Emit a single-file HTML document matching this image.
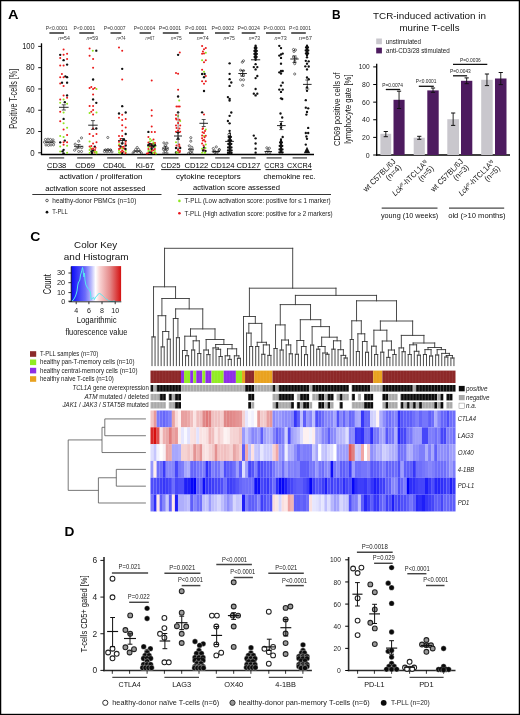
<!DOCTYPE html>
<html><head><meta charset="utf-8"><title>Figure</title>
<style>
html,body{margin:0;padding:0;background:#fff;}
body{width:520px;height:715px;overflow:hidden;}
svg{display:block;font-family:"Liberation Sans", sans-serif;will-change:transform;}
</style></head>
<body>
<svg width="520" height="715" viewBox="0 0 520 715">
<rect x="0" y="0" width="520" height="715" fill="#fff"/>
<text x="8.10" y="18.90" font-size="13.4" fill="#000" font-weight="bold" textLength="10.50" lengthAdjust="spacingAndGlyphs">A</text>
<text x="332.10" y="19.30" font-size="12" fill="#000" font-weight="bold" textLength="8.60" lengthAdjust="spacingAndGlyphs">B</text>
<text x="30.20" y="241.30" font-size="12.2" fill="#000" font-weight="bold" textLength="10.10" lengthAdjust="spacingAndGlyphs">C</text>
<text x="64.60" y="535.90" font-size="12" fill="#000" font-weight="bold" textLength="9.90" lengthAdjust="spacingAndGlyphs">D</text>
<line x1="41.50" y1="43.30" x2="41.50" y2="155.00" stroke="#000" stroke-width="1.3"/>
<line x1="40.90" y1="154.50" x2="314.00" y2="154.50" stroke="#000" stroke-width="1.4"/>
<line x1="38.20" y1="46.40" x2="41.50" y2="46.40" stroke="#000" stroke-width="0.9"/>
<text x="34.70" y="49.19" font-size="8.2" fill="#222" text-anchor="end" textLength="12.50" lengthAdjust="spacingAndGlyphs">100</text>
<line x1="38.20" y1="67.68" x2="41.50" y2="67.68" stroke="#000" stroke-width="0.9"/>
<text x="34.70" y="70.47" font-size="8.2" fill="#222" text-anchor="end" textLength="8.80" lengthAdjust="spacingAndGlyphs">80</text>
<line x1="38.20" y1="88.96" x2="41.50" y2="88.96" stroke="#000" stroke-width="0.9"/>
<text x="34.70" y="91.75" font-size="8.2" fill="#222" text-anchor="end" textLength="8.80" lengthAdjust="spacingAndGlyphs">60</text>
<line x1="38.20" y1="110.24" x2="41.50" y2="110.24" stroke="#000" stroke-width="0.9"/>
<text x="34.70" y="113.03" font-size="8.2" fill="#222" text-anchor="end" textLength="8.80" lengthAdjust="spacingAndGlyphs">40</text>
<line x1="38.20" y1="131.52" x2="41.50" y2="131.52" stroke="#000" stroke-width="0.9"/>
<text x="34.70" y="134.31" font-size="8.2" fill="#222" text-anchor="end" textLength="8.80" lengthAdjust="spacingAndGlyphs">20</text>
<line x1="38.20" y1="152.80" x2="41.50" y2="152.80" stroke="#000" stroke-width="0.9"/>
<text x="34.70" y="155.59" font-size="8.2" fill="#222" text-anchor="end" textLength="4.40" lengthAdjust="spacingAndGlyphs">0</text>
<text x="13.20" y="102.22" font-size="10.2" fill="#222" text-anchor="middle" textLength="59.90" lengthAdjust="spacingAndGlyphs" transform="rotate(-90 13.20 98.75)">Positive T-cells [%]</text>
<text x="45.70" y="29.90" font-size="5.3" fill="#333" textLength="21.90" lengthAdjust="spacingAndGlyphs">P&lt;0.0001</text>
<line x1="49.40" y1="33.00" x2="64.00" y2="33.00" stroke="#3a3a3a" stroke-width="1.6"/>
<text x="58.20" y="40.24" font-size="5.7" fill="#333" textLength="11.70" lengthAdjust="spacingAndGlyphs"><tspan font-style="italic">n</tspan>=54</text>
<text x="73.60" y="29.90" font-size="5.3" fill="#333" textLength="21.60" lengthAdjust="spacingAndGlyphs">P&lt;0.0001</text>
<line x1="79.30" y1="33.00" x2="93.80" y2="33.00" stroke="#3a3a3a" stroke-width="1.6"/>
<text x="86.40" y="40.24" font-size="5.7" fill="#333" textLength="11.70" lengthAdjust="spacingAndGlyphs"><tspan font-style="italic">n</tspan>=59</text>
<text x="103.80" y="29.90" font-size="5.3" fill="#333" textLength="21.80" lengthAdjust="spacingAndGlyphs">P=0.0007</text>
<line x1="110.50" y1="33.00" x2="121.30" y2="33.00" stroke="#3a3a3a" stroke-width="1.6"/>
<text x="116.50" y="40.24" font-size="5.7" fill="#333" textLength="9.10" lengthAdjust="spacingAndGlyphs"><tspan font-style="italic">n</tspan>=74</text>
<text x="133.70" y="29.90" font-size="5.3" fill="#333" textLength="21.50" lengthAdjust="spacingAndGlyphs">P=0.0004</text>
<line x1="139.60" y1="33.00" x2="151.00" y2="33.00" stroke="#3a3a3a" stroke-width="1.6"/>
<text x="145.50" y="40.24" font-size="5.7" fill="#333" textLength="8.90" lengthAdjust="spacingAndGlyphs"><tspan font-style="italic">n</tspan>=67</text>
<text x="158.70" y="29.90" font-size="5.3" fill="#333" textLength="22.50" lengthAdjust="spacingAndGlyphs">P=0.0001</text>
<line x1="162.80" y1="33.00" x2="178.40" y2="33.00" stroke="#3a3a3a" stroke-width="1.6"/>
<text x="170.80" y="40.24" font-size="5.7" fill="#333" textLength="11.00" lengthAdjust="spacingAndGlyphs"><tspan font-style="italic">n</tspan>=75</text>
<text x="185.30" y="29.90" font-size="5.3" fill="#333" textLength="21.80" lengthAdjust="spacingAndGlyphs">P&lt;0.0001</text>
<line x1="189.00" y1="33.00" x2="203.60" y2="33.00" stroke="#3a3a3a" stroke-width="1.6"/>
<text x="196.70" y="40.24" font-size="5.7" fill="#333" textLength="12.10" lengthAdjust="spacingAndGlyphs"><tspan font-style="italic">n</tspan>=74</text>
<text x="211.60" y="29.90" font-size="5.3" fill="#333" textLength="22.50" lengthAdjust="spacingAndGlyphs">P=0.0002</text>
<line x1="215.00" y1="33.00" x2="229.60" y2="33.00" stroke="#3a3a3a" stroke-width="1.6"/>
<text x="223.40" y="40.24" font-size="5.7" fill="#333" textLength="11.40" lengthAdjust="spacingAndGlyphs"><tspan font-style="italic">n</tspan>=75</text>
<text x="237.60" y="29.90" font-size="5.3" fill="#333" textLength="22.40" lengthAdjust="spacingAndGlyphs">P=0.0024</text>
<line x1="241.70" y1="33.00" x2="255.60" y2="33.00" stroke="#3a3a3a" stroke-width="1.6"/>
<text x="248.70" y="40.24" font-size="5.7" fill="#333" textLength="11.30" lengthAdjust="spacingAndGlyphs"><tspan font-style="italic">n</tspan>=73</text>
<text x="263.50" y="29.90" font-size="5.3" fill="#333" textLength="22.20" lengthAdjust="spacingAndGlyphs">P&lt;0.0001</text>
<line x1="266.00" y1="33.00" x2="280.80" y2="33.00" stroke="#3a3a3a" stroke-width="1.6"/>
<text x="274.60" y="40.24" font-size="5.7" fill="#333" textLength="12.10" lengthAdjust="spacingAndGlyphs"><tspan font-style="italic">n</tspan>=73</text>
<text x="289.10" y="29.90" font-size="5.3" fill="#333" textLength="21.90" lengthAdjust="spacingAndGlyphs">P&lt;0.0001</text>
<line x1="291.20" y1="33.00" x2="305.80" y2="33.00" stroke="#3a3a3a" stroke-width="1.6"/>
<text x="298.80" y="40.24" font-size="5.7" fill="#333" textLength="13.20" lengthAdjust="spacingAndGlyphs"><tspan font-style="italic">n</tspan>=67</text>
<line x1="49.20" y1="157.90" x2="64.20" y2="157.90" stroke="#666" stroke-width="1.5"/>
<line x1="77.20" y1="157.90" x2="92.50" y2="157.90" stroke="#666" stroke-width="1.5"/>
<line x1="107.20" y1="157.90" x2="122.20" y2="157.90" stroke="#666" stroke-width="1.5"/>
<line x1="137.20" y1="157.90" x2="152.20" y2="157.90" stroke="#666" stroke-width="1.5"/>
<line x1="163.00" y1="157.90" x2="178.50" y2="157.90" stroke="#666" stroke-width="1.5"/>
<line x1="190.00" y1="157.90" x2="204.50" y2="157.90" stroke="#666" stroke-width="1.5"/>
<line x1="215.20" y1="157.90" x2="229.60" y2="157.90" stroke="#666" stroke-width="1.5"/>
<line x1="241.20" y1="157.90" x2="255.60" y2="157.90" stroke="#666" stroke-width="1.5"/>
<line x1="266.60" y1="157.90" x2="281.60" y2="157.90" stroke="#666" stroke-width="1.5"/>
<line x1="292.60" y1="157.90" x2="307.00" y2="157.90" stroke="#666" stroke-width="1.5"/>
<text x="47.10" y="167.50" font-size="7.6" fill="#000" textLength="19.10" lengthAdjust="spacingAndGlyphs">CD38</text>
<text x="75.20" y="167.50" font-size="7.6" fill="#000" textLength="19.90" lengthAdjust="spacingAndGlyphs">CD69</text>
<text x="102.90" y="167.50" font-size="7.6" fill="#000" textLength="23.30" lengthAdjust="spacingAndGlyphs">CD40L</text>
<text x="135.70" y="167.50" font-size="7.6" fill="#000" textLength="18.20" lengthAdjust="spacingAndGlyphs">Ki-67</text>
<text x="161.10" y="167.50" font-size="7.6" fill="#000" textLength="19.50" lengthAdjust="spacingAndGlyphs">CD25</text>
<text x="184.40" y="167.50" font-size="7.6" fill="#000" textLength="23.90" lengthAdjust="spacingAndGlyphs">CD122</text>
<text x="210.70" y="167.50" font-size="7.6" fill="#000" textLength="23.90" lengthAdjust="spacingAndGlyphs">CD124</text>
<text x="236.60" y="167.50" font-size="7.6" fill="#000" textLength="23.70" lengthAdjust="spacingAndGlyphs">CD127</text>
<text x="264.30" y="167.50" font-size="7.6" fill="#000" textLength="19.30" lengthAdjust="spacingAndGlyphs">CCR3</text>
<text x="287.10" y="167.50" font-size="7.6" fill="#000" textLength="24.60" lengthAdjust="spacingAndGlyphs">CXCR4</text>
<line x1="47.10" y1="169.60" x2="154.80" y2="169.60" stroke="#000" stroke-width="0.9"/>
<line x1="161.10" y1="169.60" x2="260.80" y2="169.60" stroke="#000" stroke-width="0.9"/>
<line x1="265.50" y1="169.60" x2="311.70" y2="169.60" stroke="#000" stroke-width="0.9"/>
<text x="59.20" y="178.68" font-size="7.3" fill="#000" textLength="83.30" lengthAdjust="spacingAndGlyphs">activation / proliferation</text>
<text x="176.00" y="178.68" font-size="7.3" fill="#000" textLength="64.70" lengthAdjust="spacingAndGlyphs">cytokine receptors</text>
<text x="263.50" y="178.68" font-size="7.3" fill="#000" textLength="52.00" lengthAdjust="spacingAndGlyphs">chemokine rec.</text>
<text x="45.20" y="190.68" font-size="7.3" fill="#000" textLength="100.30" lengthAdjust="spacingAndGlyphs">activation score not assessed</text>
<text x="193.00" y="190.28" font-size="7.3" fill="#000" textLength="87.00" lengthAdjust="spacingAndGlyphs">activation score assessed</text>
<line x1="32.30" y1="194.50" x2="161.50" y2="194.50" stroke="#000" stroke-width="0.8"/>
<line x1="177.70" y1="194.50" x2="331.00" y2="194.50" stroke="#000" stroke-width="0.8"/>
<circle cx="47.00" cy="200.50" r="1.3" fill="none" stroke="#222" stroke-width="0.7"/>
<text x="52.30" y="202.84" font-size="6.6" fill="#222" textLength="84.00" lengthAdjust="spacingAndGlyphs">healthy-donor PBMCs (n=10)</text>
<circle cx="47.00" cy="212.20" r="1.35" fill="#111"/>
<text x="52.30" y="214.44" font-size="6.6" fill="#222" textLength="15.50" lengthAdjust="spacingAndGlyphs">T-PLL</text>
<circle cx="179.40" cy="200.90" r="1.3" fill="#8ee620"/>
<text x="184.60" y="203.14" font-size="6.6" fill="#222" textLength="146.00" lengthAdjust="spacingAndGlyphs">T-PLL (Low activation score: positive for ≤ 1 marker)</text>
<circle cx="179.40" cy="213.20" r="1.3" fill="#e8141c"/>
<text x="184.60" y="215.54" font-size="6.6" fill="#222" textLength="148.00" lengthAdjust="spacingAndGlyphs">T-PLL (High activation score: positive for ≥ 2 markers)</text>
<circle cx="45.50" cy="139.50" r="1.08" fill="none" stroke="#222" stroke-width="0.6"/>
<circle cx="48.00" cy="139.20" r="1.08" fill="none" stroke="#222" stroke-width="0.6"/>
<circle cx="50.50" cy="139.50" r="1.08" fill="none" stroke="#222" stroke-width="0.6"/>
<circle cx="53.00" cy="139.80" r="1.08" fill="none" stroke="#222" stroke-width="0.6"/>
<circle cx="44.50" cy="142.20" r="1.08" fill="none" stroke="#222" stroke-width="0.6"/>
<circle cx="47.00" cy="142.00" r="1.08" fill="none" stroke="#222" stroke-width="0.6"/>
<circle cx="49.50" cy="142.40" r="1.08" fill="none" stroke="#222" stroke-width="0.6"/>
<circle cx="52.00" cy="142.00" r="1.08" fill="none" stroke="#222" stroke-width="0.6"/>
<circle cx="54.00" cy="142.30" r="1.08" fill="none" stroke="#222" stroke-width="0.6"/>
<circle cx="46.00" cy="145.00" r="1.08" fill="none" stroke="#222" stroke-width="0.6"/>
<circle cx="48.50" cy="145.30" r="1.08" fill="none" stroke="#222" stroke-width="0.6"/>
<circle cx="51.00" cy="145.00" r="1.08" fill="none" stroke="#222" stroke-width="0.6"/>
<circle cx="53.50" cy="144.80" r="1.08" fill="none" stroke="#222" stroke-width="0.6"/>
<line x1="45.50" y1="142.20" x2="53.00" y2="142.20" stroke="#111" stroke-width="0.9"/>
<circle cx="63.60" cy="49.60" r="1.02" fill="#ea1b1b"/>
<circle cx="60.20" cy="54.80" r="1.17" fill="#111"/>
<circle cx="63.60" cy="54.80" r="1.02" fill="#ea1b1b"/>
<circle cx="67.10" cy="53.80" r="1.02" fill="#ea1b1b"/>
<circle cx="60.20" cy="58.10" r="1.02" fill="#ea1b1b"/>
<circle cx="63.60" cy="60.20" r="1.17" fill="#111"/>
<circle cx="67.10" cy="59.00" r="1.02" fill="#ea1b1b"/>
<circle cx="67.10" cy="64.60" r="1.17" fill="#111"/>
<circle cx="60.20" cy="65.60" r="1.02" fill="#ea1b1b"/>
<circle cx="63.60" cy="65.60" r="1.02" fill="#ea1b1b"/>
<circle cx="61.90" cy="74.00" r="1.02" fill="#ea1b1b"/>
<circle cx="65.40" cy="76.30" r="1.17" fill="#111"/>
<circle cx="67.10" cy="77.20" r="1.17" fill="#111"/>
<circle cx="60.20" cy="77.30" r="1.02" fill="#ea1b1b"/>
<circle cx="63.60" cy="77.30" r="1.02" fill="#ea1b1b"/>
<circle cx="62.00" cy="82.70" r="1.17" fill="#111"/>
<circle cx="60.20" cy="83.60" r="1.02" fill="#ea1b1b"/>
<circle cx="67.10" cy="82.70" r="1.17" fill="#111"/>
<circle cx="63.60" cy="86.00" r="1.02" fill="#ea1b1b"/>
<circle cx="63.60" cy="95.40" r="1.02" fill="#ea1b1b"/>
<circle cx="67.10" cy="95.40" r="1.17" fill="#111"/>
<circle cx="67.10" cy="97.70" r="1.02" fill="#ea1b1b"/>
<circle cx="60.20" cy="99.40" r="1.02" fill="#ea1b1b"/>
<circle cx="63.60" cy="99.40" r="1.02" fill="#8fe51f"/>
<circle cx="60.20" cy="102.80" r="1.02" fill="#8fe51f"/>
<circle cx="67.10" cy="103.70" r="1.02" fill="#8fe51f"/>
<circle cx="64.80" cy="102.20" r="1.17" fill="#111"/>
<circle cx="60.20" cy="111.70" r="1.02" fill="#ea1b1b"/>
<circle cx="63.60" cy="112.50" r="1.02" fill="#8fe51f"/>
<circle cx="63.60" cy="118.90" r="1.17" fill="#111"/>
<circle cx="60.20" cy="121.30" r="1.02" fill="#ea1b1b"/>
<circle cx="63.60" cy="123.30" r="1.02" fill="#8fe51f"/>
<circle cx="67.10" cy="127.70" r="1.02" fill="#8fe51f"/>
<circle cx="63.60" cy="129.60" r="1.02" fill="#ea1b1b"/>
<circle cx="67.10" cy="135.00" r="1.02" fill="#ea1b1b"/>
<circle cx="60.20" cy="136.00" r="1.02" fill="#8fe51f"/>
<circle cx="63.60" cy="137.10" r="1.02" fill="#8fe51f"/>
<circle cx="64.80" cy="140.60" r="1.17" fill="#111"/>
<circle cx="60.20" cy="142.30" r="1.17" fill="#111"/>
<circle cx="63.60" cy="142.30" r="1.02" fill="#ea1b1b"/>
<circle cx="67.10" cy="142.30" r="1.02" fill="#ea1b1b"/>
<circle cx="60.20" cy="146.60" r="1.02" fill="#8fe51f"/>
<circle cx="63.60" cy="144.80" r="1.02" fill="#ea1b1b"/>
<circle cx="67.10" cy="145.80" r="1.02" fill="#8fe51f"/>
<circle cx="63.60" cy="149.80" r="1.17" fill="#111"/>
<circle cx="62.50" cy="151.30" r="1.17" fill="#111"/>
<circle cx="60.20" cy="151.50" r="1.02" fill="#8fe51f"/>
<circle cx="67.10" cy="152.70" r="1.02" fill="#8fe51f"/>
<circle cx="63.60" cy="153.30" r="1.17" fill="#111"/>
<line x1="59.00" y1="107.30" x2="68.60" y2="107.30" stroke="#111" stroke-width="0.9"/>
<line x1="63.80" y1="104.80" x2="63.80" y2="110.00" stroke="#111" stroke-width="0.7"/>
<line x1="61.80" y1="104.80" x2="65.80" y2="104.80" stroke="#111" stroke-width="0.7"/>
<line x1="61.80" y1="110.00" x2="65.80" y2="110.00" stroke="#111" stroke-width="0.7"/>
<circle cx="81.50" cy="137.90" r="1.08" fill="none" stroke="#222" stroke-width="0.6"/>
<circle cx="78.70" cy="141.20" r="1.08" fill="none" stroke="#222" stroke-width="0.6"/>
<circle cx="75.20" cy="144.20" r="1.08" fill="none" stroke="#222" stroke-width="0.6"/>
<circle cx="81.80" cy="147.60" r="1.08" fill="none" stroke="#222" stroke-width="0.6"/>
<circle cx="74.60" cy="150.20" r="1.08" fill="none" stroke="#222" stroke-width="0.6"/>
<circle cx="78.70" cy="151.50" r="1.08" fill="none" stroke="#222" stroke-width="0.6"/>
<circle cx="81.50" cy="151.50" r="1.08" fill="none" stroke="#222" stroke-width="0.6"/>
<circle cx="76.80" cy="148.20" r="1.08" fill="none" stroke="#222" stroke-width="0.6"/>

<line x1="74.00" y1="146.30" x2="83.30" y2="146.30" stroke="#111" stroke-width="0.9"/>
<line x1="78.65" y1="144.60" x2="78.65" y2="148.00" stroke="#111" stroke-width="0.7"/>
<line x1="76.65" y1="144.60" x2="80.65" y2="144.60" stroke="#111" stroke-width="0.7"/>
<line x1="76.65" y1="148.00" x2="80.65" y2="148.00" stroke="#111" stroke-width="0.7"/>
<circle cx="89.60" cy="48.40" r="1.02" fill="#ea1b1b"/>
<circle cx="92.80" cy="50.70" r="1.02" fill="#8fe51f"/>
<circle cx="96.30" cy="50.70" r="1.17" fill="#111"/>
<circle cx="89.60" cy="55.80" r="1.02" fill="#ea1b1b"/>
<circle cx="93.10" cy="59.00" r="1.02" fill="#ea1b1b"/>
<circle cx="93.10" cy="67.70" r="1.02" fill="#ea1b1b"/>
<circle cx="93.10" cy="79.50" r="1.17" fill="#111"/>
<circle cx="89.60" cy="87.90" r="1.02" fill="#ea1b1b"/>
<circle cx="91.30" cy="87.10" r="1.02" fill="#ea1b1b"/>
<circle cx="93.10" cy="89.00" r="1.02" fill="#ea1b1b"/>
<circle cx="94.80" cy="87.90" r="1.02" fill="#ea1b1b"/>
<circle cx="96.50" cy="89.00" r="1.02" fill="#8fe51f"/>
<circle cx="93.10" cy="94.50" r="1.02" fill="#ea1b1b"/>
<circle cx="93.10" cy="99.40" r="1.17" fill="#111"/>
<circle cx="96.30" cy="102.80" r="1.17" fill="#111"/>
<circle cx="89.60" cy="106.00" r="1.02" fill="#ea1b1b"/>
<circle cx="93.10" cy="106.00" r="1.02" fill="#ea1b1b"/>
<circle cx="93.10" cy="110.00" r="1.02" fill="#ea1b1b"/>
<circle cx="91.30" cy="111.70" r="1.02" fill="#ea1b1b"/>
<circle cx="89.60" cy="112.90" r="1.02" fill="#8fe51f"/>
<circle cx="93.10" cy="114.60" r="1.02" fill="#ea1b1b"/>
<circle cx="96.50" cy="112.50" r="1.02" fill="#8fe51f"/>
<circle cx="93.10" cy="128.50" r="1.02" fill="#ea1b1b"/>
<circle cx="96.30" cy="128.50" r="1.17" fill="#111"/>
<circle cx="89.60" cy="134.00" r="1.02" fill="#ea1b1b"/>
<circle cx="96.50" cy="134.00" r="1.02" fill="#ea1b1b"/>
<circle cx="93.10" cy="136.00" r="1.02" fill="#ea1b1b"/>
<circle cx="89.60" cy="141.40" r="1.02" fill="#8fe51f"/>
<circle cx="93.10" cy="143.50" r="1.02" fill="#ea1b1b"/>
<circle cx="96.50" cy="142.30" r="1.02" fill="#ea1b1b"/>
<circle cx="89.60" cy="146.60" r="1.02" fill="#ea1b1b"/>
<circle cx="91.30" cy="146.00" r="1.02" fill="#ea1b1b"/>
<circle cx="94.80" cy="146.60" r="1.17" fill="#111"/>
<circle cx="89.60" cy="150.00" r="1.02" fill="#8fe51f"/>
<circle cx="91.50" cy="149.00" r="1.02" fill="#ea1b1b"/>
<circle cx="93.10" cy="150.50" r="1.17" fill="#111"/>
<circle cx="95.00" cy="150.00" r="1.02" fill="#ea1b1b"/>
<circle cx="96.50" cy="152.00" r="1.02" fill="#8fe51f"/>
<circle cx="89.60" cy="153.00" r="1.02" fill="#8fe51f"/>
<circle cx="92.00" cy="153.00" r="1.17" fill="#111"/>
<circle cx="94.50" cy="152.50" r="1.02" fill="#ea1b1b"/>
<circle cx="90.50" cy="148.00" r="1.02" fill="#8fe51f"/>
<circle cx="95.50" cy="147.80" r="1.02" fill="#ea1b1b"/>
<circle cx="91.50" cy="151.50" r="1.17" fill="#111"/>
<circle cx="94.80" cy="151.80" r="1.02" fill="#8fe51f"/>
<circle cx="93.10" cy="148.60" r="1.02" fill="#ea1b1b"/>
<circle cx="96.50" cy="153.20" r="1.02" fill="#8fe51f"/>
<line x1="88.20" y1="125.20" x2="97.70" y2="125.20" stroke="#111" stroke-width="0.9"/>
<line x1="92.95" y1="120.60" x2="92.95" y2="129.40" stroke="#111" stroke-width="0.7"/>
<line x1="90.95" y1="120.60" x2="94.95" y2="120.60" stroke="#111" stroke-width="0.7"/>
<line x1="90.95" y1="129.40" x2="94.95" y2="129.40" stroke="#111" stroke-width="0.7"/>
<circle cx="104.50" cy="151.60" r="1.08" fill="none" stroke="#222" stroke-width="0.6"/>
<circle cx="107.00" cy="151.90" r="1.08" fill="none" stroke="#222" stroke-width="0.6"/>
<circle cx="109.50" cy="151.60" r="1.08" fill="none" stroke="#222" stroke-width="0.6"/>
<circle cx="112.00" cy="151.90" r="1.08" fill="none" stroke="#222" stroke-width="0.6"/>
<circle cx="105.50" cy="149.80" r="1.08" fill="none" stroke="#222" stroke-width="0.6"/>
<circle cx="108.00" cy="149.50" r="1.08" fill="none" stroke="#222" stroke-width="0.6"/>
<circle cx="110.50" cy="149.80" r="1.08" fill="none" stroke="#222" stroke-width="0.6"/>
<circle cx="107.80" cy="137.50" r="1.08" fill="none" stroke="#222" stroke-width="0.6"/>
<line x1="103.50" y1="150.00" x2="112.00" y2="150.00" stroke="#111" stroke-width="0.9"/>
<circle cx="119.00" cy="47.50" r="1.02" fill="#ea1b1b"/>
<circle cx="122.20" cy="50.70" r="1.02" fill="#ea1b1b"/>
<circle cx="122.20" cy="68.80" r="1.17" fill="#111"/>
<circle cx="122.20" cy="79.50" r="1.02" fill="#ea1b1b"/>
<circle cx="122.20" cy="106.20" r="1.17" fill="#111"/>
<circle cx="119.00" cy="113.50" r="1.17" fill="#111"/>
<circle cx="125.70" cy="112.50" r="1.17" fill="#111"/>
<circle cx="122.20" cy="114.80" r="1.02" fill="#ea1b1b"/>
<circle cx="119.00" cy="117.70" r="1.02" fill="#ea1b1b"/>
<circle cx="125.70" cy="118.90" r="1.02" fill="#ea1b1b"/>
<circle cx="122.20" cy="120.00" r="1.02" fill="#ea1b1b"/>
<circle cx="122.20" cy="125.30" r="1.02" fill="#ea1b1b"/>
<circle cx="125.70" cy="127.50" r="1.02" fill="#ea1b1b"/>
<circle cx="122.20" cy="130.80" r="1.02" fill="#ea1b1b"/>
<circle cx="125.70" cy="134.00" r="1.17" fill="#111"/>
<circle cx="119.00" cy="136.00" r="1.02" fill="#ea1b1b"/>
<circle cx="122.20" cy="136.00" r="1.02" fill="#ea1b1b"/>
<circle cx="119.00" cy="141.70" r="1.02" fill="#ea1b1b"/>
<circle cx="125.70" cy="141.70" r="1.02" fill="#ea1b1b"/>
<circle cx="122.20" cy="143.50" r="1.17" fill="#111"/>
<circle cx="119.00" cy="145.50" r="1.02" fill="#ea1b1b"/>
<circle cx="125.70" cy="145.50" r="1.17" fill="#111"/>
<circle cx="122.20" cy="147.00" r="1.02" fill="#ea1b1b"/>
<circle cx="120.00" cy="148.50" r="1.02" fill="#ea1b1b"/>
<circle cx="124.00" cy="148.50" r="1.02" fill="#ea1b1b"/>
<circle cx="119.00" cy="150.50" r="1.02" fill="#8fe51f"/>
<circle cx="122.20" cy="150.50" r="1.02" fill="#ea1b1b"/>
<circle cx="125.70" cy="150.50" r="1.02" fill="#8fe51f"/>
<circle cx="119.00" cy="152.50" r="1.02" fill="#8fe51f"/>
<circle cx="122.20" cy="153.00" r="1.17" fill="#111"/>
<circle cx="125.70" cy="152.50" r="1.02" fill="#8fe51f"/>
<circle cx="121.00" cy="152.00" r="1.02" fill="#ea1b1b"/>
<circle cx="120.50" cy="139.00" r="1.02" fill="#ea1b1b"/>
<circle cx="124.00" cy="139.50" r="1.17" fill="#111"/>
<circle cx="119.20" cy="144.20" r="1.02" fill="#8fe51f"/>
<circle cx="125.50" cy="144.00" r="1.02" fill="#ea1b1b"/>
<circle cx="120.50" cy="146.50" r="1.17" fill="#111"/>
<circle cx="123.80" cy="146.80" r="1.02" fill="#ea1b1b"/>
<circle cx="122.20" cy="148.60" r="1.02" fill="#8fe51f"/>
<circle cx="119.00" cy="149.00" r="1.02" fill="#ea1b1b"/>
<circle cx="125.50" cy="149.00" r="1.17" fill="#111"/>
<circle cx="123.50" cy="151.80" r="1.02" fill="#ea1b1b"/>
<circle cx="120.00" cy="153.20" r="1.02" fill="#8fe51f"/>
<circle cx="125.50" cy="153.20" r="1.02" fill="#ea1b1b"/>
<line x1="118.00" y1="140.60" x2="127.00" y2="140.60" stroke="#111" stroke-width="0.9"/>
<line x1="122.50" y1="138.50" x2="122.50" y2="143.00" stroke="#111" stroke-width="0.7"/>
<line x1="120.50" y1="138.50" x2="124.50" y2="138.50" stroke="#111" stroke-width="0.7"/>
<line x1="120.50" y1="143.00" x2="124.50" y2="143.00" stroke="#111" stroke-width="0.7"/>
<circle cx="137.20" cy="147.50" r="1.08" fill="none" stroke="#222" stroke-width="0.6"/>
<circle cx="135.70" cy="149.50" r="1.08" fill="none" stroke="#222" stroke-width="0.6"/>
<circle cx="138.70" cy="149.50" r="1.08" fill="none" stroke="#222" stroke-width="0.6"/>
<circle cx="134.20" cy="151.50" r="1.08" fill="none" stroke="#222" stroke-width="0.6"/>
<circle cx="137.20" cy="151.50" r="1.08" fill="none" stroke="#222" stroke-width="0.6"/>
<circle cx="140.20" cy="151.50" r="1.08" fill="none" stroke="#222" stroke-width="0.6"/>
<circle cx="133.00" cy="153.00" r="1.08" fill="none" stroke="#222" stroke-width="0.6"/>
<circle cx="141.40" cy="153.00" r="1.08" fill="none" stroke="#222" stroke-width="0.6"/>
<line x1="134.00" y1="151.20" x2="140.50" y2="151.20" stroke="#111" stroke-width="0.9"/>
<circle cx="151.70" cy="80.40" r="1.02" fill="#ea1b1b"/>
<circle cx="151.70" cy="110.20" r="1.02" fill="#ea1b1b"/>
<circle cx="151.70" cy="115.80" r="1.02" fill="#ea1b1b"/>
<circle cx="151.70" cy="126.40" r="1.02" fill="#ea1b1b"/>
<circle cx="148.40" cy="131.90" r="1.17" fill="#111"/>
<circle cx="151.70" cy="131.90" r="1.02" fill="#ea1b1b"/>
<circle cx="154.90" cy="131.90" r="1.02" fill="#ea1b1b"/>
<circle cx="148.40" cy="137.10" r="1.02" fill="#ea1b1b"/>
<circle cx="151.70" cy="140.60" r="1.02" fill="#8fe51f"/>
<circle cx="150.00" cy="141.50" r="1.02" fill="#8fe51f"/>
<circle cx="148.40" cy="142.50" r="1.02" fill="#ea1b1b"/>
<circle cx="153.40" cy="142.50" r="1.02" fill="#8fe51f"/>
<circle cx="155.00" cy="143.00" r="1.02" fill="#ea1b1b"/>
<circle cx="151.70" cy="144.00" r="1.02" fill="#ea1b1b"/>
<circle cx="148.40" cy="145.00" r="1.17" fill="#111"/>
<circle cx="151.70" cy="145.50" r="1.17" fill="#111"/>
<circle cx="154.90" cy="145.00" r="1.17" fill="#111"/>
<circle cx="148.40" cy="147.00" r="1.02" fill="#8fe51f"/>
<circle cx="151.70" cy="147.00" r="1.02" fill="#ea1b1b"/>
<circle cx="154.90" cy="147.00" r="1.02" fill="#8fe51f"/>
<circle cx="148.40" cy="149.00" r="1.02" fill="#ea1b1b"/>
<circle cx="151.70" cy="149.00" r="1.17" fill="#111"/>
<circle cx="154.90" cy="149.00" r="1.02" fill="#ea1b1b"/>
<circle cx="148.40" cy="151.00" r="1.02" fill="#8fe51f"/>
<circle cx="151.70" cy="151.00" r="1.02" fill="#ea1b1b"/>
<circle cx="154.90" cy="151.00" r="1.02" fill="#8fe51f"/>
<circle cx="148.40" cy="153.00" r="1.02" fill="#ea1b1b"/>
<circle cx="151.70" cy="153.00" r="1.17" fill="#111"/>
<circle cx="154.90" cy="153.00" r="1.02" fill="#ea1b1b"/>
<circle cx="150.00" cy="139.00" r="1.02" fill="#8fe51f"/>
<circle cx="153.50" cy="139.50" r="1.02" fill="#ea1b1b"/>
<circle cx="149.80" cy="143.80" r="1.17" fill="#111"/>
<circle cx="153.60" cy="144.00" r="1.02" fill="#8fe51f"/>
<circle cx="150.00" cy="146.20" r="1.02" fill="#ea1b1b"/>
<circle cx="153.50" cy="146.50" r="1.17" fill="#111"/>
<circle cx="150.00" cy="150.00" r="1.02" fill="#8fe51f"/>
<circle cx="153.30" cy="150.20" r="1.02" fill="#ea1b1b"/>
<circle cx="150.00" cy="152.30" r="1.17" fill="#111"/>
<circle cx="153.30" cy="152.80" r="1.02" fill="#8fe51f"/>
<circle cx="147.00" cy="153.40" r="1.02" fill="#ea1b1b"/>
<circle cx="156.00" cy="153.40" r="1.02" fill="#8fe51f"/>
<line x1="147.00" y1="145.80" x2="156.50" y2="145.80" stroke="#111" stroke-width="0.9"/>
<line x1="151.75" y1="144.00" x2="151.75" y2="148.00" stroke="#111" stroke-width="0.7"/>
<line x1="149.75" y1="144.00" x2="153.75" y2="144.00" stroke="#111" stroke-width="0.7"/>
<line x1="149.75" y1="148.00" x2="153.75" y2="148.00" stroke="#111" stroke-width="0.7"/>
<circle cx="163.90" cy="142.90" r="1.08" fill="none" stroke="#222" stroke-width="0.6"/>
<circle cx="166.90" cy="143.20" r="1.08" fill="none" stroke="#222" stroke-width="0.6"/>
<circle cx="165.40" cy="145.50" r="1.08" fill="none" stroke="#222" stroke-width="0.6"/>
<circle cx="163.50" cy="149.50" r="1.08" fill="none" stroke="#222" stroke-width="0.6"/>
<circle cx="167.30" cy="149.50" r="1.08" fill="none" stroke="#222" stroke-width="0.6"/>
<circle cx="165.40" cy="151.50" r="1.08" fill="none" stroke="#222" stroke-width="0.6"/>
<circle cx="163.80" cy="153.00" r="1.08" fill="none" stroke="#222" stroke-width="0.6"/>
<circle cx="167.00" cy="153.00" r="1.08" fill="none" stroke="#222" stroke-width="0.6"/>
<line x1="162.00" y1="148.00" x2="169.00" y2="148.00" stroke="#111" stroke-width="0.9"/>
<line x1="165.50" y1="146.30" x2="165.50" y2="149.80" stroke="#111" stroke-width="0.7"/>
<line x1="163.50" y1="146.30" x2="167.50" y2="146.30" stroke="#111" stroke-width="0.7"/>
<line x1="163.50" y1="149.80" x2="167.50" y2="149.80" stroke="#111" stroke-width="0.7"/>
<circle cx="179.80" cy="52.50" r="1.02" fill="#ea1b1b"/>
<circle cx="178.10" cy="54.80" r="1.17" fill="#111"/>
<circle cx="176.00" cy="72.90" r="1.02" fill="#ea1b1b"/>
<circle cx="178.10" cy="73.80" r="1.02" fill="#ea1b1b"/>
<circle cx="178.10" cy="89.80" r="1.02" fill="#ea1b1b"/>
<circle cx="178.10" cy="96.50" r="1.17" fill="#111"/>
<circle cx="179.20" cy="100.50" r="1.02" fill="#8fe51f"/>
<circle cx="176.50" cy="106.50" r="1.02" fill="#ea1b1b"/>
<circle cx="178.10" cy="106.50" r="1.02" fill="#ea1b1b"/>
<circle cx="179.70" cy="106.50" r="1.02" fill="#ea1b1b"/>
<circle cx="178.10" cy="112.30" r="1.17" fill="#111"/>
<circle cx="176.00" cy="115.00" r="1.02" fill="#ea1b1b"/>
<circle cx="178.10" cy="116.00" r="1.02" fill="#8fe51f"/>
<circle cx="176.00" cy="118.60" r="1.02" fill="#ea1b1b"/>
<circle cx="180.20" cy="121.00" r="1.02" fill="#8fe51f"/>
<circle cx="176.00" cy="125.60" r="1.02" fill="#ea1b1b"/>
<circle cx="180.20" cy="125.60" r="1.02" fill="#ea1b1b"/>
<circle cx="176.00" cy="131.70" r="1.02" fill="#ea1b1b"/>
<circle cx="180.20" cy="131.70" r="1.02" fill="#ea1b1b"/>
<circle cx="178.10" cy="132.50" r="1.17" fill="#111"/>
<circle cx="178.10" cy="138.30" r="1.17" fill="#111"/>
<circle cx="176.00" cy="142.30" r="1.02" fill="#8fe51f"/>
<circle cx="179.20" cy="144.60" r="1.02" fill="#ea1b1b"/>
<circle cx="176.00" cy="148.00" r="1.17" fill="#111"/>
<circle cx="180.20" cy="148.00" r="1.17" fill="#111"/>
<circle cx="178.10" cy="149.20" r="1.02" fill="#ea1b1b"/>
<circle cx="178.10" cy="152.70" r="1.02" fill="#8fe51f"/>
<circle cx="176.00" cy="152.50" r="1.17" fill="#111"/>
<circle cx="180.00" cy="151.00" r="1.02" fill="#ea1b1b"/>
<line x1="178.10" y1="111.00" x2="178.10" y2="153.50" stroke="#555" stroke-width="0.7"/>
<circle cx="176.50" cy="119.50" r="1.02" fill="#ea1b1b"/>
<circle cx="179.50" cy="119.80" r="1.02" fill="#ea1b1b"/>
<circle cx="178.10" cy="123.00" r="1.02" fill="#ea1b1b"/>
<circle cx="176.50" cy="128.00" r="1.02" fill="#ea1b1b"/>
<circle cx="179.50" cy="128.50" r="1.02" fill="#ea1b1b"/>
<circle cx="178.10" cy="130.80" r="1.02" fill="#ea1b1b"/>
<circle cx="176.50" cy="145.50" r="1.02" fill="#ea1b1b"/>
<circle cx="179.50" cy="146.20" r="1.02" fill="#ea1b1b"/>
<circle cx="178.10" cy="150.50" r="1.02" fill="#ea1b1b"/>
<circle cx="176.60" cy="152.60" r="1.02" fill="#8fe51f"/>
<circle cx="179.60" cy="152.20" r="1.02" fill="#ea1b1b"/>
<line x1="174.00" y1="136.00" x2="182.00" y2="136.00" stroke="#111" stroke-width="0.9"/>
<line x1="178.00" y1="132.50" x2="178.00" y2="139.40" stroke="#111" stroke-width="0.7"/>
<line x1="176.00" y1="132.50" x2="180.00" y2="132.50" stroke="#111" stroke-width="0.7"/>
<line x1="176.00" y1="139.40" x2="180.00" y2="139.40" stroke="#111" stroke-width="0.7"/>
<circle cx="190.80" cy="137.70" r="1.08" fill="none" stroke="#222" stroke-width="0.6"/>
<circle cx="190.80" cy="141.20" r="1.08" fill="none" stroke="#222" stroke-width="0.6"/>
<circle cx="189.30" cy="145.80" r="1.08" fill="none" stroke="#222" stroke-width="0.6"/>
<circle cx="191.80" cy="147.30" r="1.08" fill="none" stroke="#222" stroke-width="0.6"/>
<circle cx="189.80" cy="149.50" r="1.08" fill="none" stroke="#222" stroke-width="0.6"/>
<circle cx="192.00" cy="150.80" r="1.08" fill="none" stroke="#222" stroke-width="0.6"/>
<circle cx="190.20" cy="152.50" r="1.08" fill="none" stroke="#222" stroke-width="0.6"/>
<circle cx="188.60" cy="153.20" r="1.08" fill="none" stroke="#222" stroke-width="0.6"/>
<circle cx="192.00" cy="153.30" r="1.08" fill="none" stroke="#222" stroke-width="0.6"/>
<line x1="188.00" y1="149.20" x2="194.00" y2="149.20" stroke="#111" stroke-width="0.9"/>
<circle cx="202.10" cy="46.00" r="1.02" fill="#ea1b1b"/>
<circle cx="205.80" cy="48.10" r="1.02" fill="#ea1b1b"/>
<circle cx="204.00" cy="49.20" r="1.02" fill="#ea1b1b"/>
<circle cx="202.90" cy="51.50" r="1.02" fill="#ea1b1b"/>
<circle cx="202.10" cy="53.80" r="1.02" fill="#ea1b1b"/>
<circle cx="204.00" cy="53.60" r="1.02" fill="#ea1b1b"/>
<circle cx="205.80" cy="52.70" r="1.02" fill="#8fe51f"/>
<circle cx="202.10" cy="60.20" r="1.02" fill="#8fe51f"/>
<circle cx="205.80" cy="60.20" r="1.02" fill="#ea1b1b"/>
<circle cx="204.00" cy="62.20" r="1.02" fill="#ea1b1b"/>
<circle cx="202.10" cy="69.80" r="1.02" fill="#ea1b1b"/>
<circle cx="204.00" cy="71.70" r="1.02" fill="#8fe51f"/>
<circle cx="202.10" cy="74.00" r="1.17" fill="#111"/>
<circle cx="204.60" cy="74.00" r="1.17" fill="#111"/>
<circle cx="205.80" cy="76.00" r="1.02" fill="#ea1b1b"/>
<circle cx="204.00" cy="77.20" r="1.17" fill="#111"/>
<circle cx="202.10" cy="81.30" r="1.02" fill="#ea1b1b"/>
<circle cx="205.80" cy="81.30" r="1.02" fill="#ea1b1b"/>
<circle cx="204.00" cy="83.80" r="1.02" fill="#ea1b1b"/>
<circle cx="204.00" cy="91.00" r="1.17" fill="#111"/>
<circle cx="202.10" cy="112.30" r="1.17" fill="#111"/>
<circle cx="204.00" cy="114.60" r="1.02" fill="#ea1b1b"/>
<circle cx="202.50" cy="129.00" r="1.02" fill="#ea1b1b"/>
<circle cx="205.80" cy="129.60" r="1.02" fill="#8fe51f"/>
<circle cx="204.00" cy="133.00" r="1.02" fill="#ea1b1b"/>
<circle cx="202.10" cy="135.50" r="1.02" fill="#ea1b1b"/>
<circle cx="205.80" cy="135.80" r="1.02" fill="#ea1b1b"/>
<circle cx="204.00" cy="136.00" r="1.02" fill="#8fe51f"/>
<circle cx="202.10" cy="138.30" r="1.02" fill="#ea1b1b"/>
<circle cx="204.00" cy="140.00" r="1.02" fill="#ea1b1b"/>
<circle cx="202.10" cy="143.50" r="1.02" fill="#ea1b1b"/>
<circle cx="205.80" cy="144.60" r="1.02" fill="#8fe51f"/>
<circle cx="204.00" cy="147.50" r="1.17" fill="#111"/>
<circle cx="202.10" cy="148.70" r="1.02" fill="#8fe51f"/>
<circle cx="204.00" cy="150.00" r="1.02" fill="#ea1b1b"/>
<circle cx="205.50" cy="151.00" r="1.17" fill="#111"/>
<circle cx="202.10" cy="152.70" r="1.02" fill="#8fe51f"/>
<circle cx="204.60" cy="152.70" r="1.02" fill="#8fe51f"/>
<circle cx="203.00" cy="128.30" r="1.02" fill="#ea1b1b"/>
<circle cx="205.00" cy="131.00" r="1.02" fill="#ea1b1b"/>
<circle cx="202.60" cy="132.20" r="1.02" fill="#ea1b1b"/>
<circle cx="204.60" cy="137.20" r="1.02" fill="#ea1b1b"/>
<circle cx="202.80" cy="140.50" r="1.02" fill="#ea1b1b"/>
<circle cx="205.30" cy="141.50" r="1.02" fill="#ea1b1b"/>
<circle cx="203.60" cy="145.50" r="1.02" fill="#ea1b1b"/>
<circle cx="205.50" cy="148.00" r="1.02" fill="#8fe51f"/>
<circle cx="203.00" cy="150.50" r="1.17" fill="#111"/>
<circle cx="205.20" cy="152.80" r="1.02" fill="#8fe51f"/>
<line x1="199.40" y1="123.30" x2="208.00" y2="123.30" stroke="#111" stroke-width="0.9"/>
<line x1="203.70" y1="119.50" x2="203.70" y2="126.50" stroke="#111" stroke-width="0.7"/>
<line x1="201.70" y1="119.50" x2="205.70" y2="119.50" stroke="#111" stroke-width="0.7"/>
<line x1="201.70" y1="126.50" x2="205.70" y2="126.50" stroke="#111" stroke-width="0.7"/>
<circle cx="216.30" cy="146.90" r="1.08" fill="none" stroke="#222" stroke-width="0.6"/>
<circle cx="213.30" cy="148.50" r="1.08" fill="none" stroke="#222" stroke-width="0.6"/>
<circle cx="219.30" cy="150.00" r="1.08" fill="none" stroke="#222" stroke-width="0.6"/>
<circle cx="214.80" cy="151.00" r="1.08" fill="none" stroke="#222" stroke-width="0.6"/>
<circle cx="217.80" cy="152.00" r="1.08" fill="none" stroke="#222" stroke-width="0.6"/>
<circle cx="216.30" cy="153.00" r="1.08" fill="none" stroke="#222" stroke-width="0.6"/>
<circle cx="213.30" cy="151.50" r="1.08" fill="none" stroke="#222" stroke-width="0.6"/>
<circle cx="219.30" cy="149.50" r="1.08" fill="none" stroke="#222" stroke-width="0.6"/>
<circle cx="214.80" cy="152.50" r="1.08" fill="none" stroke="#222" stroke-width="0.6"/>
<line x1="212.50" y1="151.50" x2="220.00" y2="151.50" stroke="#111" stroke-width="0.9"/>
<circle cx="229.60" cy="63.30" r="1.17" fill="#111"/>
<circle cx="229.60" cy="73.80" r="1.17" fill="#111"/>
<circle cx="229.60" cy="79.20" r="1.17" fill="#111"/>
<circle cx="231.30" cy="82.50" r="1.17" fill="#111"/>
<circle cx="229.60" cy="85.90" r="1.17" fill="#111"/>
<circle cx="227.90" cy="97.10" r="1.17" fill="#111"/>
<circle cx="229.60" cy="98.80" r="1.17" fill="#111"/>
<circle cx="229.60" cy="100.50" r="1.17" fill="#111"/>
<circle cx="231.30" cy="112.50" r="1.17" fill="#111"/>
<circle cx="229.60" cy="115.80" r="1.17" fill="#111"/>
<circle cx="227.90" cy="121.00" r="1.17" fill="#111"/>
<circle cx="229.60" cy="123.30" r="1.17" fill="#111"/>
<circle cx="229.60" cy="130.80" r="1.17" fill="#111"/>
<circle cx="229.80" cy="133.50" r="1.15" fill="#111"/>
<circle cx="229.80" cy="134.60" r="1.15" fill="#111"/>
<circle cx="229.80" cy="135.70" r="1.15" fill="#111"/>
<circle cx="229.80" cy="136.80" r="1.15" fill="#111"/>
<circle cx="229.80" cy="137.90" r="1.15" fill="#111"/>
<circle cx="229.80" cy="139.00" r="1.15" fill="#111"/>
<circle cx="229.80" cy="140.10" r="1.15" fill="#111"/>
<circle cx="229.80" cy="141.20" r="1.15" fill="#111"/>
<circle cx="229.80" cy="142.30" r="1.15" fill="#111"/>
<circle cx="229.80" cy="143.40" r="1.15" fill="#111"/>
<circle cx="229.80" cy="144.50" r="1.15" fill="#111"/>
<circle cx="229.80" cy="145.60" r="1.15" fill="#111"/>
<circle cx="229.80" cy="146.70" r="1.15" fill="#111"/>
<circle cx="229.80" cy="147.80" r="1.15" fill="#111"/>
<circle cx="229.80" cy="148.90" r="1.15" fill="#111"/>
<circle cx="229.80" cy="150.00" r="1.15" fill="#111"/>
<circle cx="229.80" cy="151.10" r="1.15" fill="#111"/>
<circle cx="229.80" cy="152.20" r="1.15" fill="#111"/>
<circle cx="229.80" cy="153.30" r="1.15" fill="#111"/>
<circle cx="228.70" cy="137.00" r="1.15" fill="#111"/>
<circle cx="230.90" cy="137.00" r="1.15" fill="#111"/>
<circle cx="228.50" cy="140.50" r="1.15" fill="#111"/>
<circle cx="231.10" cy="140.50" r="1.15" fill="#111"/>
<circle cx="228.30" cy="144.00" r="1.15" fill="#111"/>
<circle cx="231.30" cy="144.00" r="1.15" fill="#111"/>
<circle cx="228.10" cy="147.50" r="1.15" fill="#111"/>
<circle cx="231.50" cy="147.50" r="1.15" fill="#111"/>
<circle cx="228.00" cy="150.50" r="1.15" fill="#111"/>
<circle cx="231.60" cy="150.50" r="1.15" fill="#111"/>
<circle cx="228.00" cy="153.00" r="1.15" fill="#111"/>
<circle cx="231.60" cy="153.00" r="1.15" fill="#111"/>
<circle cx="229.00" cy="134.60" r="1.2" fill="#fff" stroke="#111" stroke-width="0.6"/>
<line x1="225.20" y1="141.40" x2="233.90" y2="141.40" stroke="#111" stroke-width="0.9"/>
<circle cx="243.50" cy="60.80" r="1.08" fill="none" stroke="#222" stroke-width="0.6"/>
<circle cx="242.30" cy="62.20" r="1.08" fill="none" stroke="#222" stroke-width="0.6"/>
<circle cx="240.60" cy="70.20" r="1.08" fill="none" stroke="#222" stroke-width="0.6"/>
<circle cx="243.50" cy="70.60" r="1.08" fill="none" stroke="#222" stroke-width="0.6"/>
<circle cx="241.50" cy="74.60" r="1.08" fill="none" stroke="#222" stroke-width="0.6"/>
<circle cx="243.50" cy="75.20" r="1.08" fill="none" stroke="#222" stroke-width="0.6"/>
<circle cx="240.60" cy="79.80" r="1.08" fill="none" stroke="#222" stroke-width="0.6"/>
<circle cx="243.50" cy="79.80" r="1.08" fill="none" stroke="#222" stroke-width="0.6"/>
<circle cx="242.70" cy="85.30" r="1.08" fill="none" stroke="#222" stroke-width="0.6"/>
<line x1="238.30" y1="73.50" x2="246.90" y2="73.50" stroke="#111" stroke-width="0.9"/>
<line x1="242.60" y1="70.60" x2="242.60" y2="76.30" stroke="#111" stroke-width="0.7"/>
<line x1="240.60" y1="70.60" x2="244.60" y2="70.60" stroke="#111" stroke-width="0.7"/>
<line x1="240.60" y1="76.30" x2="244.60" y2="76.30" stroke="#111" stroke-width="0.7"/>
<circle cx="255.60" cy="45.60" r="1.15" fill="#111"/>
<circle cx="255.60" cy="46.70" r="1.15" fill="#111"/>
<circle cx="255.60" cy="47.80" r="1.15" fill="#111"/>
<circle cx="255.60" cy="48.90" r="1.15" fill="#111"/>
<circle cx="255.60" cy="50.00" r="1.15" fill="#111"/>
<circle cx="255.60" cy="51.10" r="1.15" fill="#111"/>
<circle cx="255.60" cy="52.20" r="1.15" fill="#111"/>
<circle cx="255.60" cy="53.30" r="1.15" fill="#111"/>
<circle cx="255.60" cy="54.40" r="1.15" fill="#111"/>
<circle cx="255.60" cy="55.50" r="1.15" fill="#111"/>
<circle cx="255.60" cy="56.60" r="1.15" fill="#111"/>
<circle cx="255.60" cy="57.70" r="1.15" fill="#111"/>
<circle cx="255.60" cy="58.80" r="1.15" fill="#111"/>
<circle cx="255.60" cy="59.90" r="1.15" fill="#111"/>
<circle cx="254.80" cy="48.00" r="1.15" fill="#111"/>
<circle cx="256.40" cy="48.00" r="1.15" fill="#111"/>
<circle cx="254.40" cy="51.00" r="1.15" fill="#111"/>
<circle cx="256.80" cy="51.00" r="1.15" fill="#111"/>
<circle cx="254.40" cy="54.00" r="1.15" fill="#111"/>
<circle cx="256.80" cy="54.00" r="1.15" fill="#111"/>
<circle cx="254.60" cy="57.00" r="1.15" fill="#111"/>
<circle cx="256.60" cy="57.00" r="1.15" fill="#111"/>
<circle cx="255.60" cy="64.20" r="1.17" fill="#111"/>
<circle cx="253.80" cy="67.10" r="1.17" fill="#111"/>
<circle cx="257.30" cy="67.10" r="1.17" fill="#111"/>
<circle cx="255.60" cy="69.40" r="1.17" fill="#111"/>
<circle cx="257.30" cy="76.00" r="1.17" fill="#111"/>
<circle cx="255.60" cy="78.10" r="1.17" fill="#111"/>
<circle cx="255.60" cy="89.00" r="1.17" fill="#111"/>
<circle cx="253.80" cy="93.70" r="1.17" fill="#111"/>
<circle cx="257.30" cy="93.70" r="1.17" fill="#111"/>
<circle cx="255.60" cy="95.40" r="1.17" fill="#111"/>
<circle cx="253.80" cy="135.60" r="1.17" fill="#111"/>
<circle cx="255.60" cy="138.30" r="1.17" fill="#111"/>
<circle cx="255.60" cy="143.50" r="1.17" fill="#111"/>
<circle cx="255.60" cy="148.70" r="1.17" fill="#111"/>
<circle cx="255.60" cy="152.70" r="1.17" fill="#111"/>
<line x1="251.00" y1="59.80" x2="260.20" y2="59.80" stroke="#111" stroke-width="0.9"/>
<circle cx="266.80" cy="147.80" r="1.08" fill="none" stroke="#222" stroke-width="0.6"/>
<circle cx="269.40" cy="148.20" r="1.08" fill="none" stroke="#222" stroke-width="0.6"/>
<circle cx="268.00" cy="150.30" r="1.08" fill="none" stroke="#222" stroke-width="0.6"/>
<circle cx="266.50" cy="152.80" r="1.08" fill="none" stroke="#222" stroke-width="0.6"/>
<circle cx="269.80" cy="152.80" r="1.08" fill="none" stroke="#222" stroke-width="0.6"/>
<line x1="264.50" y1="151.50" x2="272.00" y2="151.50" stroke="#111" stroke-width="0.9"/>
<circle cx="279.30" cy="45.80" r="1.17" fill="#111"/>
<circle cx="281.00" cy="48.10" r="1.17" fill="#111"/>
<circle cx="282.70" cy="53.60" r="1.17" fill="#111"/>
<circle cx="281.00" cy="54.40" r="1.17" fill="#111"/>
<circle cx="279.30" cy="55.60" r="1.17" fill="#111"/>
<circle cx="281.00" cy="57.90" r="1.17" fill="#111"/>
<circle cx="281.00" cy="63.70" r="1.17" fill="#111"/>
<circle cx="281.00" cy="71.00" r="1.17" fill="#111"/>
<circle cx="279.30" cy="72.30" r="1.17" fill="#111"/>
<circle cx="282.70" cy="71.00" r="1.17" fill="#111"/>
<circle cx="281.00" cy="73.50" r="1.17" fill="#111"/>
<circle cx="282.70" cy="82.70" r="1.17" fill="#111"/>
<circle cx="281.00" cy="85.60" r="1.17" fill="#111"/>
<circle cx="279.30" cy="89.60" r="1.17" fill="#111"/>
<circle cx="282.70" cy="89.60" r="1.17" fill="#111"/>
<circle cx="281.00" cy="91.90" r="1.17" fill="#111"/>
<circle cx="281.00" cy="98.30" r="1.17" fill="#111"/>
<circle cx="282.20" cy="99.00" r="1.17" fill="#111"/>
<circle cx="280.50" cy="113.50" r="1.17" fill="#111"/>
<circle cx="282.20" cy="117.50" r="1.17" fill="#111"/>
<circle cx="281.00" cy="124.00" r="1.17" fill="#111"/>
<circle cx="281.00" cy="127.50" r="1.17" fill="#111"/>
<circle cx="282.70" cy="137.00" r="1.17" fill="#111"/>
<circle cx="281.00" cy="126.00" r="1.1" fill="#fff" stroke="#111" stroke-width="0.5"/>
<circle cx="281.00" cy="139.40" r="1.15" fill="#111"/>
<circle cx="281.00" cy="140.50" r="1.15" fill="#111"/>
<circle cx="281.00" cy="141.60" r="1.15" fill="#111"/>
<circle cx="281.00" cy="142.70" r="1.15" fill="#111"/>
<circle cx="281.00" cy="143.80" r="1.15" fill="#111"/>
<circle cx="281.00" cy="144.90" r="1.15" fill="#111"/>
<circle cx="281.00" cy="146.00" r="1.15" fill="#111"/>
<circle cx="281.00" cy="147.10" r="1.15" fill="#111"/>
<circle cx="281.00" cy="148.20" r="1.15" fill="#111"/>
<circle cx="281.00" cy="149.30" r="1.15" fill="#111"/>
<circle cx="281.00" cy="150.40" r="1.15" fill="#111"/>
<circle cx="281.00" cy="151.50" r="1.15" fill="#111"/>
<circle cx="281.00" cy="152.60" r="1.15" fill="#111"/>
<circle cx="280.10" cy="142.50" r="1.15" fill="#111"/>
<circle cx="281.90" cy="142.50" r="1.15" fill="#111"/>
<circle cx="279.70" cy="146.00" r="1.15" fill="#111"/>
<circle cx="282.30" cy="146.00" r="1.15" fill="#111"/>
<circle cx="279.50" cy="149.50" r="1.15" fill="#111"/>
<circle cx="282.50" cy="149.50" r="1.15" fill="#111"/>
<circle cx="279.40" cy="152.50" r="1.15" fill="#111"/>
<circle cx="282.60" cy="152.50" r="1.15" fill="#111"/>
<line x1="277.00" y1="125.60" x2="285.70" y2="125.60" stroke="#111" stroke-width="0.9"/>
<line x1="281.35" y1="121.50" x2="281.35" y2="129.60" stroke="#111" stroke-width="0.7"/>
<line x1="279.35" y1="121.50" x2="283.35" y2="121.50" stroke="#111" stroke-width="0.7"/>
<line x1="279.35" y1="129.60" x2="283.35" y2="129.60" stroke="#111" stroke-width="0.7"/>
<circle cx="293.50" cy="49.50" r="1.08" fill="none" stroke="#222" stroke-width="0.6"/>
<circle cx="295.50" cy="50.00" r="1.08" fill="none" stroke="#222" stroke-width="0.6"/>
<circle cx="294.00" cy="51.50" r="1.08" fill="none" stroke="#222" stroke-width="0.6"/>
<circle cx="293.50" cy="57.00" r="1.08" fill="none" stroke="#222" stroke-width="0.6"/>
<circle cx="296.00" cy="58.00" r="1.08" fill="none" stroke="#222" stroke-width="0.6"/>
<circle cx="294.70" cy="61.30" r="1.08" fill="none" stroke="#222" stroke-width="0.6"/>
<circle cx="294.70" cy="63.70" r="1.08" fill="none" stroke="#222" stroke-width="0.6"/>
<circle cx="294.70" cy="74.00" r="1.08" fill="none" stroke="#222" stroke-width="0.6"/>
<line x1="290.30" y1="59.00" x2="298.70" y2="59.00" stroke="#111" stroke-width="0.9"/>
<line x1="294.50" y1="55.90" x2="294.50" y2="62.50" stroke="#111" stroke-width="0.7"/>
<line x1="292.50" y1="55.90" x2="296.50" y2="55.90" stroke="#111" stroke-width="0.7"/>
<line x1="292.50" y1="62.50" x2="296.50" y2="62.50" stroke="#111" stroke-width="0.7"/>
<circle cx="307.00" cy="45.60" r="1.15" fill="#111"/>
<circle cx="307.00" cy="46.70" r="1.15" fill="#111"/>
<circle cx="307.00" cy="47.80" r="1.15" fill="#111"/>
<circle cx="307.00" cy="48.90" r="1.15" fill="#111"/>
<circle cx="307.00" cy="50.00" r="1.15" fill="#111"/>
<circle cx="307.00" cy="51.10" r="1.15" fill="#111"/>
<circle cx="307.00" cy="52.20" r="1.15" fill="#111"/>
<circle cx="307.00" cy="53.30" r="1.15" fill="#111"/>
<circle cx="307.00" cy="54.40" r="1.15" fill="#111"/>
<circle cx="307.00" cy="55.50" r="1.15" fill="#111"/>
<circle cx="306.00" cy="47.50" r="1.15" fill="#111"/>
<circle cx="308.00" cy="47.50" r="1.15" fill="#111"/>
<circle cx="305.70" cy="50.50" r="1.15" fill="#111"/>
<circle cx="308.30" cy="50.50" r="1.15" fill="#111"/>
<circle cx="305.90" cy="53.50" r="1.15" fill="#111"/>
<circle cx="308.10" cy="53.50" r="1.15" fill="#111"/>
<circle cx="307.00" cy="57.30" r="1.17" fill="#111"/>
<circle cx="305.80" cy="60.80" r="1.17" fill="#111"/>
<circle cx="308.70" cy="61.30" r="1.17" fill="#111"/>
<circle cx="307.00" cy="63.70" r="1.17" fill="#111"/>
<circle cx="305.30" cy="66.30" r="1.17" fill="#111"/>
<circle cx="308.70" cy="66.50" r="1.17" fill="#111"/>
<circle cx="307.00" cy="69.40" r="1.17" fill="#111"/>
<circle cx="307.00" cy="77.50" r="1.17" fill="#111"/>
<circle cx="308.70" cy="79.20" r="1.17" fill="#111"/>
<circle cx="307.00" cy="87.30" r="1.17" fill="#111"/>
<circle cx="307.00" cy="90.80" r="1.17" fill="#111"/>
<circle cx="305.80" cy="100.20" r="1.17" fill="#111"/>
<circle cx="305.80" cy="107.70" r="1.17" fill="#111"/>
<circle cx="308.20" cy="108.30" r="1.17" fill="#111"/>
<circle cx="307.00" cy="112.00" r="1.17" fill="#111"/>
<circle cx="306.40" cy="114.60" r="1.17" fill="#111"/>
<circle cx="308.20" cy="127.90" r="1.17" fill="#111"/>
<circle cx="305.80" cy="133.00" r="1.17" fill="#111"/>
<circle cx="308.20" cy="133.00" r="1.17" fill="#111"/>
<circle cx="306.40" cy="136.50" r="1.17" fill="#111"/>
<circle cx="307.00" cy="138.80" r="1.17" fill="#111"/>
<circle cx="305.80" cy="144.60" r="1.17" fill="#111"/>
<path d="M303.8,153.3 L307,146.8 L310.2,153.3 Z" fill="#111"/>
<line x1="303.00" y1="84.40" x2="311.60" y2="84.40" stroke="#111" stroke-width="0.9"/>
<line x1="307.30" y1="80.00" x2="307.30" y2="89.00" stroke="#111" stroke-width="0.7"/>
<line x1="305.30" y1="80.00" x2="309.30" y2="80.00" stroke="#111" stroke-width="0.7"/>
<line x1="305.30" y1="89.00" x2="309.30" y2="89.00" stroke="#111" stroke-width="0.7"/>
<text x="429.50" y="19.30" font-size="9.8" fill="#111" text-anchor="middle" textLength="113.00" lengthAdjust="spacingAndGlyphs">TCR-induced activation in</text>
<text x="429.50" y="30.80" font-size="9.8" fill="#111" text-anchor="middle" textLength="60.00" lengthAdjust="spacingAndGlyphs">murine T-cells</text>
<rect x="376.20" y="38.50" width="5.70" height="5.70" fill="#c9c7cd"/>
<text x="385.80" y="43.58" font-size="6.4" fill="#222" textLength="35.20" lengthAdjust="spacingAndGlyphs">unstimulated</text>
<rect x="376.20" y="47.70" width="5.70" height="5.70" fill="#4d1b5f"/>
<text x="386.00" y="52.78" font-size="6.4" fill="#222" textLength="63.80" lengthAdjust="spacingAndGlyphs">anti-CD3/28 stimulated</text>
<line x1="376.70" y1="63.70" x2="376.70" y2="155.70" stroke="#000" stroke-width="1.3"/>
<line x1="376.10" y1="155.00" x2="510.00" y2="155.00" stroke="#000" stroke-width="1.5"/>
<line x1="373.20" y1="66.90" x2="376.70" y2="66.90" stroke="#000" stroke-width="1.0"/>
<text x="369.70" y="69.48" font-size="7.6" fill="#222" text-anchor="end" textLength="11.00" lengthAdjust="spacingAndGlyphs">100</text>
<line x1="373.20" y1="84.52" x2="376.70" y2="84.52" stroke="#000" stroke-width="1.0"/>
<text x="369.70" y="87.10" font-size="7.6" fill="#222" text-anchor="end" textLength="7.60" lengthAdjust="spacingAndGlyphs">80</text>
<line x1="373.20" y1="102.14" x2="376.70" y2="102.14" stroke="#000" stroke-width="1.0"/>
<text x="369.70" y="104.72" font-size="7.6" fill="#222" text-anchor="end" textLength="7.60" lengthAdjust="spacingAndGlyphs">60</text>
<line x1="373.20" y1="119.76" x2="376.70" y2="119.76" stroke="#000" stroke-width="1.0"/>
<text x="369.70" y="122.34" font-size="7.6" fill="#222" text-anchor="end" textLength="7.60" lengthAdjust="spacingAndGlyphs">40</text>
<line x1="373.20" y1="137.38" x2="376.70" y2="137.38" stroke="#000" stroke-width="1.0"/>
<text x="369.70" y="139.96" font-size="7.6" fill="#222" text-anchor="end" textLength="7.60" lengthAdjust="spacingAndGlyphs">20</text>
<line x1="373.20" y1="155.00" x2="376.70" y2="155.00" stroke="#000" stroke-width="1.0"/>
<text x="369.70" y="157.58" font-size="7.6" fill="#222" text-anchor="end" textLength="3.90" lengthAdjust="spacingAndGlyphs">0</text>
<rect x="380.40" y="133.80" width="10.80" height="21.20" fill="#c9c7cd"/>
<line x1="385.80" y1="131.50" x2="385.80" y2="136.70" stroke="#111" stroke-width="0.9"/>
<line x1="383.70" y1="131.50" x2="387.90" y2="131.50" stroke="#111" stroke-width="1.0"/>
<line x1="383.70" y1="136.70" x2="387.90" y2="136.70" stroke="#111" stroke-width="1.0"/>
<rect x="393.50" y="99.80" width="11.10" height="55.20" fill="#4d1b5f"/>
<line x1="399.05" y1="91.20" x2="399.05" y2="108.50" stroke="#111" stroke-width="0.9"/>
<line x1="396.95" y1="91.20" x2="401.15" y2="91.20" stroke="#111" stroke-width="1.0"/>
<line x1="396.95" y1="108.50" x2="401.15" y2="108.50" stroke="#111" stroke-width="1.0"/>
<rect x="413.70" y="137.70" width="11.10" height="17.30" fill="#c9c7cd"/>
<line x1="419.25" y1="136.30" x2="419.25" y2="139.30" stroke="#111" stroke-width="0.9"/>
<line x1="417.15" y1="136.30" x2="421.35" y2="136.30" stroke="#111" stroke-width="1.0"/>
<line x1="417.15" y1="139.30" x2="421.35" y2="139.30" stroke="#111" stroke-width="1.0"/>
<rect x="427.30" y="90.40" width="11.40" height="64.60" fill="#4d1b5f"/>
<line x1="433.00" y1="88.00" x2="433.00" y2="92.30" stroke="#111" stroke-width="0.9"/>
<line x1="430.90" y1="88.00" x2="435.10" y2="88.00" stroke="#111" stroke-width="1.0"/>
<line x1="430.90" y1="92.30" x2="435.10" y2="92.30" stroke="#111" stroke-width="1.0"/>
<rect x="447.30" y="119.20" width="11.70" height="35.80" fill="#c9c7cd"/>
<line x1="453.15" y1="113.00" x2="453.15" y2="125.40" stroke="#111" stroke-width="0.9"/>
<line x1="451.05" y1="113.00" x2="455.25" y2="113.00" stroke="#111" stroke-width="1.0"/>
<line x1="451.05" y1="125.40" x2="455.25" y2="125.40" stroke="#111" stroke-width="1.0"/>
<rect x="461.00" y="80.80" width="11.30" height="74.20" fill="#4d1b5f"/>
<line x1="466.65" y1="77.90" x2="466.65" y2="83.70" stroke="#111" stroke-width="0.9"/>
<line x1="464.55" y1="77.90" x2="468.75" y2="77.90" stroke="#111" stroke-width="1.0"/>
<line x1="464.55" y1="83.70" x2="468.75" y2="83.70" stroke="#111" stroke-width="1.0"/>
<rect x="481.20" y="79.80" width="11.50" height="75.20" fill="#c9c7cd"/>
<line x1="486.95" y1="74.00" x2="486.95" y2="85.60" stroke="#111" stroke-width="0.9"/>
<line x1="484.85" y1="74.00" x2="489.05" y2="74.00" stroke="#111" stroke-width="1.0"/>
<line x1="484.85" y1="85.60" x2="489.05" y2="85.60" stroke="#111" stroke-width="1.0"/>
<rect x="495.00" y="78.50" width="11.50" height="76.50" fill="#4d1b5f"/>
<line x1="500.75" y1="72.50" x2="500.75" y2="84.60" stroke="#111" stroke-width="0.9"/>
<line x1="498.65" y1="72.50" x2="502.85" y2="72.50" stroke="#111" stroke-width="1.0"/>
<line x1="498.65" y1="84.60" x2="502.85" y2="84.60" stroke="#111" stroke-width="1.0"/>
<text x="392.60" y="86.84" font-size="5.4" fill="#222" text-anchor="middle" textLength="20.80" lengthAdjust="spacingAndGlyphs">P=0.0074</text>
<line x1="385.80" y1="89.50" x2="400.20" y2="89.50" stroke="#111" stroke-width="1.3"/>
<text x="426.10" y="83.44" font-size="5.4" fill="#222" text-anchor="middle" textLength="20.80" lengthAdjust="spacingAndGlyphs">P&lt;0.0001</text>
<line x1="418.80" y1="86.30" x2="433.80" y2="86.30" stroke="#111" stroke-width="1.3"/>
<text x="460.40" y="72.84" font-size="5.4" fill="#222" text-anchor="middle" textLength="20.80" lengthAdjust="spacingAndGlyphs">P=0.0043</text>
<line x1="453.00" y1="75.80" x2="467.10" y2="75.80" stroke="#111" stroke-width="1.3"/>
<text x="470.40" y="61.84" font-size="5.4" fill="#222" text-anchor="middle" textLength="20.80" lengthAdjust="spacingAndGlyphs">P=0.0036</text>
<line x1="453.00" y1="64.40" x2="487.30" y2="64.40" stroke="#111" stroke-width="1.3"/>
<text x="337.10" y="112.53" font-size="9.8" fill="#111" text-anchor="middle" textLength="73.40" lengthAdjust="spacingAndGlyphs" transform="rotate(-90 337.10 109.20)">CD69 positive cells of</text>
<text x="348.10" y="112.43" font-size="9.8" fill="#111" text-anchor="middle" textLength="69.30" lengthAdjust="spacingAndGlyphs" transform="rotate(-90 348.10 109.10)">lymphocyte gate [%]</text>
<g transform="translate(396.20 162.20) rotate(-45)">
<text x="0" y="0" font-size="8.0" text-anchor="end" fill="#111" textLength="42.5" lengthAdjust="spacingAndGlyphs">wt C57BL/6J</text>
<text x="0" y="8.0" font-size="8.0" text-anchor="end" fill="#111" textLength="18.5" lengthAdjust="spacingAndGlyphs">(n=4)</text>
</g>
<g transform="translate(428.60 163.30) rotate(-45)">
<text x="0" y="0" font-size="8.0" text-anchor="end" fill="#111" textLength="47" lengthAdjust="spacingAndGlyphs"><tspan font-style="italic">Lck</tspan><tspan font-size="4.6" dy="-3">pr</tspan><tspan dy="3">-</tspan>hTCL1A<tspan font-size="4.6" dy="-3">tg</tspan></text>
<text x="0" y="8.0" font-size="8.0" text-anchor="end" fill="#111" textLength="18.5" lengthAdjust="spacingAndGlyphs">(n=5)</text>
</g>
<g transform="translate(463.70 162.20) rotate(-45)">
<text x="0" y="0" font-size="8.0" text-anchor="end" fill="#111" textLength="42.5" lengthAdjust="spacingAndGlyphs">wt C57BL/6J</text>
<text x="0" y="8.0" font-size="8.0" text-anchor="end" fill="#111" textLength="18.5" lengthAdjust="spacingAndGlyphs">(n=3)</text>
</g>
<g transform="translate(494.90 163.30) rotate(-45)">
<text x="0" y="0" font-size="8.0" text-anchor="end" fill="#111" textLength="47" lengthAdjust="spacingAndGlyphs"><tspan font-style="italic">Lck</tspan><tspan font-size="4.6" dy="-3">pr</tspan><tspan dy="3">-</tspan>hTCL1A<tspan font-size="4.6" dy="-3">tg</tspan></text>
<text x="0" y="8.0" font-size="8.0" text-anchor="end" fill="#111" textLength="18.5" lengthAdjust="spacingAndGlyphs">(n=5)</text>
</g>
<line x1="381.70" y1="208.10" x2="437.50" y2="208.10" stroke="#000" stroke-width="0.9"/>
<line x1="449.00" y1="208.10" x2="504.20" y2="208.10" stroke="#000" stroke-width="0.9"/>
<text x="409.60" y="218.00" font-size="7.6" fill="#111" text-anchor="middle" textLength="57.40" lengthAdjust="spacingAndGlyphs">young (10 weeks)</text>
<text x="476.90" y="218.00" font-size="7.6" fill="#111" text-anchor="middle" textLength="57.40" lengthAdjust="spacingAndGlyphs">old (&gt;10 months)</text>
<text x="95.65" y="248.10" font-size="9.8" fill="#111" text-anchor="middle" textLength="43.10" lengthAdjust="spacingAndGlyphs">Color Key</text>
<text x="96.20" y="259.50" font-size="9.8" fill="#111" text-anchor="middle" textLength="64.80" lengthAdjust="spacingAndGlyphs">and Histogram</text>
<defs><linearGradient id="ck" x1="0" x2="1" y1="0" y2="0"><stop offset="0" stop-color="#0a0af8"/><stop offset="0.28" stop-color="#6c6cfa"/><stop offset="0.4" stop-color="#b8b8fc"/><stop offset="0.49" stop-color="#ffffff"/><stop offset="0.58" stop-color="#f8d0d0"/><stop offset="0.78" stop-color="#e48888"/><stop offset="1" stop-color="#d41010"/></linearGradient></defs>
<rect x="71.20" y="266.10" width="49.90" height="35.10" fill="url(#ck)"/>
<polyline fill="none" stroke="#55eaf0" stroke-width="1.0" points="71.5,301.0 73.0,300.5 74.5,298.0 75.5,296.0 76.2,294.0 77.0,291.0 77.8,285.0 78.5,282.0 79.5,281.0 80.0,279.0 80.5,275.0 81.2,273.0 81.8,270.5 82.5,267.5 83.0,270.0 83.5,274.0 84.0,277.0 84.5,273.0 85.0,280.0 85.5,283.0 86.0,285.0 87.0,287.0 88.0,288.5 89.0,289.5 90.0,291.0 90.5,293.0 91.0,298.0 91.5,299.5 92.5,298.0 93.5,297.5 94.5,299.5 95.5,297.0 96.5,296.5 97.5,295.0 98.5,294.0 99.5,293.0 100.5,294.0 101.5,295.0 102.5,295.5 103.5,296.5 104.5,297.5 105.5,298.5 106.5,299.0 107.5,300.0 108.5,300.8 110.0,301.2 112.0,301.5 114.0,301.0 115.5,301.5"/>
<line x1="71.20" y1="266.50" x2="71.20" y2="302.00" stroke="#000" stroke-width="0.8"/>
<line x1="68.80" y1="301.80" x2="121.30" y2="301.80" stroke="#000" stroke-width="0.8"/>
<line x1="68.40" y1="273.00" x2="71.20" y2="273.00" stroke="#000" stroke-width="0.8"/>
<text x="65.20" y="275.48" font-size="7.3" fill="#222" text-anchor="end">30</text>
<line x1="68.40" y1="282.70" x2="71.20" y2="282.70" stroke="#000" stroke-width="0.8"/>
<text x="65.20" y="285.18" font-size="7.3" fill="#222" text-anchor="end">20</text>
<line x1="68.40" y1="292.60" x2="71.20" y2="292.60" stroke="#000" stroke-width="0.8"/>
<text x="65.20" y="295.08" font-size="7.3" fill="#222" text-anchor="end">10</text>
<line x1="68.40" y1="301.20" x2="71.20" y2="301.20" stroke="#000" stroke-width="0.8"/>
<text x="65.20" y="303.68" font-size="7.3" fill="#222" text-anchor="end">0</text>
<line x1="76.20" y1="301.80" x2="76.20" y2="304.20" stroke="#000" stroke-width="0.8"/>
<text x="76.20" y="313.30" font-size="7.1" fill="#222" text-anchor="middle">4</text>
<line x1="88.90" y1="301.80" x2="88.90" y2="304.20" stroke="#000" stroke-width="0.8"/>
<text x="88.90" y="313.30" font-size="7.1" fill="#222" text-anchor="middle">6</text>
<line x1="102.00" y1="301.80" x2="102.00" y2="304.20" stroke="#000" stroke-width="0.8"/>
<text x="102.00" y="313.30" font-size="7.1" fill="#222" text-anchor="middle">8</text>
<line x1="115.20" y1="301.80" x2="115.20" y2="304.20" stroke="#000" stroke-width="0.8"/>
<text x="115.20" y="313.30" font-size="7.1" fill="#222" text-anchor="middle">10</text>
<text x="47.60" y="287.94" font-size="11.0" fill="#111" text-anchor="middle" textLength="20.00" lengthAdjust="spacingAndGlyphs" transform="rotate(-90 47.60 284.20)">Count</text>
<text x="96.65" y="323.20" font-size="9.3" fill="#111" text-anchor="middle" textLength="39.70" lengthAdjust="spacingAndGlyphs">Logarithmic</text>
<text x="96.35" y="334.90" font-size="9.5" fill="#111" text-anchor="middle" textLength="61.90" lengthAdjust="spacingAndGlyphs">fluorescence value</text>
<rect x="30.00" y="351.20" width="6.20" height="5.60" fill="#8b2a2a"/>
<text x="40.00" y="356.14" font-size="6.3" fill="#222" textLength="58.20" lengthAdjust="spacingAndGlyphs">T-PLL samples (n=70)</text>
<rect x="30.00" y="359.50" width="6.20" height="5.60" fill="#90ec22"/>
<text x="40.00" y="364.44" font-size="6.3" fill="#222" textLength="94.50" lengthAdjust="spacingAndGlyphs">healthy pan-T-memory cells (n=10)</text>
<rect x="30.00" y="367.80" width="6.20" height="5.60" fill="#8d2ee6"/>
<text x="40.00" y="372.74" font-size="6.3" fill="#222" textLength="97.50" lengthAdjust="spacingAndGlyphs">healthy central-memory cells (n=10)</text>
<rect x="30.00" y="376.20" width="6.20" height="5.60" fill="#e8a11f"/>
<text x="40.00" y="381.14" font-size="6.3" fill="#222" textLength="73.80" lengthAdjust="spacingAndGlyphs">healthy naive T-cells (n=10)</text>
<text x="148.80" y="390.38" font-size="6.4" fill="#222" text-anchor="end" textLength="76.30" lengthAdjust="spacingAndGlyphs"><tspan font-style="italic">TCL1A</tspan> gene overexpression</text>
<text x="148.80" y="399.18" font-size="6.4" fill="#222" text-anchor="end" textLength="64.30" lengthAdjust="spacingAndGlyphs"><tspan font-style="italic">ATM</tspan> mutated / deleted</text>
<text x="148.80" y="407.18" font-size="6.4" fill="#222" text-anchor="end" textLength="86.30" lengthAdjust="spacingAndGlyphs"><tspan font-style="italic">JAK1</tspan> / <tspan font-style="italic">JAK3</tspan> / <tspan font-style="italic">STAT5B</tspan> mutated</text>
<rect x="150.50" y="370.60" width="30.50" height="12.40" fill="#8d2828"/>
<rect x="181.00" y="370.60" width="3.05" height="12.40" fill="#8e2de8"/>
<rect x="184.05" y="370.60" width="6.10" height="12.40" fill="#92ec24"/>
<rect x="190.15" y="370.60" width="3.05" height="12.40" fill="#8e2de8"/>
<rect x="193.20" y="370.60" width="3.05" height="12.40" fill="#92ec24"/>
<rect x="196.25" y="370.60" width="6.10" height="12.40" fill="#8e2de8"/>
<rect x="202.35" y="370.60" width="3.05" height="12.40" fill="#92ec24"/>
<rect x="205.40" y="370.60" width="6.10" height="12.40" fill="#8e2de8"/>
<rect x="211.50" y="370.60" width="12.20" height="12.40" fill="#92ec24"/>
<rect x="223.70" y="370.60" width="12.20" height="12.40" fill="#8e2de8"/>
<rect x="235.90" y="370.60" width="6.10" height="12.40" fill="#92ec24"/>
<rect x="242.00" y="370.60" width="3.05" height="12.40" fill="#e9a21f"/>
<rect x="245.05" y="370.60" width="9.15" height="12.40" fill="#8d2828"/>
<rect x="254.20" y="370.60" width="18.30" height="12.40" fill="#e9a21f"/>
<rect x="272.50" y="370.60" width="100.65" height="12.40" fill="#8d2828"/>
<rect x="373.15" y="370.60" width="9.15" height="12.40" fill="#e9a21f"/>
<rect x="382.30" y="370.60" width="73.20" height="12.40" fill="#8d2828"/>
<line x1="153.55" y1="370.6" x2="153.55" y2="383" stroke="#fff" stroke-opacity="0.13" stroke-width="0.5"/>
<line x1="156.60" y1="370.6" x2="156.60" y2="383" stroke="#fff" stroke-opacity="0.13" stroke-width="0.5"/>
<line x1="159.65" y1="370.6" x2="159.65" y2="383" stroke="#fff" stroke-opacity="0.13" stroke-width="0.5"/>
<line x1="162.70" y1="370.6" x2="162.70" y2="383" stroke="#fff" stroke-opacity="0.13" stroke-width="0.5"/>
<line x1="165.75" y1="370.6" x2="165.75" y2="383" stroke="#fff" stroke-opacity="0.13" stroke-width="0.5"/>
<line x1="168.80" y1="370.6" x2="168.80" y2="383" stroke="#fff" stroke-opacity="0.13" stroke-width="0.5"/>
<line x1="171.85" y1="370.6" x2="171.85" y2="383" stroke="#fff" stroke-opacity="0.13" stroke-width="0.5"/>
<line x1="174.90" y1="370.6" x2="174.90" y2="383" stroke="#fff" stroke-opacity="0.13" stroke-width="0.5"/>
<line x1="177.95" y1="370.6" x2="177.95" y2="383" stroke="#fff" stroke-opacity="0.13" stroke-width="0.5"/>
<line x1="181.00" y1="370.6" x2="181.00" y2="383" stroke="#fff" stroke-opacity="0.13" stroke-width="0.5"/>
<line x1="184.05" y1="370.6" x2="184.05" y2="383" stroke="#fff" stroke-opacity="0.13" stroke-width="0.5"/>
<line x1="187.10" y1="370.6" x2="187.10" y2="383" stroke="#fff" stroke-opacity="0.13" stroke-width="0.5"/>
<line x1="190.15" y1="370.6" x2="190.15" y2="383" stroke="#fff" stroke-opacity="0.13" stroke-width="0.5"/>
<line x1="193.20" y1="370.6" x2="193.20" y2="383" stroke="#fff" stroke-opacity="0.13" stroke-width="0.5"/>
<line x1="196.25" y1="370.6" x2="196.25" y2="383" stroke="#fff" stroke-opacity="0.13" stroke-width="0.5"/>
<line x1="199.30" y1="370.6" x2="199.30" y2="383" stroke="#fff" stroke-opacity="0.13" stroke-width="0.5"/>
<line x1="202.35" y1="370.6" x2="202.35" y2="383" stroke="#fff" stroke-opacity="0.13" stroke-width="0.5"/>
<line x1="205.40" y1="370.6" x2="205.40" y2="383" stroke="#fff" stroke-opacity="0.13" stroke-width="0.5"/>
<line x1="208.45" y1="370.6" x2="208.45" y2="383" stroke="#fff" stroke-opacity="0.13" stroke-width="0.5"/>
<line x1="211.50" y1="370.6" x2="211.50" y2="383" stroke="#fff" stroke-opacity="0.13" stroke-width="0.5"/>
<line x1="214.55" y1="370.6" x2="214.55" y2="383" stroke="#fff" stroke-opacity="0.13" stroke-width="0.5"/>
<line x1="217.60" y1="370.6" x2="217.60" y2="383" stroke="#fff" stroke-opacity="0.13" stroke-width="0.5"/>
<line x1="220.65" y1="370.6" x2="220.65" y2="383" stroke="#fff" stroke-opacity="0.13" stroke-width="0.5"/>
<line x1="223.70" y1="370.6" x2="223.70" y2="383" stroke="#fff" stroke-opacity="0.13" stroke-width="0.5"/>
<line x1="226.75" y1="370.6" x2="226.75" y2="383" stroke="#fff" stroke-opacity="0.13" stroke-width="0.5"/>
<line x1="229.80" y1="370.6" x2="229.80" y2="383" stroke="#fff" stroke-opacity="0.13" stroke-width="0.5"/>
<line x1="232.85" y1="370.6" x2="232.85" y2="383" stroke="#fff" stroke-opacity="0.13" stroke-width="0.5"/>
<line x1="235.90" y1="370.6" x2="235.90" y2="383" stroke="#fff" stroke-opacity="0.13" stroke-width="0.5"/>
<line x1="238.95" y1="370.6" x2="238.95" y2="383" stroke="#fff" stroke-opacity="0.13" stroke-width="0.5"/>
<line x1="242.00" y1="370.6" x2="242.00" y2="383" stroke="#fff" stroke-opacity="0.13" stroke-width="0.5"/>
<line x1="245.05" y1="370.6" x2="245.05" y2="383" stroke="#fff" stroke-opacity="0.13" stroke-width="0.5"/>
<line x1="248.10" y1="370.6" x2="248.10" y2="383" stroke="#fff" stroke-opacity="0.13" stroke-width="0.5"/>
<line x1="251.15" y1="370.6" x2="251.15" y2="383" stroke="#fff" stroke-opacity="0.13" stroke-width="0.5"/>
<line x1="254.20" y1="370.6" x2="254.20" y2="383" stroke="#fff" stroke-opacity="0.13" stroke-width="0.5"/>
<line x1="257.25" y1="370.6" x2="257.25" y2="383" stroke="#fff" stroke-opacity="0.13" stroke-width="0.5"/>
<line x1="260.30" y1="370.6" x2="260.30" y2="383" stroke="#fff" stroke-opacity="0.13" stroke-width="0.5"/>
<line x1="263.35" y1="370.6" x2="263.35" y2="383" stroke="#fff" stroke-opacity="0.13" stroke-width="0.5"/>
<line x1="266.40" y1="370.6" x2="266.40" y2="383" stroke="#fff" stroke-opacity="0.13" stroke-width="0.5"/>
<line x1="269.45" y1="370.6" x2="269.45" y2="383" stroke="#fff" stroke-opacity="0.13" stroke-width="0.5"/>
<line x1="272.50" y1="370.6" x2="272.50" y2="383" stroke="#fff" stroke-opacity="0.13" stroke-width="0.5"/>
<line x1="275.55" y1="370.6" x2="275.55" y2="383" stroke="#fff" stroke-opacity="0.13" stroke-width="0.5"/>
<line x1="278.60" y1="370.6" x2="278.60" y2="383" stroke="#fff" stroke-opacity="0.13" stroke-width="0.5"/>
<line x1="281.65" y1="370.6" x2="281.65" y2="383" stroke="#fff" stroke-opacity="0.13" stroke-width="0.5"/>
<line x1="284.70" y1="370.6" x2="284.70" y2="383" stroke="#fff" stroke-opacity="0.13" stroke-width="0.5"/>
<line x1="287.75" y1="370.6" x2="287.75" y2="383" stroke="#fff" stroke-opacity="0.13" stroke-width="0.5"/>
<line x1="290.80" y1="370.6" x2="290.80" y2="383" stroke="#fff" stroke-opacity="0.13" stroke-width="0.5"/>
<line x1="293.85" y1="370.6" x2="293.85" y2="383" stroke="#fff" stroke-opacity="0.13" stroke-width="0.5"/>
<line x1="296.90" y1="370.6" x2="296.90" y2="383" stroke="#fff" stroke-opacity="0.13" stroke-width="0.5"/>
<line x1="299.95" y1="370.6" x2="299.95" y2="383" stroke="#fff" stroke-opacity="0.13" stroke-width="0.5"/>
<line x1="303.00" y1="370.6" x2="303.00" y2="383" stroke="#fff" stroke-opacity="0.13" stroke-width="0.5"/>
<line x1="306.05" y1="370.6" x2="306.05" y2="383" stroke="#fff" stroke-opacity="0.13" stroke-width="0.5"/>
<line x1="309.10" y1="370.6" x2="309.10" y2="383" stroke="#fff" stroke-opacity="0.13" stroke-width="0.5"/>
<line x1="312.15" y1="370.6" x2="312.15" y2="383" stroke="#fff" stroke-opacity="0.13" stroke-width="0.5"/>
<line x1="315.20" y1="370.6" x2="315.20" y2="383" stroke="#fff" stroke-opacity="0.13" stroke-width="0.5"/>
<line x1="318.25" y1="370.6" x2="318.25" y2="383" stroke="#fff" stroke-opacity="0.13" stroke-width="0.5"/>
<line x1="321.30" y1="370.6" x2="321.30" y2="383" stroke="#fff" stroke-opacity="0.13" stroke-width="0.5"/>
<line x1="324.35" y1="370.6" x2="324.35" y2="383" stroke="#fff" stroke-opacity="0.13" stroke-width="0.5"/>
<line x1="327.40" y1="370.6" x2="327.40" y2="383" stroke="#fff" stroke-opacity="0.13" stroke-width="0.5"/>
<line x1="330.45" y1="370.6" x2="330.45" y2="383" stroke="#fff" stroke-opacity="0.13" stroke-width="0.5"/>
<line x1="333.50" y1="370.6" x2="333.50" y2="383" stroke="#fff" stroke-opacity="0.13" stroke-width="0.5"/>
<line x1="336.55" y1="370.6" x2="336.55" y2="383" stroke="#fff" stroke-opacity="0.13" stroke-width="0.5"/>
<line x1="339.60" y1="370.6" x2="339.60" y2="383" stroke="#fff" stroke-opacity="0.13" stroke-width="0.5"/>
<line x1="342.65" y1="370.6" x2="342.65" y2="383" stroke="#fff" stroke-opacity="0.13" stroke-width="0.5"/>
<line x1="345.70" y1="370.6" x2="345.70" y2="383" stroke="#fff" stroke-opacity="0.13" stroke-width="0.5"/>
<line x1="348.75" y1="370.6" x2="348.75" y2="383" stroke="#fff" stroke-opacity="0.13" stroke-width="0.5"/>
<line x1="351.80" y1="370.6" x2="351.80" y2="383" stroke="#fff" stroke-opacity="0.13" stroke-width="0.5"/>
<line x1="354.85" y1="370.6" x2="354.85" y2="383" stroke="#fff" stroke-opacity="0.13" stroke-width="0.5"/>
<line x1="357.90" y1="370.6" x2="357.90" y2="383" stroke="#fff" stroke-opacity="0.13" stroke-width="0.5"/>
<line x1="360.95" y1="370.6" x2="360.95" y2="383" stroke="#fff" stroke-opacity="0.13" stroke-width="0.5"/>
<line x1="364.00" y1="370.6" x2="364.00" y2="383" stroke="#fff" stroke-opacity="0.13" stroke-width="0.5"/>
<line x1="367.05" y1="370.6" x2="367.05" y2="383" stroke="#fff" stroke-opacity="0.13" stroke-width="0.5"/>
<line x1="370.10" y1="370.6" x2="370.10" y2="383" stroke="#fff" stroke-opacity="0.13" stroke-width="0.5"/>
<line x1="373.15" y1="370.6" x2="373.15" y2="383" stroke="#fff" stroke-opacity="0.13" stroke-width="0.5"/>
<line x1="376.20" y1="370.6" x2="376.20" y2="383" stroke="#fff" stroke-opacity="0.13" stroke-width="0.5"/>
<line x1="379.25" y1="370.6" x2="379.25" y2="383" stroke="#fff" stroke-opacity="0.13" stroke-width="0.5"/>
<line x1="382.30" y1="370.6" x2="382.30" y2="383" stroke="#fff" stroke-opacity="0.13" stroke-width="0.5"/>
<line x1="385.35" y1="370.6" x2="385.35" y2="383" stroke="#fff" stroke-opacity="0.13" stroke-width="0.5"/>
<line x1="388.40" y1="370.6" x2="388.40" y2="383" stroke="#fff" stroke-opacity="0.13" stroke-width="0.5"/>
<line x1="391.45" y1="370.6" x2="391.45" y2="383" stroke="#fff" stroke-opacity="0.13" stroke-width="0.5"/>
<line x1="394.50" y1="370.6" x2="394.50" y2="383" stroke="#fff" stroke-opacity="0.13" stroke-width="0.5"/>
<line x1="397.55" y1="370.6" x2="397.55" y2="383" stroke="#fff" stroke-opacity="0.13" stroke-width="0.5"/>
<line x1="400.60" y1="370.6" x2="400.60" y2="383" stroke="#fff" stroke-opacity="0.13" stroke-width="0.5"/>
<line x1="403.65" y1="370.6" x2="403.65" y2="383" stroke="#fff" stroke-opacity="0.13" stroke-width="0.5"/>
<line x1="406.70" y1="370.6" x2="406.70" y2="383" stroke="#fff" stroke-opacity="0.13" stroke-width="0.5"/>
<line x1="409.75" y1="370.6" x2="409.75" y2="383" stroke="#fff" stroke-opacity="0.13" stroke-width="0.5"/>
<line x1="412.80" y1="370.6" x2="412.80" y2="383" stroke="#fff" stroke-opacity="0.13" stroke-width="0.5"/>
<line x1="415.85" y1="370.6" x2="415.85" y2="383" stroke="#fff" stroke-opacity="0.13" stroke-width="0.5"/>
<line x1="418.90" y1="370.6" x2="418.90" y2="383" stroke="#fff" stroke-opacity="0.13" stroke-width="0.5"/>
<line x1="421.95" y1="370.6" x2="421.95" y2="383" stroke="#fff" stroke-opacity="0.13" stroke-width="0.5"/>
<line x1="425.00" y1="370.6" x2="425.00" y2="383" stroke="#fff" stroke-opacity="0.13" stroke-width="0.5"/>
<line x1="428.05" y1="370.6" x2="428.05" y2="383" stroke="#fff" stroke-opacity="0.13" stroke-width="0.5"/>
<line x1="431.10" y1="370.6" x2="431.10" y2="383" stroke="#fff" stroke-opacity="0.13" stroke-width="0.5"/>
<line x1="434.15" y1="370.6" x2="434.15" y2="383" stroke="#fff" stroke-opacity="0.13" stroke-width="0.5"/>
<line x1="437.20" y1="370.6" x2="437.20" y2="383" stroke="#fff" stroke-opacity="0.13" stroke-width="0.5"/>
<line x1="440.25" y1="370.6" x2="440.25" y2="383" stroke="#fff" stroke-opacity="0.13" stroke-width="0.5"/>
<line x1="443.30" y1="370.6" x2="443.30" y2="383" stroke="#fff" stroke-opacity="0.13" stroke-width="0.5"/>
<line x1="446.35" y1="370.6" x2="446.35" y2="383" stroke="#fff" stroke-opacity="0.13" stroke-width="0.5"/>
<line x1="449.40" y1="370.6" x2="449.40" y2="383" stroke="#fff" stroke-opacity="0.13" stroke-width="0.5"/>
<line x1="452.45" y1="370.6" x2="452.45" y2="383" stroke="#fff" stroke-opacity="0.13" stroke-width="0.5"/>
<rect x="150.50" y="385.00" width="3.05" height="6.60" fill="#0c0c0c"/>
<rect x="153.55" y="385.00" width="3.05" height="6.60" fill="#a9a9a9"/>
<rect x="156.60" y="385.00" width="24.40" height="6.60" fill="#0c0c0c"/>
<rect x="181.00" y="385.00" width="64.05" height="6.60" fill="#a9a9a9"/>
<rect x="245.05" y="385.00" width="9.15" height="6.60" fill="#0c0c0c"/>
<rect x="254.20" y="385.00" width="18.30" height="6.60" fill="#a9a9a9"/>
<rect x="272.50" y="385.00" width="3.05" height="6.60" fill="#0c0c0c"/>
<rect x="275.55" y="385.00" width="3.05" height="6.60" fill="#a9a9a9"/>
<rect x="278.60" y="385.00" width="30.50" height="6.60" fill="#0c0c0c"/>
<rect x="309.10" y="385.00" width="3.05" height="6.60" fill="#a9a9a9"/>
<rect x="312.15" y="385.00" width="36.60" height="6.60" fill="#0c0c0c"/>
<rect x="351.80" y="385.00" width="18.30" height="6.60" fill="#0c0c0c"/>
<rect x="370.10" y="385.00" width="12.20" height="6.60" fill="#a9a9a9"/>
<rect x="382.30" y="385.00" width="30.50" height="6.60" fill="#0c0c0c"/>
<rect x="412.80" y="385.00" width="3.05" height="6.60" fill="#a9a9a9"/>
<rect x="415.85" y="385.00" width="39.65" height="6.60" fill="#0c0c0c"/>
<line x1="150.75" y1="385.0" x2="150.75" y2="391.6" stroke="#fff" stroke-opacity="0.45" stroke-width="0.55"/>
<line x1="153.80" y1="385.0" x2="153.80" y2="391.6" stroke="#fff" stroke-opacity="0.45" stroke-width="0.55"/>
<line x1="156.85" y1="385.0" x2="156.85" y2="391.6" stroke="#fff" stroke-opacity="0.45" stroke-width="0.55"/>
<line x1="159.90" y1="385.0" x2="159.90" y2="391.6" stroke="#fff" stroke-opacity="0.45" stroke-width="0.55"/>
<line x1="162.95" y1="385.0" x2="162.95" y2="391.6" stroke="#fff" stroke-opacity="0.45" stroke-width="0.55"/>
<line x1="166.00" y1="385.0" x2="166.00" y2="391.6" stroke="#fff" stroke-opacity="0.45" stroke-width="0.55"/>
<line x1="169.05" y1="385.0" x2="169.05" y2="391.6" stroke="#fff" stroke-opacity="0.45" stroke-width="0.55"/>
<line x1="172.10" y1="385.0" x2="172.10" y2="391.6" stroke="#fff" stroke-opacity="0.45" stroke-width="0.55"/>
<line x1="175.15" y1="385.0" x2="175.15" y2="391.6" stroke="#fff" stroke-opacity="0.45" stroke-width="0.55"/>
<line x1="178.20" y1="385.0" x2="178.20" y2="391.6" stroke="#fff" stroke-opacity="0.45" stroke-width="0.55"/>
<line x1="181.25" y1="385.0" x2="181.25" y2="391.6" stroke="#fff" stroke-opacity="0.45" stroke-width="0.55"/>
<line x1="184.30" y1="385.0" x2="184.30" y2="391.6" stroke="#fff" stroke-opacity="0.45" stroke-width="0.55"/>
<line x1="187.35" y1="385.0" x2="187.35" y2="391.6" stroke="#fff" stroke-opacity="0.45" stroke-width="0.55"/>
<line x1="190.40" y1="385.0" x2="190.40" y2="391.6" stroke="#fff" stroke-opacity="0.45" stroke-width="0.55"/>
<line x1="193.45" y1="385.0" x2="193.45" y2="391.6" stroke="#fff" stroke-opacity="0.45" stroke-width="0.55"/>
<line x1="196.50" y1="385.0" x2="196.50" y2="391.6" stroke="#fff" stroke-opacity="0.45" stroke-width="0.55"/>
<line x1="199.55" y1="385.0" x2="199.55" y2="391.6" stroke="#fff" stroke-opacity="0.45" stroke-width="0.55"/>
<line x1="202.60" y1="385.0" x2="202.60" y2="391.6" stroke="#fff" stroke-opacity="0.45" stroke-width="0.55"/>
<line x1="205.65" y1="385.0" x2="205.65" y2="391.6" stroke="#fff" stroke-opacity="0.45" stroke-width="0.55"/>
<line x1="208.70" y1="385.0" x2="208.70" y2="391.6" stroke="#fff" stroke-opacity="0.45" stroke-width="0.55"/>
<line x1="211.75" y1="385.0" x2="211.75" y2="391.6" stroke="#fff" stroke-opacity="0.45" stroke-width="0.55"/>
<line x1="214.80" y1="385.0" x2="214.80" y2="391.6" stroke="#fff" stroke-opacity="0.45" stroke-width="0.55"/>
<line x1="217.85" y1="385.0" x2="217.85" y2="391.6" stroke="#fff" stroke-opacity="0.45" stroke-width="0.55"/>
<line x1="220.90" y1="385.0" x2="220.90" y2="391.6" stroke="#fff" stroke-opacity="0.45" stroke-width="0.55"/>
<line x1="223.95" y1="385.0" x2="223.95" y2="391.6" stroke="#fff" stroke-opacity="0.45" stroke-width="0.55"/>
<line x1="227.00" y1="385.0" x2="227.00" y2="391.6" stroke="#fff" stroke-opacity="0.45" stroke-width="0.55"/>
<line x1="230.05" y1="385.0" x2="230.05" y2="391.6" stroke="#fff" stroke-opacity="0.45" stroke-width="0.55"/>
<line x1="233.10" y1="385.0" x2="233.10" y2="391.6" stroke="#fff" stroke-opacity="0.45" stroke-width="0.55"/>
<line x1="236.15" y1="385.0" x2="236.15" y2="391.6" stroke="#fff" stroke-opacity="0.45" stroke-width="0.55"/>
<line x1="239.20" y1="385.0" x2="239.20" y2="391.6" stroke="#fff" stroke-opacity="0.45" stroke-width="0.55"/>
<line x1="242.25" y1="385.0" x2="242.25" y2="391.6" stroke="#fff" stroke-opacity="0.45" stroke-width="0.55"/>
<line x1="245.30" y1="385.0" x2="245.30" y2="391.6" stroke="#fff" stroke-opacity="0.45" stroke-width="0.55"/>
<line x1="248.35" y1="385.0" x2="248.35" y2="391.6" stroke="#fff" stroke-opacity="0.45" stroke-width="0.55"/>
<line x1="251.40" y1="385.0" x2="251.40" y2="391.6" stroke="#fff" stroke-opacity="0.45" stroke-width="0.55"/>
<line x1="254.45" y1="385.0" x2="254.45" y2="391.6" stroke="#fff" stroke-opacity="0.45" stroke-width="0.55"/>
<line x1="257.50" y1="385.0" x2="257.50" y2="391.6" stroke="#fff" stroke-opacity="0.45" stroke-width="0.55"/>
<line x1="260.55" y1="385.0" x2="260.55" y2="391.6" stroke="#fff" stroke-opacity="0.45" stroke-width="0.55"/>
<line x1="263.60" y1="385.0" x2="263.60" y2="391.6" stroke="#fff" stroke-opacity="0.45" stroke-width="0.55"/>
<line x1="266.65" y1="385.0" x2="266.65" y2="391.6" stroke="#fff" stroke-opacity="0.45" stroke-width="0.55"/>
<line x1="269.70" y1="385.0" x2="269.70" y2="391.6" stroke="#fff" stroke-opacity="0.45" stroke-width="0.55"/>
<line x1="272.75" y1="385.0" x2="272.75" y2="391.6" stroke="#fff" stroke-opacity="0.45" stroke-width="0.55"/>
<line x1="275.80" y1="385.0" x2="275.80" y2="391.6" stroke="#fff" stroke-opacity="0.45" stroke-width="0.55"/>
<line x1="278.85" y1="385.0" x2="278.85" y2="391.6" stroke="#fff" stroke-opacity="0.45" stroke-width="0.55"/>
<line x1="281.90" y1="385.0" x2="281.90" y2="391.6" stroke="#fff" stroke-opacity="0.45" stroke-width="0.55"/>
<line x1="284.95" y1="385.0" x2="284.95" y2="391.6" stroke="#fff" stroke-opacity="0.45" stroke-width="0.55"/>
<line x1="288.00" y1="385.0" x2="288.00" y2="391.6" stroke="#fff" stroke-opacity="0.45" stroke-width="0.55"/>
<line x1="291.05" y1="385.0" x2="291.05" y2="391.6" stroke="#fff" stroke-opacity="0.45" stroke-width="0.55"/>
<line x1="294.10" y1="385.0" x2="294.10" y2="391.6" stroke="#fff" stroke-opacity="0.45" stroke-width="0.55"/>
<line x1="297.15" y1="385.0" x2="297.15" y2="391.6" stroke="#fff" stroke-opacity="0.45" stroke-width="0.55"/>
<line x1="300.20" y1="385.0" x2="300.20" y2="391.6" stroke="#fff" stroke-opacity="0.45" stroke-width="0.55"/>
<line x1="303.25" y1="385.0" x2="303.25" y2="391.6" stroke="#fff" stroke-opacity="0.45" stroke-width="0.55"/>
<line x1="306.30" y1="385.0" x2="306.30" y2="391.6" stroke="#fff" stroke-opacity="0.45" stroke-width="0.55"/>
<line x1="309.35" y1="385.0" x2="309.35" y2="391.6" stroke="#fff" stroke-opacity="0.45" stroke-width="0.55"/>
<line x1="312.40" y1="385.0" x2="312.40" y2="391.6" stroke="#fff" stroke-opacity="0.45" stroke-width="0.55"/>
<line x1="315.45" y1="385.0" x2="315.45" y2="391.6" stroke="#fff" stroke-opacity="0.45" stroke-width="0.55"/>
<line x1="318.50" y1="385.0" x2="318.50" y2="391.6" stroke="#fff" stroke-opacity="0.45" stroke-width="0.55"/>
<line x1="321.55" y1="385.0" x2="321.55" y2="391.6" stroke="#fff" stroke-opacity="0.45" stroke-width="0.55"/>
<line x1="324.60" y1="385.0" x2="324.60" y2="391.6" stroke="#fff" stroke-opacity="0.45" stroke-width="0.55"/>
<line x1="327.65" y1="385.0" x2="327.65" y2="391.6" stroke="#fff" stroke-opacity="0.45" stroke-width="0.55"/>
<line x1="330.70" y1="385.0" x2="330.70" y2="391.6" stroke="#fff" stroke-opacity="0.45" stroke-width="0.55"/>
<line x1="333.75" y1="385.0" x2="333.75" y2="391.6" stroke="#fff" stroke-opacity="0.45" stroke-width="0.55"/>
<line x1="336.80" y1="385.0" x2="336.80" y2="391.6" stroke="#fff" stroke-opacity="0.45" stroke-width="0.55"/>
<line x1="339.85" y1="385.0" x2="339.85" y2="391.6" stroke="#fff" stroke-opacity="0.45" stroke-width="0.55"/>
<line x1="342.90" y1="385.0" x2="342.90" y2="391.6" stroke="#fff" stroke-opacity="0.45" stroke-width="0.55"/>
<line x1="345.95" y1="385.0" x2="345.95" y2="391.6" stroke="#fff" stroke-opacity="0.45" stroke-width="0.55"/>
<line x1="352.05" y1="385.0" x2="352.05" y2="391.6" stroke="#fff" stroke-opacity="0.45" stroke-width="0.55"/>
<line x1="355.10" y1="385.0" x2="355.10" y2="391.6" stroke="#fff" stroke-opacity="0.45" stroke-width="0.55"/>
<line x1="358.15" y1="385.0" x2="358.15" y2="391.6" stroke="#fff" stroke-opacity="0.45" stroke-width="0.55"/>
<line x1="361.20" y1="385.0" x2="361.20" y2="391.6" stroke="#fff" stroke-opacity="0.45" stroke-width="0.55"/>
<line x1="364.25" y1="385.0" x2="364.25" y2="391.6" stroke="#fff" stroke-opacity="0.45" stroke-width="0.55"/>
<line x1="367.30" y1="385.0" x2="367.30" y2="391.6" stroke="#fff" stroke-opacity="0.45" stroke-width="0.55"/>
<line x1="370.35" y1="385.0" x2="370.35" y2="391.6" stroke="#fff" stroke-opacity="0.45" stroke-width="0.55"/>
<line x1="373.40" y1="385.0" x2="373.40" y2="391.6" stroke="#fff" stroke-opacity="0.45" stroke-width="0.55"/>
<line x1="376.45" y1="385.0" x2="376.45" y2="391.6" stroke="#fff" stroke-opacity="0.45" stroke-width="0.55"/>
<line x1="379.50" y1="385.0" x2="379.50" y2="391.6" stroke="#fff" stroke-opacity="0.45" stroke-width="0.55"/>
<line x1="382.55" y1="385.0" x2="382.55" y2="391.6" stroke="#fff" stroke-opacity="0.45" stroke-width="0.55"/>
<line x1="385.60" y1="385.0" x2="385.60" y2="391.6" stroke="#fff" stroke-opacity="0.45" stroke-width="0.55"/>
<line x1="388.65" y1="385.0" x2="388.65" y2="391.6" stroke="#fff" stroke-opacity="0.45" stroke-width="0.55"/>
<line x1="391.70" y1="385.0" x2="391.70" y2="391.6" stroke="#fff" stroke-opacity="0.45" stroke-width="0.55"/>
<line x1="394.75" y1="385.0" x2="394.75" y2="391.6" stroke="#fff" stroke-opacity="0.45" stroke-width="0.55"/>
<line x1="397.80" y1="385.0" x2="397.80" y2="391.6" stroke="#fff" stroke-opacity="0.45" stroke-width="0.55"/>
<line x1="400.85" y1="385.0" x2="400.85" y2="391.6" stroke="#fff" stroke-opacity="0.45" stroke-width="0.55"/>
<line x1="403.90" y1="385.0" x2="403.90" y2="391.6" stroke="#fff" stroke-opacity="0.45" stroke-width="0.55"/>
<line x1="406.95" y1="385.0" x2="406.95" y2="391.6" stroke="#fff" stroke-opacity="0.45" stroke-width="0.55"/>
<line x1="410.00" y1="385.0" x2="410.00" y2="391.6" stroke="#fff" stroke-opacity="0.45" stroke-width="0.55"/>
<line x1="413.05" y1="385.0" x2="413.05" y2="391.6" stroke="#fff" stroke-opacity="0.45" stroke-width="0.55"/>
<line x1="416.10" y1="385.0" x2="416.10" y2="391.6" stroke="#fff" stroke-opacity="0.45" stroke-width="0.55"/>
<line x1="419.15" y1="385.0" x2="419.15" y2="391.6" stroke="#fff" stroke-opacity="0.45" stroke-width="0.55"/>
<line x1="422.20" y1="385.0" x2="422.20" y2="391.6" stroke="#fff" stroke-opacity="0.45" stroke-width="0.55"/>
<line x1="425.25" y1="385.0" x2="425.25" y2="391.6" stroke="#fff" stroke-opacity="0.45" stroke-width="0.55"/>
<line x1="428.30" y1="385.0" x2="428.30" y2="391.6" stroke="#fff" stroke-opacity="0.45" stroke-width="0.55"/>
<line x1="431.35" y1="385.0" x2="431.35" y2="391.6" stroke="#fff" stroke-opacity="0.45" stroke-width="0.55"/>
<line x1="434.40" y1="385.0" x2="434.40" y2="391.6" stroke="#fff" stroke-opacity="0.45" stroke-width="0.55"/>
<line x1="437.45" y1="385.0" x2="437.45" y2="391.6" stroke="#fff" stroke-opacity="0.45" stroke-width="0.55"/>
<line x1="440.50" y1="385.0" x2="440.50" y2="391.6" stroke="#fff" stroke-opacity="0.45" stroke-width="0.55"/>
<line x1="443.55" y1="385.0" x2="443.55" y2="391.6" stroke="#fff" stroke-opacity="0.45" stroke-width="0.55"/>
<line x1="446.60" y1="385.0" x2="446.60" y2="391.6" stroke="#fff" stroke-opacity="0.45" stroke-width="0.55"/>
<line x1="449.65" y1="385.0" x2="449.65" y2="391.6" stroke="#fff" stroke-opacity="0.45" stroke-width="0.55"/>
<line x1="452.70" y1="385.0" x2="452.70" y2="391.6" stroke="#fff" stroke-opacity="0.45" stroke-width="0.55"/>
<rect x="150.50" y="393.90" width="9.15" height="6.50" fill="#a9a9a9"/>
<rect x="159.65" y="393.90" width="6.10" height="6.50" fill="#0c0c0c"/>
<rect x="168.80" y="393.90" width="3.05" height="6.50" fill="#0c0c0c"/>
<rect x="171.85" y="393.90" width="3.05" height="6.50" fill="#a9a9a9"/>
<rect x="174.90" y="393.90" width="6.10" height="6.50" fill="#0c0c0c"/>
<rect x="248.10" y="393.90" width="6.10" height="6.50" fill="#0c0c0c"/>
<rect x="272.50" y="393.90" width="6.10" height="6.50" fill="#a9a9a9"/>
<rect x="278.60" y="393.90" width="15.25" height="6.50" fill="#0c0c0c"/>
<rect x="296.90" y="393.90" width="3.05" height="6.50" fill="#a9a9a9"/>
<rect x="299.95" y="393.90" width="9.15" height="6.50" fill="#0c0c0c"/>
<rect x="312.15" y="393.90" width="6.10" height="6.50" fill="#a9a9a9"/>
<rect x="318.25" y="393.90" width="6.10" height="6.50" fill="#0c0c0c"/>
<rect x="324.35" y="393.90" width="3.05" height="6.50" fill="#a9a9a9"/>
<rect x="327.40" y="393.90" width="6.10" height="6.50" fill="#0c0c0c"/>
<rect x="336.55" y="393.90" width="3.05" height="6.50" fill="#a9a9a9"/>
<rect x="339.60" y="393.90" width="3.05" height="6.50" fill="#0c0c0c"/>
<rect x="342.65" y="393.90" width="6.10" height="6.50" fill="#a9a9a9"/>
<rect x="351.80" y="393.90" width="3.05" height="6.50" fill="#0c0c0c"/>
<rect x="357.90" y="393.90" width="3.05" height="6.50" fill="#a9a9a9"/>
<rect x="364.00" y="393.90" width="9.15" height="6.50" fill="#0c0c0c"/>
<rect x="382.30" y="393.90" width="6.10" height="6.50" fill="#0c0c0c"/>
<rect x="388.40" y="393.90" width="9.15" height="6.50" fill="#a9a9a9"/>
<rect x="400.60" y="393.90" width="36.60" height="6.50" fill="#0c0c0c"/>
<rect x="437.20" y="393.90" width="3.05" height="6.50" fill="#a9a9a9"/>
<rect x="440.25" y="393.90" width="3.05" height="6.50" fill="#0c0c0c"/>
<rect x="446.35" y="393.90" width="6.10" height="6.50" fill="#0c0c0c"/>
<line x1="150.75" y1="393.9" x2="150.75" y2="400.4" stroke="#fff" stroke-opacity="0.45" stroke-width="0.55"/>
<line x1="153.80" y1="393.9" x2="153.80" y2="400.4" stroke="#fff" stroke-opacity="0.45" stroke-width="0.55"/>
<line x1="156.85" y1="393.9" x2="156.85" y2="400.4" stroke="#fff" stroke-opacity="0.45" stroke-width="0.55"/>
<line x1="159.90" y1="393.9" x2="159.90" y2="400.4" stroke="#fff" stroke-opacity="0.45" stroke-width="0.55"/>
<line x1="162.95" y1="393.9" x2="162.95" y2="400.4" stroke="#fff" stroke-opacity="0.45" stroke-width="0.55"/>
<line x1="169.05" y1="393.9" x2="169.05" y2="400.4" stroke="#fff" stroke-opacity="0.45" stroke-width="0.55"/>
<line x1="172.10" y1="393.9" x2="172.10" y2="400.4" stroke="#fff" stroke-opacity="0.45" stroke-width="0.55"/>
<line x1="175.15" y1="393.9" x2="175.15" y2="400.4" stroke="#fff" stroke-opacity="0.45" stroke-width="0.55"/>
<line x1="178.20" y1="393.9" x2="178.20" y2="400.4" stroke="#fff" stroke-opacity="0.45" stroke-width="0.55"/>
<line x1="248.35" y1="393.9" x2="248.35" y2="400.4" stroke="#fff" stroke-opacity="0.45" stroke-width="0.55"/>
<line x1="251.40" y1="393.9" x2="251.40" y2="400.4" stroke="#fff" stroke-opacity="0.45" stroke-width="0.55"/>
<line x1="272.75" y1="393.9" x2="272.75" y2="400.4" stroke="#fff" stroke-opacity="0.45" stroke-width="0.55"/>
<line x1="275.80" y1="393.9" x2="275.80" y2="400.4" stroke="#fff" stroke-opacity="0.45" stroke-width="0.55"/>
<line x1="278.85" y1="393.9" x2="278.85" y2="400.4" stroke="#fff" stroke-opacity="0.45" stroke-width="0.55"/>
<line x1="281.90" y1="393.9" x2="281.90" y2="400.4" stroke="#fff" stroke-opacity="0.45" stroke-width="0.55"/>
<line x1="284.95" y1="393.9" x2="284.95" y2="400.4" stroke="#fff" stroke-opacity="0.45" stroke-width="0.55"/>
<line x1="288.00" y1="393.9" x2="288.00" y2="400.4" stroke="#fff" stroke-opacity="0.45" stroke-width="0.55"/>
<line x1="291.05" y1="393.9" x2="291.05" y2="400.4" stroke="#fff" stroke-opacity="0.45" stroke-width="0.55"/>
<line x1="297.15" y1="393.9" x2="297.15" y2="400.4" stroke="#fff" stroke-opacity="0.45" stroke-width="0.55"/>
<line x1="300.20" y1="393.9" x2="300.20" y2="400.4" stroke="#fff" stroke-opacity="0.45" stroke-width="0.55"/>
<line x1="303.25" y1="393.9" x2="303.25" y2="400.4" stroke="#fff" stroke-opacity="0.45" stroke-width="0.55"/>
<line x1="306.30" y1="393.9" x2="306.30" y2="400.4" stroke="#fff" stroke-opacity="0.45" stroke-width="0.55"/>
<line x1="312.40" y1="393.9" x2="312.40" y2="400.4" stroke="#fff" stroke-opacity="0.45" stroke-width="0.55"/>
<line x1="315.45" y1="393.9" x2="315.45" y2="400.4" stroke="#fff" stroke-opacity="0.45" stroke-width="0.55"/>
<line x1="318.50" y1="393.9" x2="318.50" y2="400.4" stroke="#fff" stroke-opacity="0.45" stroke-width="0.55"/>
<line x1="321.55" y1="393.9" x2="321.55" y2="400.4" stroke="#fff" stroke-opacity="0.45" stroke-width="0.55"/>
<line x1="324.60" y1="393.9" x2="324.60" y2="400.4" stroke="#fff" stroke-opacity="0.45" stroke-width="0.55"/>
<line x1="327.65" y1="393.9" x2="327.65" y2="400.4" stroke="#fff" stroke-opacity="0.45" stroke-width="0.55"/>
<line x1="330.70" y1="393.9" x2="330.70" y2="400.4" stroke="#fff" stroke-opacity="0.45" stroke-width="0.55"/>
<line x1="336.80" y1="393.9" x2="336.80" y2="400.4" stroke="#fff" stroke-opacity="0.45" stroke-width="0.55"/>
<line x1="339.85" y1="393.9" x2="339.85" y2="400.4" stroke="#fff" stroke-opacity="0.45" stroke-width="0.55"/>
<line x1="342.90" y1="393.9" x2="342.90" y2="400.4" stroke="#fff" stroke-opacity="0.45" stroke-width="0.55"/>
<line x1="345.95" y1="393.9" x2="345.95" y2="400.4" stroke="#fff" stroke-opacity="0.45" stroke-width="0.55"/>
<line x1="352.05" y1="393.9" x2="352.05" y2="400.4" stroke="#fff" stroke-opacity="0.45" stroke-width="0.55"/>
<line x1="358.15" y1="393.9" x2="358.15" y2="400.4" stroke="#fff" stroke-opacity="0.45" stroke-width="0.55"/>
<line x1="364.25" y1="393.9" x2="364.25" y2="400.4" stroke="#fff" stroke-opacity="0.45" stroke-width="0.55"/>
<line x1="367.30" y1="393.9" x2="367.30" y2="400.4" stroke="#fff" stroke-opacity="0.45" stroke-width="0.55"/>
<line x1="370.35" y1="393.9" x2="370.35" y2="400.4" stroke="#fff" stroke-opacity="0.45" stroke-width="0.55"/>
<line x1="382.55" y1="393.9" x2="382.55" y2="400.4" stroke="#fff" stroke-opacity="0.45" stroke-width="0.55"/>
<line x1="385.60" y1="393.9" x2="385.60" y2="400.4" stroke="#fff" stroke-opacity="0.45" stroke-width="0.55"/>
<line x1="388.65" y1="393.9" x2="388.65" y2="400.4" stroke="#fff" stroke-opacity="0.45" stroke-width="0.55"/>
<line x1="391.70" y1="393.9" x2="391.70" y2="400.4" stroke="#fff" stroke-opacity="0.45" stroke-width="0.55"/>
<line x1="394.75" y1="393.9" x2="394.75" y2="400.4" stroke="#fff" stroke-opacity="0.45" stroke-width="0.55"/>
<line x1="400.85" y1="393.9" x2="400.85" y2="400.4" stroke="#fff" stroke-opacity="0.45" stroke-width="0.55"/>
<line x1="403.90" y1="393.9" x2="403.90" y2="400.4" stroke="#fff" stroke-opacity="0.45" stroke-width="0.55"/>
<line x1="406.95" y1="393.9" x2="406.95" y2="400.4" stroke="#fff" stroke-opacity="0.45" stroke-width="0.55"/>
<line x1="410.00" y1="393.9" x2="410.00" y2="400.4" stroke="#fff" stroke-opacity="0.45" stroke-width="0.55"/>
<line x1="413.05" y1="393.9" x2="413.05" y2="400.4" stroke="#fff" stroke-opacity="0.45" stroke-width="0.55"/>
<line x1="416.10" y1="393.9" x2="416.10" y2="400.4" stroke="#fff" stroke-opacity="0.45" stroke-width="0.55"/>
<line x1="419.15" y1="393.9" x2="419.15" y2="400.4" stroke="#fff" stroke-opacity="0.45" stroke-width="0.55"/>
<line x1="422.20" y1="393.9" x2="422.20" y2="400.4" stroke="#fff" stroke-opacity="0.45" stroke-width="0.55"/>
<line x1="425.25" y1="393.9" x2="425.25" y2="400.4" stroke="#fff" stroke-opacity="0.45" stroke-width="0.55"/>
<line x1="428.30" y1="393.9" x2="428.30" y2="400.4" stroke="#fff" stroke-opacity="0.45" stroke-width="0.55"/>
<line x1="431.35" y1="393.9" x2="431.35" y2="400.4" stroke="#fff" stroke-opacity="0.45" stroke-width="0.55"/>
<line x1="434.40" y1="393.9" x2="434.40" y2="400.4" stroke="#fff" stroke-opacity="0.45" stroke-width="0.55"/>
<line x1="437.45" y1="393.9" x2="437.45" y2="400.4" stroke="#fff" stroke-opacity="0.45" stroke-width="0.55"/>
<line x1="440.50" y1="393.9" x2="440.50" y2="400.4" stroke="#fff" stroke-opacity="0.45" stroke-width="0.55"/>
<line x1="446.60" y1="393.9" x2="446.60" y2="400.4" stroke="#fff" stroke-opacity="0.45" stroke-width="0.55"/>
<line x1="449.65" y1="393.9" x2="449.65" y2="400.4" stroke="#fff" stroke-opacity="0.45" stroke-width="0.55"/>
<rect x="150.50" y="402.10" width="15.25" height="6.40" fill="#a9a9a9"/>
<rect x="168.80" y="402.10" width="6.10" height="6.40" fill="#a9a9a9"/>
<rect x="174.90" y="402.10" width="6.10" height="6.40" fill="#0c0c0c"/>
<rect x="248.10" y="402.10" width="3.05" height="6.40" fill="#0c0c0c"/>
<rect x="251.15" y="402.10" width="3.05" height="6.40" fill="#a9a9a9"/>
<rect x="272.50" y="402.10" width="3.05" height="6.40" fill="#a9a9a9"/>
<rect x="275.55" y="402.10" width="3.05" height="6.40" fill="#0c0c0c"/>
<rect x="278.60" y="402.10" width="12.20" height="6.40" fill="#a9a9a9"/>
<rect x="290.80" y="402.10" width="3.05" height="6.40" fill="#0c0c0c"/>
<rect x="296.90" y="402.10" width="3.05" height="6.40" fill="#0c0c0c"/>
<rect x="299.95" y="402.10" width="3.05" height="6.40" fill="#a9a9a9"/>
<rect x="303.00" y="402.10" width="6.10" height="6.40" fill="#0c0c0c"/>
<rect x="309.10" y="402.10" width="3.05" height="6.40" fill="#a9a9a9"/>
<rect x="318.25" y="402.10" width="6.10" height="6.40" fill="#0c0c0c"/>
<rect x="324.35" y="402.10" width="3.05" height="6.40" fill="#a9a9a9"/>
<rect x="327.40" y="402.10" width="3.05" height="6.40" fill="#0c0c0c"/>
<rect x="330.45" y="402.10" width="3.05" height="6.40" fill="#a9a9a9"/>
<rect x="339.60" y="402.10" width="3.05" height="6.40" fill="#0c0c0c"/>
<rect x="351.80" y="402.10" width="12.20" height="6.40" fill="#a9a9a9"/>
<rect x="364.00" y="402.10" width="9.15" height="6.40" fill="#0c0c0c"/>
<rect x="382.30" y="402.10" width="3.05" height="6.40" fill="#a9a9a9"/>
<rect x="385.35" y="402.10" width="3.05" height="6.40" fill="#0c0c0c"/>
<rect x="388.40" y="402.10" width="9.15" height="6.40" fill="#a9a9a9"/>
<rect x="400.60" y="402.10" width="3.05" height="6.40" fill="#0c0c0c"/>
<rect x="403.65" y="402.10" width="3.05" height="6.40" fill="#a9a9a9"/>
<rect x="406.70" y="402.10" width="3.05" height="6.40" fill="#0c0c0c"/>
<rect x="409.75" y="402.10" width="3.05" height="6.40" fill="#a9a9a9"/>
<rect x="412.80" y="402.10" width="3.05" height="6.40" fill="#0c0c0c"/>
<rect x="415.85" y="402.10" width="3.05" height="6.40" fill="#a9a9a9"/>
<rect x="418.90" y="402.10" width="3.05" height="6.40" fill="#0c0c0c"/>
<rect x="421.95" y="402.10" width="12.20" height="6.40" fill="#a9a9a9"/>
<rect x="434.15" y="402.10" width="3.05" height="6.40" fill="#0c0c0c"/>
<rect x="437.20" y="402.10" width="3.05" height="6.40" fill="#a9a9a9"/>
<rect x="440.25" y="402.10" width="3.05" height="6.40" fill="#0c0c0c"/>
<rect x="446.35" y="402.10" width="6.10" height="6.40" fill="#a9a9a9"/>
<line x1="150.75" y1="402.1" x2="150.75" y2="408.5" stroke="#fff" stroke-opacity="0.45" stroke-width="0.55"/>
<line x1="153.80" y1="402.1" x2="153.80" y2="408.5" stroke="#fff" stroke-opacity="0.45" stroke-width="0.55"/>
<line x1="156.85" y1="402.1" x2="156.85" y2="408.5" stroke="#fff" stroke-opacity="0.45" stroke-width="0.55"/>
<line x1="159.90" y1="402.1" x2="159.90" y2="408.5" stroke="#fff" stroke-opacity="0.45" stroke-width="0.55"/>
<line x1="162.95" y1="402.1" x2="162.95" y2="408.5" stroke="#fff" stroke-opacity="0.45" stroke-width="0.55"/>
<line x1="169.05" y1="402.1" x2="169.05" y2="408.5" stroke="#fff" stroke-opacity="0.45" stroke-width="0.55"/>
<line x1="172.10" y1="402.1" x2="172.10" y2="408.5" stroke="#fff" stroke-opacity="0.45" stroke-width="0.55"/>
<line x1="175.15" y1="402.1" x2="175.15" y2="408.5" stroke="#fff" stroke-opacity="0.45" stroke-width="0.55"/>
<line x1="178.20" y1="402.1" x2="178.20" y2="408.5" stroke="#fff" stroke-opacity="0.45" stroke-width="0.55"/>
<line x1="248.35" y1="402.1" x2="248.35" y2="408.5" stroke="#fff" stroke-opacity="0.45" stroke-width="0.55"/>
<line x1="251.40" y1="402.1" x2="251.40" y2="408.5" stroke="#fff" stroke-opacity="0.45" stroke-width="0.55"/>
<line x1="272.75" y1="402.1" x2="272.75" y2="408.5" stroke="#fff" stroke-opacity="0.45" stroke-width="0.55"/>
<line x1="275.80" y1="402.1" x2="275.80" y2="408.5" stroke="#fff" stroke-opacity="0.45" stroke-width="0.55"/>
<line x1="278.85" y1="402.1" x2="278.85" y2="408.5" stroke="#fff" stroke-opacity="0.45" stroke-width="0.55"/>
<line x1="281.90" y1="402.1" x2="281.90" y2="408.5" stroke="#fff" stroke-opacity="0.45" stroke-width="0.55"/>
<line x1="284.95" y1="402.1" x2="284.95" y2="408.5" stroke="#fff" stroke-opacity="0.45" stroke-width="0.55"/>
<line x1="288.00" y1="402.1" x2="288.00" y2="408.5" stroke="#fff" stroke-opacity="0.45" stroke-width="0.55"/>
<line x1="291.05" y1="402.1" x2="291.05" y2="408.5" stroke="#fff" stroke-opacity="0.45" stroke-width="0.55"/>
<line x1="297.15" y1="402.1" x2="297.15" y2="408.5" stroke="#fff" stroke-opacity="0.45" stroke-width="0.55"/>
<line x1="300.20" y1="402.1" x2="300.20" y2="408.5" stroke="#fff" stroke-opacity="0.45" stroke-width="0.55"/>
<line x1="303.25" y1="402.1" x2="303.25" y2="408.5" stroke="#fff" stroke-opacity="0.45" stroke-width="0.55"/>
<line x1="306.30" y1="402.1" x2="306.30" y2="408.5" stroke="#fff" stroke-opacity="0.45" stroke-width="0.55"/>
<line x1="309.35" y1="402.1" x2="309.35" y2="408.5" stroke="#fff" stroke-opacity="0.45" stroke-width="0.55"/>
<line x1="318.50" y1="402.1" x2="318.50" y2="408.5" stroke="#fff" stroke-opacity="0.45" stroke-width="0.55"/>
<line x1="321.55" y1="402.1" x2="321.55" y2="408.5" stroke="#fff" stroke-opacity="0.45" stroke-width="0.55"/>
<line x1="324.60" y1="402.1" x2="324.60" y2="408.5" stroke="#fff" stroke-opacity="0.45" stroke-width="0.55"/>
<line x1="327.65" y1="402.1" x2="327.65" y2="408.5" stroke="#fff" stroke-opacity="0.45" stroke-width="0.55"/>
<line x1="330.70" y1="402.1" x2="330.70" y2="408.5" stroke="#fff" stroke-opacity="0.45" stroke-width="0.55"/>
<line x1="339.85" y1="402.1" x2="339.85" y2="408.5" stroke="#fff" stroke-opacity="0.45" stroke-width="0.55"/>
<line x1="352.05" y1="402.1" x2="352.05" y2="408.5" stroke="#fff" stroke-opacity="0.45" stroke-width="0.55"/>
<line x1="355.10" y1="402.1" x2="355.10" y2="408.5" stroke="#fff" stroke-opacity="0.45" stroke-width="0.55"/>
<line x1="358.15" y1="402.1" x2="358.15" y2="408.5" stroke="#fff" stroke-opacity="0.45" stroke-width="0.55"/>
<line x1="361.20" y1="402.1" x2="361.20" y2="408.5" stroke="#fff" stroke-opacity="0.45" stroke-width="0.55"/>
<line x1="364.25" y1="402.1" x2="364.25" y2="408.5" stroke="#fff" stroke-opacity="0.45" stroke-width="0.55"/>
<line x1="367.30" y1="402.1" x2="367.30" y2="408.5" stroke="#fff" stroke-opacity="0.45" stroke-width="0.55"/>
<line x1="370.35" y1="402.1" x2="370.35" y2="408.5" stroke="#fff" stroke-opacity="0.45" stroke-width="0.55"/>
<line x1="382.55" y1="402.1" x2="382.55" y2="408.5" stroke="#fff" stroke-opacity="0.45" stroke-width="0.55"/>
<line x1="385.60" y1="402.1" x2="385.60" y2="408.5" stroke="#fff" stroke-opacity="0.45" stroke-width="0.55"/>
<line x1="388.65" y1="402.1" x2="388.65" y2="408.5" stroke="#fff" stroke-opacity="0.45" stroke-width="0.55"/>
<line x1="391.70" y1="402.1" x2="391.70" y2="408.5" stroke="#fff" stroke-opacity="0.45" stroke-width="0.55"/>
<line x1="394.75" y1="402.1" x2="394.75" y2="408.5" stroke="#fff" stroke-opacity="0.45" stroke-width="0.55"/>
<line x1="400.85" y1="402.1" x2="400.85" y2="408.5" stroke="#fff" stroke-opacity="0.45" stroke-width="0.55"/>
<line x1="403.90" y1="402.1" x2="403.90" y2="408.5" stroke="#fff" stroke-opacity="0.45" stroke-width="0.55"/>
<line x1="406.95" y1="402.1" x2="406.95" y2="408.5" stroke="#fff" stroke-opacity="0.45" stroke-width="0.55"/>
<line x1="410.00" y1="402.1" x2="410.00" y2="408.5" stroke="#fff" stroke-opacity="0.45" stroke-width="0.55"/>
<line x1="413.05" y1="402.1" x2="413.05" y2="408.5" stroke="#fff" stroke-opacity="0.45" stroke-width="0.55"/>
<line x1="416.10" y1="402.1" x2="416.10" y2="408.5" stroke="#fff" stroke-opacity="0.45" stroke-width="0.55"/>
<line x1="419.15" y1="402.1" x2="419.15" y2="408.5" stroke="#fff" stroke-opacity="0.45" stroke-width="0.55"/>
<line x1="422.20" y1="402.1" x2="422.20" y2="408.5" stroke="#fff" stroke-opacity="0.45" stroke-width="0.55"/>
<line x1="425.25" y1="402.1" x2="425.25" y2="408.5" stroke="#fff" stroke-opacity="0.45" stroke-width="0.55"/>
<line x1="428.30" y1="402.1" x2="428.30" y2="408.5" stroke="#fff" stroke-opacity="0.45" stroke-width="0.55"/>
<line x1="431.35" y1="402.1" x2="431.35" y2="408.5" stroke="#fff" stroke-opacity="0.45" stroke-width="0.55"/>
<line x1="434.40" y1="402.1" x2="434.40" y2="408.5" stroke="#fff" stroke-opacity="0.45" stroke-width="0.55"/>
<line x1="437.45" y1="402.1" x2="437.45" y2="408.5" stroke="#fff" stroke-opacity="0.45" stroke-width="0.55"/>
<line x1="440.50" y1="402.1" x2="440.50" y2="408.5" stroke="#fff" stroke-opacity="0.45" stroke-width="0.55"/>
<line x1="446.60" y1="402.1" x2="446.60" y2="408.5" stroke="#fff" stroke-opacity="0.45" stroke-width="0.55"/>
<line x1="449.65" y1="402.1" x2="449.65" y2="408.5" stroke="#fff" stroke-opacity="0.45" stroke-width="0.55"/>
<rect x="458.80" y="385.90" width="5.90" height="5.40" fill="#0c0c0c"/>
<text x="466.00" y="390.84" font-size="6.6" fill="#222" font-style="italic" textLength="21.50" lengthAdjust="spacingAndGlyphs">positive</text>
<rect x="458.80" y="395.00" width="5.90" height="5.20" fill="#a9a9a9"/>
<text x="466.00" y="399.84" font-size="6.6" fill="#222" font-style="italic" textLength="23.50" lengthAdjust="spacingAndGlyphs">negative</text>
<rect x="459.00" y="403.10" width="5.60" height="5.60" fill="#fff" stroke="#888" stroke-width="0.5"/>
<text x="466.00" y="408.04" font-size="6.6" fill="#222" font-style="italic" textLength="10.50" lengthAdjust="spacingAndGlyphs">n.a.</text>
<rect x="150.50" y="410.50" width="3.10" height="16.87" fill="#f2c6c6"/>
<rect x="153.55" y="410.50" width="3.10" height="16.87" fill="#e89999"/>
<rect x="156.60" y="410.50" width="3.10" height="16.87" fill="#7a7afb"/>
<rect x="159.65" y="410.50" width="3.10" height="16.87" fill="#6e6efb"/>
<rect x="162.70" y="410.50" width="3.10" height="16.87" fill="#6666fa"/>
<rect x="165.75" y="410.50" width="3.10" height="16.87" fill="#7272fb"/>
<rect x="168.80" y="410.50" width="3.10" height="16.87" fill="#7e7efb"/>
<rect x="171.85" y="410.50" width="3.10" height="16.87" fill="#e8a4a4"/>
<rect x="174.90" y="410.50" width="3.10" height="16.87" fill="#f8dada"/>
<rect x="177.95" y="410.50" width="3.10" height="16.87" fill="#fdefef"/>
<rect x="181.00" y="410.50" width="3.10" height="16.87" fill="#e8a0a0"/>
<rect x="184.05" y="410.50" width="3.10" height="16.87" fill="#e8a0a0"/>
<rect x="187.10" y="410.50" width="3.10" height="16.87" fill="#eba8a8"/>
<rect x="190.15" y="410.50" width="3.10" height="16.87" fill="#f0bebe"/>
<rect x="193.20" y="410.50" width="3.10" height="16.87" fill="#fae4e4"/>
<rect x="196.25" y="410.50" width="3.10" height="16.87" fill="#f0bebe"/>
<rect x="199.30" y="410.50" width="3.10" height="16.87" fill="#f0bebe"/>
<rect x="202.35" y="410.50" width="3.10" height="16.87" fill="#e08888"/>
<rect x="205.40" y="410.50" width="3.10" height="16.87" fill="#e07878"/>
<rect x="208.45" y="410.50" width="3.10" height="16.87" fill="#e08080"/>
<rect x="211.50" y="410.50" width="3.10" height="16.87" fill="#f0c0c0"/>
<rect x="214.55" y="410.50" width="3.10" height="16.87" fill="#f0c2c2"/>
<rect x="217.60" y="410.50" width="3.10" height="16.87" fill="#f0c2c2"/>
<rect x="220.65" y="410.50" width="3.10" height="16.87" fill="#f4cece"/>
<rect x="223.70" y="410.50" width="3.10" height="16.87" fill="#e08888"/>
<rect x="226.75" y="410.50" width="3.10" height="16.87" fill="#e08484"/>
<rect x="229.80" y="410.50" width="3.10" height="16.87" fill="#e08888"/>
<rect x="232.85" y="410.50" width="3.10" height="16.87" fill="#e48c8c"/>
<rect x="235.90" y="410.50" width="3.10" height="16.87" fill="#e49494"/>
<rect x="238.95" y="410.50" width="3.10" height="16.87" fill="#e69999"/>
<rect x="242.00" y="410.50" width="3.10" height="16.87" fill="#f5d2d2"/>
<rect x="245.05" y="410.50" width="3.10" height="16.87" fill="#e6e6fe"/>
<rect x="248.10" y="410.50" width="3.10" height="16.87" fill="#f8f8ff"/>
<rect x="251.15" y="410.50" width="3.10" height="16.87" fill="#f0f0fe"/>
<rect x="254.20" y="410.50" width="3.10" height="16.87" fill="#fefafa"/>
<rect x="257.25" y="410.50" width="3.10" height="16.87" fill="#e69c9c"/>
<rect x="260.30" y="410.50" width="3.10" height="16.87" fill="#f2caca"/>
<rect x="263.35" y="410.50" width="3.10" height="16.87" fill="#f2caca"/>
<rect x="266.40" y="410.50" width="3.10" height="16.87" fill="#e8a0a0"/>
<rect x="269.45" y="410.50" width="3.10" height="16.87" fill="#e89898"/>
<rect x="272.50" y="410.50" width="3.10" height="16.87" fill="#8a8afb"/>
<rect x="275.55" y="410.50" width="3.10" height="16.87" fill="#9898fc"/>
<rect x="278.60" y="410.50" width="3.10" height="16.87" fill="#9898fc"/>
<rect x="281.65" y="410.50" width="3.10" height="16.87" fill="#8e8efb"/>
<rect x="284.70" y="410.50" width="3.10" height="16.87" fill="#8a8afb"/>
<rect x="287.75" y="410.50" width="3.10" height="16.87" fill="#8e8efb"/>
<rect x="290.80" y="410.50" width="3.10" height="16.87" fill="#8686fb"/>
<rect x="293.85" y="410.50" width="3.10" height="16.87" fill="#3636f9"/>
<rect x="296.90" y="410.50" width="3.10" height="16.87" fill="#5e5efa"/>
<rect x="299.95" y="410.50" width="3.10" height="16.87" fill="#bebefd"/>
<rect x="303.00" y="410.50" width="3.10" height="16.87" fill="#5e5efa"/>
<rect x="306.05" y="410.50" width="3.10" height="16.87" fill="#9a9afc"/>
<rect x="309.10" y="410.50" width="3.10" height="16.87" fill="#8686fb"/>
<rect x="312.15" y="410.50" width="3.10" height="16.87" fill="#bebefd"/>
<rect x="315.20" y="410.50" width="3.10" height="16.87" fill="#4e4efa"/>
<rect x="318.25" y="410.50" width="3.10" height="16.87" fill="#5e5efa"/>
<rect x="321.30" y="410.50" width="3.10" height="16.87" fill="#6e6efb"/>
<rect x="324.35" y="410.50" width="3.10" height="16.87" fill="#8686fb"/>
<rect x="327.40" y="410.50" width="3.10" height="16.87" fill="#8686fb"/>
<rect x="330.45" y="410.50" width="3.10" height="16.87" fill="#8686fb"/>
<rect x="333.50" y="410.50" width="3.10" height="16.87" fill="#a6a6fc"/>
<rect x="336.55" y="410.50" width="3.10" height="16.87" fill="#4e4efa"/>
<rect x="339.60" y="410.50" width="3.10" height="16.87" fill="#8686fb"/>
<rect x="342.65" y="410.50" width="3.10" height="16.87" fill="#6666fa"/>
<rect x="345.70" y="410.50" width="3.10" height="16.87" fill="#8e8efb"/>
<rect x="348.75" y="410.50" width="3.10" height="16.87" fill="#6666fa"/>
<rect x="351.80" y="410.50" width="3.10" height="16.87" fill="#6e6efb"/>
<rect x="354.85" y="410.50" width="3.10" height="16.87" fill="#a6a6fc"/>
<rect x="357.90" y="410.50" width="3.10" height="16.87" fill="#aeaefc"/>
<rect x="360.95" y="410.50" width="3.10" height="16.87" fill="#3636f9"/>
<rect x="364.00" y="410.50" width="3.10" height="16.87" fill="#6666fa"/>
<rect x="367.05" y="410.50" width="3.10" height="16.87" fill="#6666fa"/>
<rect x="370.10" y="410.50" width="3.10" height="16.87" fill="#cecefd"/>
<rect x="373.15" y="410.50" width="3.10" height="16.87" fill="#d6d6fd"/>
<rect x="376.20" y="410.50" width="3.10" height="16.87" fill="#fff4f4"/>
<rect x="379.25" y="410.50" width="3.10" height="16.87" fill="#aeaefc"/>
<rect x="382.30" y="410.50" width="3.10" height="16.87" fill="#8e8efb"/>
<rect x="385.35" y="410.50" width="3.10" height="16.87" fill="#6e6efb"/>
<rect x="388.40" y="410.50" width="3.10" height="16.87" fill="#6e6efb"/>
<rect x="391.45" y="410.50" width="3.10" height="16.87" fill="#7e7efb"/>
<rect x="394.50" y="410.50" width="3.10" height="16.87" fill="#8686fb"/>
<rect x="397.55" y="410.50" width="3.10" height="16.87" fill="#2e2ef9"/>
<rect x="400.60" y="410.50" width="3.10" height="16.87" fill="#5656fa"/>
<rect x="403.65" y="410.50" width="3.10" height="16.87" fill="#5e5efa"/>
<rect x="406.70" y="410.50" width="3.10" height="16.87" fill="#5e5efa"/>
<rect x="409.75" y="410.50" width="3.10" height="16.87" fill="#5e5efa"/>
<rect x="412.80" y="410.50" width="3.10" height="16.87" fill="#6e6efb"/>
<rect x="415.85" y="410.50" width="3.10" height="16.87" fill="#7e7efb"/>
<rect x="418.90" y="410.50" width="3.10" height="16.87" fill="#6666fa"/>
<rect x="421.95" y="410.50" width="3.10" height="16.87" fill="#7676fb"/>
<rect x="425.00" y="410.50" width="3.10" height="16.87" fill="#7676fb"/>
<rect x="428.05" y="410.50" width="3.10" height="16.87" fill="#5e5efa"/>
<rect x="431.10" y="410.50" width="3.10" height="16.87" fill="#6e6efb"/>
<rect x="434.15" y="410.50" width="3.10" height="16.87" fill="#aeaefc"/>
<rect x="437.20" y="410.50" width="3.10" height="16.87" fill="#8686fb"/>
<rect x="440.25" y="410.50" width="3.10" height="16.87" fill="#6666fa"/>
<rect x="443.30" y="410.50" width="3.10" height="16.87" fill="#6666fa"/>
<rect x="446.35" y="410.50" width="3.10" height="16.87" fill="#4e4efa"/>
<rect x="449.40" y="410.50" width="3.10" height="16.87" fill="#6e6efb"/>
<rect x="452.45" y="410.50" width="3.10" height="16.87" fill="#6e6efb"/>
<rect x="150.50" y="427.32" width="3.10" height="16.87" fill="#d82828"/>
<rect x="153.55" y="427.32" width="3.10" height="16.87" fill="#d81010"/>
<rect x="156.60" y="427.32" width="3.10" height="16.87" fill="#e05050"/>
<rect x="159.65" y="427.32" width="3.10" height="16.87" fill="#f8e2e2"/>
<rect x="162.70" y="427.32" width="3.10" height="16.87" fill="#eeb0b0"/>
<rect x="165.75" y="427.32" width="3.10" height="16.87" fill="#eaa8a8"/>
<rect x="168.80" y="427.32" width="3.10" height="16.87" fill="#e07c7c"/>
<rect x="171.85" y="427.32" width="3.10" height="16.87" fill="#eaa4a4"/>
<rect x="174.90" y="427.32" width="3.10" height="16.87" fill="#e89898"/>
<rect x="177.95" y="427.32" width="3.10" height="16.87" fill="#fbeeee"/>
<rect x="181.00" y="427.32" width="3.10" height="16.87" fill="#e6e6fe"/>
<rect x="184.05" y="427.32" width="3.10" height="16.87" fill="#f8f8ff"/>
<rect x="187.10" y="427.32" width="3.10" height="16.87" fill="#e2e2fe"/>
<rect x="190.15" y="427.32" width="3.10" height="16.87" fill="#fae2e2"/>
<rect x="193.20" y="427.32" width="3.10" height="16.87" fill="#f8dede"/>
<rect x="196.25" y="427.32" width="3.10" height="16.87" fill="#e2e2fe"/>
<rect x="199.30" y="427.32" width="3.10" height="16.87" fill="#fae2e2"/>
<rect x="202.35" y="427.32" width="3.10" height="16.87" fill="#fae6e6"/>
<rect x="205.40" y="427.32" width="3.10" height="16.87" fill="#f8dede"/>
<rect x="208.45" y="427.32" width="3.10" height="16.87" fill="#eeb2b2"/>
<rect x="211.50" y="427.32" width="3.10" height="16.87" fill="#f0bebe"/>
<rect x="214.55" y="427.32" width="3.10" height="16.87" fill="#fae5e5"/>
<rect x="217.60" y="427.32" width="3.10" height="16.87" fill="#f4cece"/>
<rect x="220.65" y="427.32" width="3.10" height="16.87" fill="#f8dede"/>
<rect x="223.70" y="427.32" width="3.10" height="16.87" fill="#fdf3f3"/>
<rect x="226.75" y="427.32" width="3.10" height="16.87" fill="#fbeeee"/>
<rect x="229.80" y="427.32" width="3.10" height="16.87" fill="#f5d6d6"/>
<rect x="232.85" y="427.32" width="3.10" height="16.87" fill="#f5d2d2"/>
<rect x="235.90" y="427.32" width="3.10" height="16.87" fill="#f5d2d2"/>
<rect x="238.95" y="427.32" width="3.10" height="16.87" fill="#f0c2c2"/>
<rect x="242.00" y="427.32" width="3.10" height="16.87" fill="#9a9afc"/>
<rect x="245.05" y="427.32" width="3.10" height="16.87" fill="#c6c6fd"/>
<rect x="248.10" y="427.32" width="3.10" height="16.87" fill="#a6a6fc"/>
<rect x="251.15" y="427.32" width="3.10" height="16.87" fill="#8686fb"/>
<rect x="254.20" y="427.32" width="3.10" height="16.87" fill="#8e8efb"/>
<rect x="257.25" y="427.32" width="3.10" height="16.87" fill="#9e9efc"/>
<rect x="260.30" y="427.32" width="3.10" height="16.87" fill="#5e5efa"/>
<rect x="263.35" y="427.32" width="3.10" height="16.87" fill="#9e9efc"/>
<rect x="266.40" y="427.32" width="3.10" height="16.87" fill="#aeaefc"/>
<rect x="269.45" y="427.32" width="3.10" height="16.87" fill="#aeaefc"/>
<rect x="272.50" y="427.32" width="3.10" height="16.87" fill="#8282fb"/>
<rect x="275.55" y="427.32" width="3.10" height="16.87" fill="#5e5efa"/>
<rect x="278.60" y="427.32" width="3.10" height="16.87" fill="#6e6efb"/>
<rect x="281.65" y="427.32" width="3.10" height="16.87" fill="#7e7efb"/>
<rect x="284.70" y="427.32" width="3.10" height="16.87" fill="#cecefd"/>
<rect x="287.75" y="427.32" width="3.10" height="16.87" fill="#4e4efa"/>
<rect x="290.80" y="427.32" width="3.10" height="16.87" fill="#9e9efc"/>
<rect x="293.85" y="427.32" width="3.10" height="16.87" fill="#aeaefc"/>
<rect x="296.90" y="427.32" width="3.10" height="16.87" fill="#bebefd"/>
<rect x="299.95" y="427.32" width="3.10" height="16.87" fill="#dedefe"/>
<rect x="303.00" y="427.32" width="3.10" height="16.87" fill="#fdf1f1"/>
<rect x="306.05" y="427.32" width="3.10" height="16.87" fill="#fdf1f1"/>
<rect x="309.10" y="427.32" width="3.10" height="16.87" fill="#f2f2fe"/>
<rect x="312.15" y="427.32" width="3.10" height="16.87" fill="#fdecec"/>
<rect x="315.20" y="427.32" width="3.10" height="16.87" fill="#aeaefc"/>
<rect x="318.25" y="427.32" width="3.10" height="16.87" fill="#aeaefc"/>
<rect x="321.30" y="427.32" width="3.10" height="16.87" fill="#8686fb"/>
<rect x="324.35" y="427.32" width="3.10" height="16.87" fill="#8686fb"/>
<rect x="327.40" y="427.32" width="3.10" height="16.87" fill="#5e5efa"/>
<rect x="330.45" y="427.32" width="3.10" height="16.87" fill="#8686fb"/>
<rect x="333.50" y="427.32" width="3.10" height="16.87" fill="#8e8efb"/>
<rect x="336.55" y="427.32" width="3.10" height="16.87" fill="#b6b6fc"/>
<rect x="339.60" y="427.32" width="3.10" height="16.87" fill="#b6b6fc"/>
<rect x="342.65" y="427.32" width="3.10" height="16.87" fill="#bebefd"/>
<rect x="345.70" y="427.32" width="3.10" height="16.87" fill="#dedefe"/>
<rect x="348.75" y="427.32" width="3.10" height="16.87" fill="#8686fb"/>
<rect x="351.80" y="427.32" width="3.10" height="16.87" fill="#8e8efb"/>
<rect x="354.85" y="427.32" width="3.10" height="16.87" fill="#3636f9"/>
<rect x="357.90" y="427.32" width="3.10" height="16.87" fill="#3e3ef9"/>
<rect x="360.95" y="427.32" width="3.10" height="16.87" fill="#2e2ef9"/>
<rect x="364.00" y="427.32" width="3.10" height="16.87" fill="#6e6efb"/>
<rect x="367.05" y="427.32" width="3.10" height="16.87" fill="#6e6efb"/>
<rect x="370.10" y="427.32" width="3.10" height="16.87" fill="#2e2ef9"/>
<rect x="373.15" y="427.32" width="3.10" height="16.87" fill="#7676fb"/>
<rect x="376.20" y="427.32" width="3.10" height="16.87" fill="#7676fb"/>
<rect x="379.25" y="427.32" width="3.10" height="16.87" fill="#9e9efc"/>
<rect x="382.30" y="427.32" width="3.10" height="16.87" fill="#a6a6fc"/>
<rect x="385.35" y="427.32" width="3.10" height="16.87" fill="#5656fa"/>
<rect x="388.40" y="427.32" width="3.10" height="16.87" fill="#7676fb"/>
<rect x="391.45" y="427.32" width="3.10" height="16.87" fill="#7676fb"/>
<rect x="394.50" y="427.32" width="3.10" height="16.87" fill="#aeaefc"/>
<rect x="397.55" y="427.32" width="3.10" height="16.87" fill="#2626f9"/>
<rect x="400.60" y="427.32" width="3.10" height="16.87" fill="#4646f9"/>
<rect x="403.65" y="427.32" width="3.10" height="16.87" fill="#4646f9"/>
<rect x="406.70" y="427.32" width="3.10" height="16.87" fill="#7676fb"/>
<rect x="409.75" y="427.32" width="3.10" height="16.87" fill="#7676fb"/>
<rect x="412.80" y="427.32" width="3.10" height="16.87" fill="#9a9afc"/>
<rect x="415.85" y="427.32" width="3.10" height="16.87" fill="#9e9efc"/>
<rect x="418.90" y="427.32" width="3.10" height="16.87" fill="#9e9efc"/>
<rect x="421.95" y="427.32" width="3.10" height="16.87" fill="#4646f9"/>
<rect x="425.00" y="427.32" width="3.10" height="16.87" fill="#4646f9"/>
<rect x="428.05" y="427.32" width="3.10" height="16.87" fill="#7e7efb"/>
<rect x="431.10" y="427.32" width="3.10" height="16.87" fill="#7e7efb"/>
<rect x="434.15" y="427.32" width="3.10" height="16.87" fill="#6e6efb"/>
<rect x="437.20" y="427.32" width="3.10" height="16.87" fill="#7e7efb"/>
<rect x="440.25" y="427.32" width="3.10" height="16.87" fill="#4646f9"/>
<rect x="443.30" y="427.32" width="3.10" height="16.87" fill="#4646f9"/>
<rect x="446.35" y="427.32" width="3.10" height="16.87" fill="#7e7efb"/>
<rect x="449.40" y="427.32" width="3.10" height="16.87" fill="#7e7efb"/>
<rect x="452.45" y="427.32" width="3.10" height="16.87" fill="#6e6efb"/>
<rect x="150.50" y="444.13" width="3.10" height="16.87" fill="#dedefe"/>
<rect x="153.55" y="444.13" width="3.10" height="16.87" fill="#c6c6fd"/>
<rect x="156.60" y="444.13" width="3.10" height="16.87" fill="#f2f2fe"/>
<rect x="159.65" y="444.13" width="3.10" height="16.87" fill="#ffffff"/>
<rect x="162.70" y="444.13" width="3.10" height="16.87" fill="#f8f0f4"/>
<rect x="165.75" y="444.13" width="3.10" height="16.87" fill="#eaa4a4"/>
<rect x="168.80" y="444.13" width="3.10" height="16.87" fill="#eaaaaa"/>
<rect x="171.85" y="444.13" width="3.10" height="16.87" fill="#a6a6fc"/>
<rect x="174.90" y="444.13" width="3.10" height="16.87" fill="#a6a6fc"/>
<rect x="177.95" y="444.13" width="3.10" height="16.87" fill="#aeaefc"/>
<rect x="181.00" y="444.13" width="3.10" height="16.87" fill="#f5d2d2"/>
<rect x="184.05" y="444.13" width="3.10" height="16.87" fill="#f5d2d2"/>
<rect x="187.10" y="444.13" width="3.10" height="16.87" fill="#f2c6c6"/>
<rect x="190.15" y="444.13" width="3.10" height="16.87" fill="#f5d2d2"/>
<rect x="193.20" y="444.13" width="3.10" height="16.87" fill="#e49494"/>
<rect x="196.25" y="444.13" width="3.10" height="16.87" fill="#eeb2b2"/>
<rect x="199.30" y="444.13" width="3.10" height="16.87" fill="#e49494"/>
<rect x="202.35" y="444.13" width="3.10" height="16.87" fill="#f8dede"/>
<rect x="205.40" y="444.13" width="3.10" height="16.87" fill="#fae4e4"/>
<rect x="208.45" y="444.13" width="3.10" height="16.87" fill="#f5d2d2"/>
<rect x="211.50" y="444.13" width="3.10" height="16.87" fill="#f2c6c6"/>
<rect x="214.55" y="444.13" width="3.10" height="16.87" fill="#e49090"/>
<rect x="217.60" y="444.13" width="3.10" height="16.87" fill="#f2c2c2"/>
<rect x="220.65" y="444.13" width="3.10" height="16.87" fill="#f2c2c2"/>
<rect x="223.70" y="444.13" width="3.10" height="16.87" fill="#f0bebe"/>
<rect x="226.75" y="444.13" width="3.10" height="16.87" fill="#f2c6c6"/>
<rect x="229.80" y="444.13" width="3.10" height="16.87" fill="#f5d2d2"/>
<rect x="232.85" y="444.13" width="3.10" height="16.87" fill="#e8a6a6"/>
<rect x="235.90" y="444.13" width="3.10" height="16.87" fill="#f0baba"/>
<rect x="238.95" y="444.13" width="3.10" height="16.87" fill="#f5cece"/>
<rect x="242.00" y="444.13" width="3.10" height="16.87" fill="#5e5efa"/>
<rect x="245.05" y="444.13" width="3.10" height="16.87" fill="#f0a8a8"/>
<rect x="248.10" y="444.13" width="3.10" height="16.87" fill="#c2c2fd"/>
<rect x="251.15" y="444.13" width="3.10" height="16.87" fill="#fde0e0"/>
<rect x="254.20" y="444.13" width="3.10" height="16.87" fill="#c6c6fd"/>
<rect x="257.25" y="444.13" width="3.10" height="16.87" fill="#bebefd"/>
<rect x="260.30" y="444.13" width="3.10" height="16.87" fill="#e6e6fe"/>
<rect x="263.35" y="444.13" width="3.10" height="16.87" fill="#cecefd"/>
<rect x="266.40" y="444.13" width="3.10" height="16.87" fill="#cecefd"/>
<rect x="269.45" y="444.13" width="3.10" height="16.87" fill="#cecefd"/>
<rect x="272.50" y="444.13" width="3.10" height="16.87" fill="#f8d0d0"/>
<rect x="275.55" y="444.13" width="3.10" height="16.87" fill="#f0a8a8"/>
<rect x="278.60" y="444.13" width="3.10" height="16.87" fill="#9a9afc"/>
<rect x="281.65" y="444.13" width="3.10" height="16.87" fill="#8e8efb"/>
<rect x="284.70" y="444.13" width="3.10" height="16.87" fill="#eeeefe"/>
<rect x="287.75" y="444.13" width="3.10" height="16.87" fill="#aeaefc"/>
<rect x="290.80" y="444.13" width="3.10" height="16.87" fill="#aeaefc"/>
<rect x="293.85" y="444.13" width="3.10" height="16.87" fill="#8e8efb"/>
<rect x="296.90" y="444.13" width="3.10" height="16.87" fill="#6e6efb"/>
<rect x="299.95" y="444.13" width="3.10" height="16.87" fill="#8686fb"/>
<rect x="303.00" y="444.13" width="3.10" height="16.87" fill="#7e7efb"/>
<rect x="306.05" y="444.13" width="3.10" height="16.87" fill="#7e7efb"/>
<rect x="309.10" y="444.13" width="3.10" height="16.87" fill="#7e7efb"/>
<rect x="312.15" y="444.13" width="3.10" height="16.87" fill="#c6c6fd"/>
<rect x="315.20" y="444.13" width="3.10" height="16.87" fill="#a6a6fc"/>
<rect x="318.25" y="444.13" width="3.10" height="16.87" fill="#ffffff"/>
<rect x="321.30" y="444.13" width="3.10" height="16.87" fill="#c6c6fd"/>
<rect x="324.35" y="444.13" width="3.10" height="16.87" fill="#bebefd"/>
<rect x="327.40" y="444.13" width="3.10" height="16.87" fill="#d6d6fd"/>
<rect x="330.45" y="444.13" width="3.10" height="16.87" fill="#dedefe"/>
<rect x="333.50" y="444.13" width="3.10" height="16.87" fill="#ffffff"/>
<rect x="336.55" y="444.13" width="3.10" height="16.87" fill="#9e9efc"/>
<rect x="339.60" y="444.13" width="3.10" height="16.87" fill="#9e9efc"/>
<rect x="342.65" y="444.13" width="3.10" height="16.87" fill="#9e9efc"/>
<rect x="345.70" y="444.13" width="3.10" height="16.87" fill="#9e9efc"/>
<rect x="348.75" y="444.13" width="3.10" height="16.87" fill="#e05858"/>
<rect x="351.80" y="444.13" width="3.10" height="16.87" fill="#e08080"/>
<rect x="354.85" y="444.13" width="3.10" height="16.87" fill="#cecefd"/>
<rect x="357.90" y="444.13" width="3.10" height="16.87" fill="#c6c6fd"/>
<rect x="360.95" y="444.13" width="3.10" height="16.87" fill="#f0a4a4"/>
<rect x="364.00" y="444.13" width="3.10" height="16.87" fill="#ffffff"/>
<rect x="367.05" y="444.13" width="3.10" height="16.87" fill="#f5cccc"/>
<rect x="370.10" y="444.13" width="3.10" height="16.87" fill="#8e8efb"/>
<rect x="373.15" y="444.13" width="3.10" height="16.87" fill="#9e9efc"/>
<rect x="376.20" y="444.13" width="3.10" height="16.87" fill="#b6b6fc"/>
<rect x="379.25" y="444.13" width="3.10" height="16.87" fill="#aeaefc"/>
<rect x="382.30" y="444.13" width="3.10" height="16.87" fill="#cecefd"/>
<rect x="385.35" y="444.13" width="3.10" height="16.87" fill="#c6c6fd"/>
<rect x="388.40" y="444.13" width="3.10" height="16.87" fill="#b6b6fc"/>
<rect x="391.45" y="444.13" width="3.10" height="16.87" fill="#aeaefc"/>
<rect x="394.50" y="444.13" width="3.10" height="16.87" fill="#aeaefc"/>
<rect x="397.55" y="444.13" width="3.10" height="16.87" fill="#6666fa"/>
<rect x="400.60" y="444.13" width="3.10" height="16.87" fill="#7676fb"/>
<rect x="403.65" y="444.13" width="3.10" height="16.87" fill="#7676fb"/>
<rect x="406.70" y="444.13" width="3.10" height="16.87" fill="#aeaefc"/>
<rect x="409.75" y="444.13" width="3.10" height="16.87" fill="#aeaefc"/>
<rect x="412.80" y="444.13" width="3.10" height="16.87" fill="#8e8efb"/>
<rect x="415.85" y="444.13" width="3.10" height="16.87" fill="#8e8efb"/>
<rect x="418.90" y="444.13" width="3.10" height="16.87" fill="#7e7efb"/>
<rect x="421.95" y="444.13" width="3.10" height="16.87" fill="#7e7efb"/>
<rect x="425.00" y="444.13" width="3.10" height="16.87" fill="#aeaefc"/>
<rect x="428.05" y="444.13" width="3.10" height="16.87" fill="#7e7efb"/>
<rect x="431.10" y="444.13" width="3.10" height="16.87" fill="#a6a6fc"/>
<rect x="434.15" y="444.13" width="3.10" height="16.87" fill="#5e5efa"/>
<rect x="437.20" y="444.13" width="3.10" height="16.87" fill="#8e8efb"/>
<rect x="440.25" y="444.13" width="3.10" height="16.87" fill="#8e8efb"/>
<rect x="443.30" y="444.13" width="3.10" height="16.87" fill="#8e8efb"/>
<rect x="446.35" y="444.13" width="3.10" height="16.87" fill="#8686fb"/>
<rect x="449.40" y="444.13" width="3.10" height="16.87" fill="#9e9efc"/>
<rect x="452.45" y="444.13" width="3.10" height="16.87" fill="#9e9efc"/>
<rect x="150.50" y="460.95" width="3.10" height="16.87" fill="#9898fc"/>
<rect x="153.55" y="460.95" width="3.10" height="16.87" fill="#ffeeee"/>
<rect x="156.60" y="460.95" width="3.10" height="16.87" fill="#6e6efb"/>
<rect x="159.65" y="460.95" width="3.10" height="16.87" fill="#6e6efb"/>
<rect x="162.70" y="460.95" width="3.10" height="16.87" fill="#3a3af9"/>
<rect x="165.75" y="460.95" width="3.10" height="16.87" fill="#8686fb"/>
<rect x="168.80" y="460.95" width="3.10" height="16.87" fill="#8888fb"/>
<rect x="171.85" y="460.95" width="3.10" height="16.87" fill="#8686fb"/>
<rect x="174.90" y="460.95" width="3.10" height="16.87" fill="#4646f9"/>
<rect x="177.95" y="460.95" width="3.10" height="16.87" fill="#7676fb"/>
<rect x="181.00" y="460.95" width="3.10" height="16.87" fill="#7e7efb"/>
<rect x="184.05" y="460.95" width="3.10" height="16.87" fill="#a6a6fc"/>
<rect x="187.10" y="460.95" width="3.10" height="16.87" fill="#aeaefc"/>
<rect x="190.15" y="460.95" width="3.10" height="16.87" fill="#6666fa"/>
<rect x="193.20" y="460.95" width="3.10" height="16.87" fill="#6666fa"/>
<rect x="196.25" y="460.95" width="3.10" height="16.87" fill="#7676fb"/>
<rect x="199.30" y="460.95" width="3.10" height="16.87" fill="#7676fb"/>
<rect x="202.35" y="460.95" width="3.10" height="16.87" fill="#7e7efb"/>
<rect x="205.40" y="460.95" width="3.10" height="16.87" fill="#2e2ef9"/>
<rect x="208.45" y="460.95" width="3.10" height="16.87" fill="#4e4efa"/>
<rect x="211.50" y="460.95" width="3.10" height="16.87" fill="#7e7efb"/>
<rect x="214.55" y="460.95" width="3.10" height="16.87" fill="#6e6efb"/>
<rect x="217.60" y="460.95" width="3.10" height="16.87" fill="#7676fb"/>
<rect x="220.65" y="460.95" width="3.10" height="16.87" fill="#9e9efc"/>
<rect x="223.70" y="460.95" width="3.10" height="16.87" fill="#4e4efa"/>
<rect x="226.75" y="460.95" width="3.10" height="16.87" fill="#5e5efa"/>
<rect x="229.80" y="460.95" width="3.10" height="16.87" fill="#5e5efa"/>
<rect x="232.85" y="460.95" width="3.10" height="16.87" fill="#6e6efb"/>
<rect x="235.90" y="460.95" width="3.10" height="16.87" fill="#9e9efc"/>
<rect x="238.95" y="460.95" width="3.10" height="16.87" fill="#6262fa"/>
<rect x="242.00" y="460.95" width="3.10" height="16.87" fill="#dedefe"/>
<rect x="245.05" y="460.95" width="3.10" height="16.87" fill="#9e9efc"/>
<rect x="248.10" y="460.95" width="3.10" height="16.87" fill="#4646f9"/>
<rect x="251.15" y="460.95" width="3.10" height="16.87" fill="#5656fa"/>
<rect x="254.20" y="460.95" width="3.10" height="16.87" fill="#7e7efb"/>
<rect x="257.25" y="460.95" width="3.10" height="16.87" fill="#3e3ef9"/>
<rect x="260.30" y="460.95" width="3.10" height="16.87" fill="#4e4efa"/>
<rect x="263.35" y="460.95" width="3.10" height="16.87" fill="#5656fa"/>
<rect x="266.40" y="460.95" width="3.10" height="16.87" fill="#5e5efa"/>
<rect x="269.45" y="460.95" width="3.10" height="16.87" fill="#5656fa"/>
<rect x="272.50" y="460.95" width="3.10" height="16.87" fill="#7676fb"/>
<rect x="275.55" y="460.95" width="3.10" height="16.87" fill="#8e8efb"/>
<rect x="278.60" y="460.95" width="3.10" height="16.87" fill="#8e8efb"/>
<rect x="281.65" y="460.95" width="3.10" height="16.87" fill="#6e6efb"/>
<rect x="284.70" y="460.95" width="3.10" height="16.87" fill="#9e9efc"/>
<rect x="287.75" y="460.95" width="3.10" height="16.87" fill="#7e7efb"/>
<rect x="290.80" y="460.95" width="3.10" height="16.87" fill="#8686fb"/>
<rect x="293.85" y="460.95" width="3.10" height="16.87" fill="#7e7efb"/>
<rect x="296.90" y="460.95" width="3.10" height="16.87" fill="#8686fb"/>
<rect x="299.95" y="460.95" width="3.10" height="16.87" fill="#5e5efa"/>
<rect x="303.00" y="460.95" width="3.10" height="16.87" fill="#5e5efa"/>
<rect x="306.05" y="460.95" width="3.10" height="16.87" fill="#5e5efa"/>
<rect x="309.10" y="460.95" width="3.10" height="16.87" fill="#7676fb"/>
<rect x="312.15" y="460.95" width="3.10" height="16.87" fill="#7676fb"/>
<rect x="315.20" y="460.95" width="3.10" height="16.87" fill="#9a9afc"/>
<rect x="318.25" y="460.95" width="3.10" height="16.87" fill="#7676fb"/>
<rect x="321.30" y="460.95" width="3.10" height="16.87" fill="#6e6efb"/>
<rect x="324.35" y="460.95" width="3.10" height="16.87" fill="#8686fb"/>
<rect x="327.40" y="460.95" width="3.10" height="16.87" fill="#8e8efb"/>
<rect x="330.45" y="460.95" width="3.10" height="16.87" fill="#0e0ef8"/>
<rect x="333.50" y="460.95" width="3.10" height="16.87" fill="#7676fb"/>
<rect x="336.55" y="460.95" width="3.10" height="16.87" fill="#8686fb"/>
<rect x="339.60" y="460.95" width="3.10" height="16.87" fill="#5e5efa"/>
<rect x="342.65" y="460.95" width="3.10" height="16.87" fill="#5e5efa"/>
<rect x="345.70" y="460.95" width="3.10" height="16.87" fill="#6e6efb"/>
<rect x="348.75" y="460.95" width="3.10" height="16.87" fill="#3e3ef9"/>
<rect x="351.80" y="460.95" width="3.10" height="16.87" fill="#9e9efc"/>
<rect x="354.85" y="460.95" width="3.10" height="16.87" fill="#6e6efb"/>
<rect x="357.90" y="460.95" width="3.10" height="16.87" fill="#6e6efb"/>
<rect x="360.95" y="460.95" width="3.10" height="16.87" fill="#7676fb"/>
<rect x="364.00" y="460.95" width="3.10" height="16.87" fill="#7676fb"/>
<rect x="367.05" y="460.95" width="3.10" height="16.87" fill="#7e7efb"/>
<rect x="370.10" y="460.95" width="3.10" height="16.87" fill="#5656fa"/>
<rect x="373.15" y="460.95" width="3.10" height="16.87" fill="#5e5efa"/>
<rect x="376.20" y="460.95" width="3.10" height="16.87" fill="#5e5efa"/>
<rect x="379.25" y="460.95" width="3.10" height="16.87" fill="#6e6efb"/>
<rect x="382.30" y="460.95" width="3.10" height="16.87" fill="#7e7efb"/>
<rect x="385.35" y="460.95" width="3.10" height="16.87" fill="#5e5efa"/>
<rect x="388.40" y="460.95" width="3.10" height="16.87" fill="#6666fa"/>
<rect x="391.45" y="460.95" width="3.10" height="16.87" fill="#6666fa"/>
<rect x="394.50" y="460.95" width="3.10" height="16.87" fill="#6e6efb"/>
<rect x="397.55" y="460.95" width="3.10" height="16.87" fill="#4e4efa"/>
<rect x="400.60" y="460.95" width="3.10" height="16.87" fill="#9e9efc"/>
<rect x="403.65" y="460.95" width="3.10" height="16.87" fill="#5e5efa"/>
<rect x="406.70" y="460.95" width="3.10" height="16.87" fill="#5e5efa"/>
<rect x="409.75" y="460.95" width="3.10" height="16.87" fill="#5e5efa"/>
<rect x="412.80" y="460.95" width="3.10" height="16.87" fill="#3636f9"/>
<rect x="415.85" y="460.95" width="3.10" height="16.87" fill="#6e6efb"/>
<rect x="418.90" y="460.95" width="3.10" height="16.87" fill="#6e6efb"/>
<rect x="421.95" y="460.95" width="3.10" height="16.87" fill="#7676fb"/>
<rect x="425.00" y="460.95" width="3.10" height="16.87" fill="#7e7efb"/>
<rect x="428.05" y="460.95" width="3.10" height="16.87" fill="#8686fb"/>
<rect x="431.10" y="460.95" width="3.10" height="16.87" fill="#7e7efb"/>
<rect x="434.15" y="460.95" width="3.10" height="16.87" fill="#6e6efb"/>
<rect x="437.20" y="460.95" width="3.10" height="16.87" fill="#6e6efb"/>
<rect x="440.25" y="460.95" width="3.10" height="16.87" fill="#6e6efb"/>
<rect x="443.30" y="460.95" width="3.10" height="16.87" fill="#6e6efb"/>
<rect x="446.35" y="460.95" width="3.10" height="16.87" fill="#7e7efb"/>
<rect x="449.40" y="460.95" width="3.10" height="16.87" fill="#9a9afc"/>
<rect x="452.45" y="460.95" width="3.10" height="16.87" fill="#7e7efb"/>
<rect x="150.50" y="477.77" width="3.10" height="16.87" fill="#4e4efa"/>
<rect x="153.55" y="477.77" width="3.10" height="16.87" fill="#4e4efa"/>
<rect x="156.60" y="477.77" width="3.10" height="16.87" fill="#4646f9"/>
<rect x="159.65" y="477.77" width="3.10" height="16.87" fill="#3e3ef9"/>
<rect x="162.70" y="477.77" width="3.10" height="16.87" fill="#3636f9"/>
<rect x="165.75" y="477.77" width="3.10" height="16.87" fill="#3e3ef9"/>
<rect x="168.80" y="477.77" width="3.10" height="16.87" fill="#4646f9"/>
<rect x="171.85" y="477.77" width="3.10" height="16.87" fill="#6e6efb"/>
<rect x="174.90" y="477.77" width="3.10" height="16.87" fill="#4646f9"/>
<rect x="177.95" y="477.77" width="3.10" height="16.87" fill="#4e4efa"/>
<rect x="181.00" y="477.77" width="3.10" height="16.87" fill="#4e4efa"/>
<rect x="184.05" y="477.77" width="3.10" height="16.87" fill="#1e1ef8"/>
<rect x="187.10" y="477.77" width="3.10" height="16.87" fill="#1e1ef8"/>
<rect x="190.15" y="477.77" width="3.10" height="16.87" fill="#0606f8"/>
<rect x="193.20" y="477.77" width="3.10" height="16.87" fill="#0000f8"/>
<rect x="196.25" y="477.77" width="3.10" height="16.87" fill="#5e5efa"/>
<rect x="199.30" y="477.77" width="3.10" height="16.87" fill="#6262fa"/>
<rect x="202.35" y="477.77" width="3.10" height="16.87" fill="#0e0ef8"/>
<rect x="205.40" y="477.77" width="3.10" height="16.87" fill="#3636f9"/>
<rect x="208.45" y="477.77" width="3.10" height="16.87" fill="#3636f9"/>
<rect x="211.50" y="477.77" width="3.10" height="16.87" fill="#3e3ef9"/>
<rect x="214.55" y="477.77" width="3.10" height="16.87" fill="#4646f9"/>
<rect x="217.60" y="477.77" width="3.10" height="16.87" fill="#4646f9"/>
<rect x="220.65" y="477.77" width="3.10" height="16.87" fill="#4e4efa"/>
<rect x="223.70" y="477.77" width="3.10" height="16.87" fill="#6e6efb"/>
<rect x="226.75" y="477.77" width="3.10" height="16.87" fill="#3e3ef9"/>
<rect x="229.80" y="477.77" width="3.10" height="16.87" fill="#3e3ef9"/>
<rect x="232.85" y="477.77" width="3.10" height="16.87" fill="#4646f9"/>
<rect x="235.90" y="477.77" width="3.10" height="16.87" fill="#5656fa"/>
<rect x="238.95" y="477.77" width="3.10" height="16.87" fill="#6666fa"/>
<rect x="242.00" y="477.77" width="3.10" height="16.87" fill="#6e6efb"/>
<rect x="245.05" y="477.77" width="3.10" height="16.87" fill="#6e6efb"/>
<rect x="248.10" y="477.77" width="3.10" height="16.87" fill="#6e6efb"/>
<rect x="251.15" y="477.77" width="3.10" height="16.87" fill="#6e6efb"/>
<rect x="254.20" y="477.77" width="3.10" height="16.87" fill="#0e0ef8"/>
<rect x="257.25" y="477.77" width="3.10" height="16.87" fill="#0e0ef8"/>
<rect x="260.30" y="477.77" width="3.10" height="16.87" fill="#4646f9"/>
<rect x="263.35" y="477.77" width="3.10" height="16.87" fill="#3e3ef9"/>
<rect x="266.40" y="477.77" width="3.10" height="16.87" fill="#3636f9"/>
<rect x="269.45" y="477.77" width="3.10" height="16.87" fill="#4e4efa"/>
<rect x="272.50" y="477.77" width="3.10" height="16.87" fill="#6e6efb"/>
<rect x="275.55" y="477.77" width="3.10" height="16.87" fill="#2e2ef9"/>
<rect x="278.60" y="477.77" width="3.10" height="16.87" fill="#0606f8"/>
<rect x="281.65" y="477.77" width="3.10" height="16.87" fill="#0606f8"/>
<rect x="284.70" y="477.77" width="3.10" height="16.87" fill="#1e1ef8"/>
<rect x="287.75" y="477.77" width="3.10" height="16.87" fill="#3e3ef9"/>
<rect x="290.80" y="477.77" width="3.10" height="16.87" fill="#4646f9"/>
<rect x="293.85" y="477.77" width="3.10" height="16.87" fill="#5656fa"/>
<rect x="296.90" y="477.77" width="3.10" height="16.87" fill="#5e5efa"/>
<rect x="299.95" y="477.77" width="3.10" height="16.87" fill="#5e5efa"/>
<rect x="303.00" y="477.77" width="3.10" height="16.87" fill="#4e4efa"/>
<rect x="306.05" y="477.77" width="3.10" height="16.87" fill="#3e3ef9"/>
<rect x="309.10" y="477.77" width="3.10" height="16.87" fill="#0606f8"/>
<rect x="312.15" y="477.77" width="3.10" height="16.87" fill="#3e3ef9"/>
<rect x="315.20" y="477.77" width="3.10" height="16.87" fill="#5656fa"/>
<rect x="318.25" y="477.77" width="3.10" height="16.87" fill="#4e4efa"/>
<rect x="321.30" y="477.77" width="3.10" height="16.87" fill="#3e3ef9"/>
<rect x="324.35" y="477.77" width="3.10" height="16.87" fill="#1e1ef8"/>
<rect x="327.40" y="477.77" width="3.10" height="16.87" fill="#4e4efa"/>
<rect x="330.45" y="477.77" width="3.10" height="16.87" fill="#3e3ef9"/>
<rect x="333.50" y="477.77" width="3.10" height="16.87" fill="#4e4efa"/>
<rect x="336.55" y="477.77" width="3.10" height="16.87" fill="#3e3ef9"/>
<rect x="339.60" y="477.77" width="3.10" height="16.87" fill="#4e4efa"/>
<rect x="342.65" y="477.77" width="3.10" height="16.87" fill="#2e2ef9"/>
<rect x="345.70" y="477.77" width="3.10" height="16.87" fill="#4646f9"/>
<rect x="348.75" y="477.77" width="3.10" height="16.87" fill="#4e4efa"/>
<rect x="351.80" y="477.77" width="3.10" height="16.87" fill="#0606f8"/>
<rect x="354.85" y="477.77" width="3.10" height="16.87" fill="#2e2ef9"/>
<rect x="357.90" y="477.77" width="3.10" height="16.87" fill="#3e3ef9"/>
<rect x="360.95" y="477.77" width="3.10" height="16.87" fill="#3e3ef9"/>
<rect x="364.00" y="477.77" width="3.10" height="16.87" fill="#3636f9"/>
<rect x="367.05" y="477.77" width="3.10" height="16.87" fill="#4e4efa"/>
<rect x="370.10" y="477.77" width="3.10" height="16.87" fill="#3636f9"/>
<rect x="373.15" y="477.77" width="3.10" height="16.87" fill="#1e1ef8"/>
<rect x="376.20" y="477.77" width="3.10" height="16.87" fill="#2626f9"/>
<rect x="379.25" y="477.77" width="3.10" height="16.87" fill="#3e3ef9"/>
<rect x="382.30" y="477.77" width="3.10" height="16.87" fill="#3e3ef9"/>
<rect x="385.35" y="477.77" width="3.10" height="16.87" fill="#5e5efa"/>
<rect x="388.40" y="477.77" width="3.10" height="16.87" fill="#5e5efa"/>
<rect x="391.45" y="477.77" width="3.10" height="16.87" fill="#8686fb"/>
<rect x="394.50" y="477.77" width="3.10" height="16.87" fill="#8686fb"/>
<rect x="397.55" y="477.77" width="3.10" height="16.87" fill="#4e4efa"/>
<rect x="400.60" y="477.77" width="3.10" height="16.87" fill="#6666fa"/>
<rect x="403.65" y="477.77" width="3.10" height="16.87" fill="#7e7efb"/>
<rect x="406.70" y="477.77" width="3.10" height="16.87" fill="#0000f8"/>
<rect x="409.75" y="477.77" width="3.10" height="16.87" fill="#2e2ef9"/>
<rect x="412.80" y="477.77" width="3.10" height="16.87" fill="#2e2ef9"/>
<rect x="415.85" y="477.77" width="3.10" height="16.87" fill="#3e3ef9"/>
<rect x="418.90" y="477.77" width="3.10" height="16.87" fill="#4646f9"/>
<rect x="421.95" y="477.77" width="3.10" height="16.87" fill="#4646f9"/>
<rect x="425.00" y="477.77" width="3.10" height="16.87" fill="#1e1ef8"/>
<rect x="428.05" y="477.77" width="3.10" height="16.87" fill="#3636f9"/>
<rect x="431.10" y="477.77" width="3.10" height="16.87" fill="#4e4efa"/>
<rect x="434.15" y="477.77" width="3.10" height="16.87" fill="#2626f9"/>
<rect x="437.20" y="477.77" width="3.10" height="16.87" fill="#2626f9"/>
<rect x="440.25" y="477.77" width="3.10" height="16.87" fill="#2e2ef9"/>
<rect x="443.30" y="477.77" width="3.10" height="16.87" fill="#3636f9"/>
<rect x="446.35" y="477.77" width="3.10" height="16.87" fill="#4646f9"/>
<rect x="449.40" y="477.77" width="3.10" height="16.87" fill="#1e1ef8"/>
<rect x="452.45" y="477.77" width="3.10" height="16.87" fill="#3636f9"/>
<rect x="150.50" y="494.58" width="3.10" height="16.87" fill="#7676fb"/>
<rect x="153.55" y="494.58" width="3.10" height="16.87" fill="#2e2ef9"/>
<rect x="156.60" y="494.58" width="3.10" height="16.87" fill="#ffe8e8"/>
<rect x="159.65" y="494.58" width="3.10" height="16.87" fill="#5e5efa"/>
<rect x="162.70" y="494.58" width="3.10" height="16.87" fill="#8686fb"/>
<rect x="165.75" y="494.58" width="3.10" height="16.87" fill="#c6c6fd"/>
<rect x="168.80" y="494.58" width="3.10" height="16.87" fill="#5e5efa"/>
<rect x="171.85" y="494.58" width="3.10" height="16.87" fill="#ffe8e8"/>
<rect x="174.90" y="494.58" width="3.10" height="16.87" fill="#1e1ef8"/>
<rect x="177.95" y="494.58" width="3.10" height="16.87" fill="#aeaefc"/>
<rect x="181.00" y="494.58" width="3.10" height="16.87" fill="#aeaefc"/>
<rect x="184.05" y="494.58" width="3.10" height="16.87" fill="#b6b6fc"/>
<rect x="187.10" y="494.58" width="3.10" height="16.87" fill="#bebefd"/>
<rect x="190.15" y="494.58" width="3.10" height="16.87" fill="#5e5efa"/>
<rect x="193.20" y="494.58" width="3.10" height="16.87" fill="#8686fb"/>
<rect x="196.25" y="494.58" width="3.10" height="16.87" fill="#6e6efb"/>
<rect x="199.30" y="494.58" width="3.10" height="16.87" fill="#6e6efb"/>
<rect x="202.35" y="494.58" width="3.10" height="16.87" fill="#bebefd"/>
<rect x="205.40" y="494.58" width="3.10" height="16.87" fill="#c6c6fd"/>
<rect x="208.45" y="494.58" width="3.10" height="16.87" fill="#9a9afc"/>
<rect x="211.50" y="494.58" width="3.10" height="16.87" fill="#bebefd"/>
<rect x="214.55" y="494.58" width="3.10" height="16.87" fill="#c6c6fd"/>
<rect x="217.60" y="494.58" width="3.10" height="16.87" fill="#d6d6fd"/>
<rect x="220.65" y="494.58" width="3.10" height="16.87" fill="#bebefd"/>
<rect x="223.70" y="494.58" width="3.10" height="16.87" fill="#a6a6fc"/>
<rect x="226.75" y="494.58" width="3.10" height="16.87" fill="#8e8efb"/>
<rect x="229.80" y="494.58" width="3.10" height="16.87" fill="#a6a6fc"/>
<rect x="232.85" y="494.58" width="3.10" height="16.87" fill="#d6d6fd"/>
<rect x="235.90" y="494.58" width="3.10" height="16.87" fill="#c6c6fd"/>
<rect x="238.95" y="494.58" width="3.10" height="16.87" fill="#cacafd"/>
<rect x="242.00" y="494.58" width="3.10" height="16.87" fill="#1e1ef8"/>
<rect x="245.05" y="494.58" width="3.10" height="16.87" fill="#7e7efb"/>
<rect x="248.10" y="494.58" width="3.10" height="16.87" fill="#5e5efa"/>
<rect x="251.15" y="494.58" width="3.10" height="16.87" fill="#5e5efa"/>
<rect x="254.20" y="494.58" width="3.10" height="16.87" fill="#6666fa"/>
<rect x="257.25" y="494.58" width="3.10" height="16.87" fill="#8686fb"/>
<rect x="260.30" y="494.58" width="3.10" height="16.87" fill="#3e3ef9"/>
<rect x="263.35" y="494.58" width="3.10" height="16.87" fill="#4e4efa"/>
<rect x="266.40" y="494.58" width="3.10" height="16.87" fill="#5e5efa"/>
<rect x="269.45" y="494.58" width="3.10" height="16.87" fill="#4e4efa"/>
<rect x="272.50" y="494.58" width="3.10" height="16.87" fill="#fadcdc"/>
<rect x="275.55" y="494.58" width="3.10" height="16.87" fill="#f8e6e6"/>
<rect x="278.60" y="494.58" width="3.10" height="16.87" fill="#d6d6fd"/>
<rect x="281.65" y="494.58" width="3.10" height="16.87" fill="#fadede"/>
<rect x="284.70" y="494.58" width="3.10" height="16.87" fill="#fde6e6"/>
<rect x="287.75" y="494.58" width="3.10" height="16.87" fill="#eea3a3"/>
<rect x="290.80" y="494.58" width="3.10" height="16.87" fill="#f0b4b4"/>
<rect x="293.85" y="494.58" width="3.10" height="16.87" fill="#5e5efa"/>
<rect x="296.90" y="494.58" width="3.10" height="16.87" fill="#5e5efa"/>
<rect x="299.95" y="494.58" width="3.10" height="16.87" fill="#6666fa"/>
<rect x="303.00" y="494.58" width="3.10" height="16.87" fill="#5e5efa"/>
<rect x="306.05" y="494.58" width="3.10" height="16.87" fill="#6e6efb"/>
<rect x="309.10" y="494.58" width="3.10" height="16.87" fill="#fae0e0"/>
<rect x="312.15" y="494.58" width="3.10" height="16.87" fill="#e6e6fe"/>
<rect x="315.20" y="494.58" width="3.10" height="16.87" fill="#e2e2fe"/>
<rect x="318.25" y="494.58" width="3.10" height="16.87" fill="#d6d6fd"/>
<rect x="321.30" y="494.58" width="3.10" height="16.87" fill="#e6e6fe"/>
<rect x="324.35" y="494.58" width="3.10" height="16.87" fill="#bebefd"/>
<rect x="327.40" y="494.58" width="3.10" height="16.87" fill="#dedefe"/>
<rect x="330.45" y="494.58" width="3.10" height="16.87" fill="#b6b6fc"/>
<rect x="333.50" y="494.58" width="3.10" height="16.87" fill="#9e9efc"/>
<rect x="336.55" y="494.58" width="3.10" height="16.87" fill="#a6a6fc"/>
<rect x="339.60" y="494.58" width="3.10" height="16.87" fill="#d6d6fd"/>
<rect x="342.65" y="494.58" width="3.10" height="16.87" fill="#c6c6fd"/>
<rect x="345.70" y="494.58" width="3.10" height="16.87" fill="#c6c6fd"/>
<rect x="348.75" y="494.58" width="3.10" height="16.87" fill="#4e4efa"/>
<rect x="351.80" y="494.58" width="3.10" height="16.87" fill="#7e7efb"/>
<rect x="354.85" y="494.58" width="3.10" height="16.87" fill="#7e7efb"/>
<rect x="357.90" y="494.58" width="3.10" height="16.87" fill="#bebefd"/>
<rect x="360.95" y="494.58" width="3.10" height="16.87" fill="#5e5efa"/>
<rect x="364.00" y="494.58" width="3.10" height="16.87" fill="#2626f9"/>
<rect x="367.05" y="494.58" width="3.10" height="16.87" fill="#3e3ef9"/>
<rect x="370.10" y="494.58" width="3.10" height="16.87" fill="#5e5efa"/>
<rect x="373.15" y="494.58" width="3.10" height="16.87" fill="#3636f9"/>
<rect x="376.20" y="494.58" width="3.10" height="16.87" fill="#3636f9"/>
<rect x="379.25" y="494.58" width="3.10" height="16.87" fill="#5e5efa"/>
<rect x="382.30" y="494.58" width="3.10" height="16.87" fill="#6e6efb"/>
<rect x="385.35" y="494.58" width="3.10" height="16.87" fill="#3e3ef9"/>
<rect x="388.40" y="494.58" width="3.10" height="16.87" fill="#4e4efa"/>
<rect x="391.45" y="494.58" width="3.10" height="16.87" fill="#1e1ef8"/>
<rect x="394.50" y="494.58" width="3.10" height="16.87" fill="#4e4efa"/>
<rect x="397.55" y="494.58" width="3.10" height="16.87" fill="#3e3ef9"/>
<rect x="400.60" y="494.58" width="3.10" height="16.87" fill="#4e4efa"/>
<rect x="403.65" y="494.58" width="3.10" height="16.87" fill="#4e4efa"/>
<rect x="406.70" y="494.58" width="3.10" height="16.87" fill="#5e5efa"/>
<rect x="409.75" y="494.58" width="3.10" height="16.87" fill="#7676fb"/>
<rect x="412.80" y="494.58" width="3.10" height="16.87" fill="#5e5efa"/>
<rect x="415.85" y="494.58" width="3.10" height="16.87" fill="#2626f9"/>
<rect x="418.90" y="494.58" width="3.10" height="16.87" fill="#2e2ef9"/>
<rect x="421.95" y="494.58" width="3.10" height="16.87" fill="#1e1ef8"/>
<rect x="425.00" y="494.58" width="3.10" height="16.87" fill="#3636f9"/>
<rect x="428.05" y="494.58" width="3.10" height="16.87" fill="#3e3ef9"/>
<rect x="431.10" y="494.58" width="3.10" height="16.87" fill="#4646f9"/>
<rect x="434.15" y="494.58" width="3.10" height="16.87" fill="#5e5efa"/>
<rect x="437.20" y="494.58" width="3.10" height="16.87" fill="#5e5efa"/>
<rect x="440.25" y="494.58" width="3.10" height="16.87" fill="#4646f9"/>
<rect x="443.30" y="494.58" width="3.10" height="16.87" fill="#6666fa"/>
<rect x="446.35" y="494.58" width="3.10" height="16.87" fill="#6666fa"/>
<rect x="449.40" y="494.58" width="3.10" height="16.87" fill="#5e5efa"/>
<rect x="452.45" y="494.58" width="3.10" height="16.87" fill="#5e5efa"/>
<text x="457.80" y="421.15" font-size="6.6" fill="#222" font-style="italic" textLength="18.20" lengthAdjust="spacingAndGlyphs">CTLA4</text>
<text x="457.80" y="437.97" font-size="6.6" fill="#222" font-style="italic" textLength="15.50" lengthAdjust="spacingAndGlyphs">LAG3</text>
<text x="457.80" y="454.79" font-size="6.6" fill="#222" font-style="italic" textLength="16.00" lengthAdjust="spacingAndGlyphs">OX40</text>
<text x="457.80" y="471.60" font-size="6.6" fill="#222" font-style="italic" textLength="16.50" lengthAdjust="spacingAndGlyphs">4-1BB</text>
<text x="457.80" y="488.42" font-size="6.6" fill="#222" font-style="italic" textLength="16.50" lengthAdjust="spacingAndGlyphs">PD-L1</text>
<text x="457.80" y="505.24" font-size="6.6" fill="#222" font-style="italic" textLength="11.50" lengthAdjust="spacingAndGlyphs">PD1</text>
<line x1="104.80" y1="418.91" x2="145.90" y2="418.91" stroke="#555" stroke-width="0.8"/>
<line x1="104.80" y1="435.73" x2="145.90" y2="435.73" stroke="#555" stroke-width="0.8"/>
<line x1="104.80" y1="418.91" x2="104.80" y2="435.73" stroke="#555" stroke-width="0.8"/>
<line x1="102.00" y1="427.32" x2="104.80" y2="427.32" stroke="#555" stroke-width="0.8"/>
<line x1="102.00" y1="452.54" x2="145.90" y2="452.54" stroke="#555" stroke-width="0.8"/>
<line x1="102.00" y1="427.32" x2="102.00" y2="452.54" stroke="#555" stroke-width="0.8"/>
<line x1="116.30" y1="469.36" x2="145.90" y2="469.36" stroke="#555" stroke-width="0.8"/>
<line x1="116.30" y1="486.17" x2="145.90" y2="486.17" stroke="#555" stroke-width="0.8"/>
<line x1="116.30" y1="469.36" x2="116.30" y2="486.17" stroke="#555" stroke-width="0.8"/>
<line x1="98.40" y1="477.77" x2="116.30" y2="477.77" stroke="#555" stroke-width="0.8"/>
<line x1="98.40" y1="502.99" x2="145.90" y2="502.99" stroke="#555" stroke-width="0.8"/>
<line x1="98.40" y1="477.77" x2="98.40" y2="502.99" stroke="#555" stroke-width="0.8"/>
<line x1="68.20" y1="439.93" x2="102.00" y2="439.93" stroke="#555" stroke-width="0.8"/>
<line x1="68.20" y1="490.38" x2="98.40" y2="490.38" stroke="#555" stroke-width="0.8"/>
<line x1="68.20" y1="439.93" x2="68.20" y2="490.38" stroke="#555" stroke-width="0.8"/>
<path d="M152.00,336.90L152.00,365.60M155.05,336.90L155.05,365.60M152.00,336.90L155.05,336.90M161.15,346.90L161.15,365.60M164.20,346.90L164.20,365.60M161.15,346.90L164.20,346.90M167.25,339.20L167.25,365.60M170.30,339.20L170.30,365.60M167.25,339.20L170.30,339.20M162.68,331.50L162.68,346.90M168.78,331.50L168.78,339.20M162.68,331.50L168.78,331.50M158.10,315.70L158.10,365.60M165.73,315.70L165.73,331.50M158.10,315.70L165.73,315.70M176.40,337.70L176.40,365.60M179.45,337.70L179.45,365.60M176.40,337.70L179.45,337.70M173.35,318.50L173.35,365.60M177.93,318.50L177.93,337.70M173.35,318.50L177.93,318.50M185.55,355.70L185.55,365.60M188.60,355.70L188.60,365.60M185.55,355.70L188.60,355.70M182.50,350.50L182.50,365.60M187.07,350.50L187.07,355.70M182.50,350.50L187.07,350.50M191.65,350.00L191.65,365.60M194.70,350.00L194.70,365.60M191.65,350.00L194.70,350.00M197.75,353.50L197.75,365.60M200.80,353.50L200.80,365.60M197.75,353.50L200.80,353.50M193.18,340.80L193.18,350.00M199.28,340.80L199.28,353.50M193.18,340.80L199.28,340.80M184.79,336.20L184.79,350.50M196.23,336.20L196.23,340.80M184.79,336.20L196.23,336.20M206.90,354.60L206.90,365.60M209.95,354.60L209.95,365.60M206.90,354.60L209.95,354.60M203.85,350.00L203.85,365.60M208.43,350.00L208.43,354.60M203.85,350.00L208.43,350.00M219.10,356.50L219.10,365.60M222.15,356.50L222.15,365.60M219.10,356.50L222.15,356.50M216.05,349.30L216.05,365.60M220.62,349.30L220.62,356.50M216.05,349.30L220.62,349.30M213.00,347.90L213.00,365.60M218.34,347.90L218.34,349.30M213.00,347.90L218.34,347.90M228.25,359.40L228.25,365.60M231.30,359.40L231.30,365.60M228.25,359.40L231.30,359.40M225.20,355.80L225.20,365.60M229.78,355.80L229.78,359.40M225.20,355.80L229.78,355.80M237.40,358.30L237.40,365.60M240.45,358.30L240.45,365.60M237.40,358.30L240.45,358.30M234.35,355.80L234.35,365.60M238.92,355.80L238.92,358.30M234.35,355.80L238.92,355.80M227.49,348.80L227.49,355.80M236.64,348.80L236.64,355.80M227.49,348.80L236.64,348.80M215.67,344.50L215.67,347.90M232.06,344.50L232.06,348.80M215.67,344.50L232.06,344.50M206.14,339.50L206.14,350.00M223.87,339.50L223.87,344.50M206.14,339.50L223.87,339.50M190.51,328.90L190.51,336.20M215.00,328.90L215.00,339.50M190.51,328.90L215.00,328.90M175.64,308.90L175.64,318.50M202.75,308.90L202.75,328.90M175.64,308.90L202.75,308.90M161.91,298.50L161.91,315.70M189.20,298.50L189.20,308.90M161.91,298.50L189.20,298.50M153.53,286.80L153.53,336.90M175.55,286.80L175.55,298.50M153.53,286.80L175.55,286.80M249.60,346.50L249.60,365.60M252.65,346.50L252.65,365.60M249.60,346.50L252.65,346.50M246.55,333.10L246.55,365.60M251.12,333.10L251.12,346.50M246.55,333.10L251.12,333.10M255.70,346.50L255.70,365.60M258.75,346.50L258.75,365.60M255.70,346.50L258.75,346.50M261.80,354.30L261.80,365.60M264.85,354.30L264.85,365.60M261.80,354.30L264.85,354.30M267.90,355.40L267.90,365.60M270.95,355.40L270.95,365.60M267.90,355.40L270.95,355.40M263.33,344.90L263.33,354.30M269.42,344.90L269.42,355.40M263.33,344.90L269.42,344.90M257.23,342.30L257.23,346.50M266.38,342.30L266.38,344.90M257.23,342.30L266.38,342.30M248.84,323.40L248.84,333.10M261.80,323.40L261.80,342.30M248.84,323.40L261.80,323.40M243.50,316.50L243.50,365.60M255.32,316.50L255.32,323.40M243.50,316.50L255.32,316.50M274.00,348.50L274.00,365.60M277.05,348.50L277.05,365.60M274.00,348.50L277.05,348.50M280.10,350.00L280.10,365.60M283.15,350.00L283.15,365.60M280.10,350.00L283.15,350.00M289.25,353.80L289.25,365.60M292.30,353.80L292.30,365.60M289.25,353.80L292.30,353.80M286.20,344.90L286.20,365.60M290.77,344.90L290.77,353.80M286.20,344.90L290.77,344.90M281.62,340.00L281.62,350.00M288.49,340.00L288.49,344.90M281.62,340.00L288.49,340.00M275.52,324.90L275.52,348.50M285.06,324.90L285.06,340.00M275.52,324.90L285.06,324.90M295.35,354.30L295.35,365.60M298.40,354.30L298.40,365.60M295.35,354.30L298.40,354.30M304.50,354.60L304.50,365.60M307.55,354.60L307.55,365.60M304.50,354.60L307.55,354.60M301.45,346.50L301.45,365.60M306.02,346.50L306.02,354.60M301.45,346.50L306.02,346.50M296.88,340.50L296.88,354.30M303.74,340.50L303.74,346.50M296.88,340.50L303.74,340.50M310.60,345.10L310.60,365.60M313.65,345.10L313.65,365.60M310.60,345.10L313.65,345.10M316.70,349.20L316.70,365.60M319.75,349.20L319.75,365.60M316.70,349.20L319.75,349.20M325.85,354.30L325.85,365.60M328.90,354.30L328.90,365.60M325.85,354.30L328.90,354.30M322.80,353.00L322.80,365.60M327.38,353.00L327.38,354.30M322.80,353.00L327.38,353.00M318.23,346.50L318.23,349.20M325.09,346.50L325.09,353.00M318.23,346.50L325.09,346.50M331.95,349.20L331.95,365.60M335.00,349.20L335.00,365.60M331.95,349.20L335.00,349.20M344.15,358.00L344.15,365.60M347.20,358.00L347.20,365.60M344.15,358.00L347.20,358.00M341.10,355.40L341.10,365.60M345.67,355.40L345.67,358.00M341.10,355.40L345.67,355.40M338.05,349.70L338.05,365.60M343.39,349.70L343.39,355.40M338.05,349.70L343.39,349.70M333.48,340.80L333.48,349.20M340.72,340.80L340.72,349.70M333.48,340.80L340.72,340.80M321.66,337.20L321.66,346.50M337.10,337.20L337.10,340.80M321.66,337.20L337.10,337.20M312.12,326.60L312.12,345.10M329.38,326.60L329.38,337.20M312.12,326.60L329.38,326.60M300.31,319.70L300.31,340.50M320.75,319.70L320.75,326.60M300.31,319.70L320.75,319.70M280.29,304.60L280.29,324.90M310.53,304.60L310.53,319.70M280.29,304.60L310.53,304.60M350.25,339.50L350.25,365.60M353.30,339.50L353.30,365.60M350.25,339.50L353.30,339.50M356.35,351.50L356.35,365.60M359.40,351.50L359.40,365.60M356.35,351.50L359.40,351.50M365.50,352.30L365.50,365.60M368.55,352.30L368.55,365.60M365.50,352.30L368.55,352.30M362.45,341.50L362.45,365.60M367.02,341.50L367.02,352.30M362.45,341.50L367.02,341.50M357.88,333.80L357.88,351.50M364.74,333.80L364.74,341.50M357.88,333.80L364.74,333.80M351.77,320.80L351.77,339.50M361.31,320.80L361.31,333.80M351.77,320.80L361.31,320.80M374.65,354.50L374.65,365.60M377.70,354.50L377.70,365.60M374.65,354.50L377.70,354.50M371.60,346.20L371.60,365.60M376.17,346.20L376.17,354.50M371.60,346.20L376.17,346.20M380.75,352.20L380.75,365.60M383.80,352.20L383.80,365.60M380.75,352.20L383.80,352.20M386.85,357.40L386.85,365.60M389.90,357.40L389.90,365.60M386.85,357.40L389.90,357.40M392.95,354.50L392.95,365.60M396.00,354.50L396.00,365.60M392.95,354.50L396.00,354.50M388.38,350.00L388.38,357.40M394.48,350.00L394.48,354.50M388.38,350.00L394.48,350.00M382.27,341.00L382.27,352.20M391.43,341.00L391.43,350.00M382.27,341.00L391.43,341.00M373.89,330.20L373.89,346.20M386.85,330.20L386.85,341.00M373.89,330.20L386.85,330.20M402.10,351.70L402.10,365.60M405.15,351.70L405.15,365.60M402.10,351.70L405.15,351.70M399.05,347.90L399.05,365.60M403.62,347.90L403.62,351.70M399.05,347.90L403.62,347.90M408.20,354.50L408.20,365.60M411.25,354.50L411.25,365.60M408.20,354.50L411.25,354.50M417.35,355.20L417.35,365.60M420.40,355.20L420.40,365.60M417.35,355.20L420.40,355.20M414.30,351.30L414.30,365.60M418.88,351.30L418.88,355.20M414.30,351.30L418.88,351.30M409.73,344.80L409.73,354.50M416.59,344.80L416.59,351.30M409.73,344.80L416.59,344.80M423.45,354.50L423.45,365.60M426.50,354.50L426.50,365.60M423.45,354.50L426.50,354.50M429.55,356.00L429.55,365.60M432.60,356.00L432.60,365.60M429.55,356.00L432.60,356.00M424.98,349.60L424.98,354.50M431.07,349.60L431.07,356.00M424.98,349.60L431.07,349.60M435.65,355.00L435.65,365.60M438.70,355.00L438.70,365.60M435.65,355.00L438.70,355.00M444.80,357.00L444.80,365.60M447.85,357.00L447.85,365.60M444.80,357.00L447.85,357.00M450.90,358.00L450.90,365.60M453.95,358.00L453.95,365.60M450.90,358.00L453.95,358.00M446.32,355.50L446.32,357.00M452.42,355.50L452.42,358.00M446.32,355.50L452.42,355.50M441.75,353.40L441.75,365.60M449.37,353.40L449.37,355.50M441.75,353.40L449.37,353.40M437.17,349.60L437.17,355.00M445.56,349.60L445.56,353.40M437.17,349.60L445.56,349.60M428.02,347.50L428.02,349.60M441.37,347.50L441.37,349.60M428.02,347.50L441.37,347.50M413.16,343.00L413.16,344.80M434.70,343.00L434.70,347.50M413.16,343.00L434.70,343.00M401.34,335.40L401.34,347.90M423.93,335.40L423.93,343.00M401.34,335.40L423.93,335.40M380.37,321.00L380.37,330.20M412.63,321.00L412.63,335.40M380.37,321.00L412.63,321.00M356.54,300.80L356.54,320.80M396.50,300.80L396.50,321.00M356.54,300.80L396.50,300.80M295.41,295.40L295.41,304.60M376.52,295.40L376.52,300.80M295.41,295.40L376.52,295.40M249.41,288.20L249.41,316.50M335.97,288.20L335.97,295.40M249.41,288.20L335.97,288.20M164.54,248.30L164.54,286.80M292.69,248.30L292.69,288.20M164.54,248.30L292.69,248.30" stroke="#383838" stroke-width="0.9" fill="none" stroke-linecap="square"/>
<line x1="104.00" y1="557.00" x2="104.00" y2="671.20" stroke="#2a2a2a" stroke-width="1.6"/>
<line x1="103.20" y1="670.50" x2="311.90" y2="670.50" stroke="#2a2a2a" stroke-width="1.6"/>
<line x1="100.40" y1="670.40" x2="103.80" y2="670.40" stroke="#000" stroke-width="0.9"/>
<text x="97.20" y="673.26" font-size="8.4" fill="#222" text-anchor="end">0</text>
<line x1="100.40" y1="633.74" x2="103.80" y2="633.74" stroke="#000" stroke-width="0.9"/>
<text x="97.20" y="636.60" font-size="8.4" fill="#222" text-anchor="end">2</text>
<line x1="100.40" y1="597.08" x2="103.80" y2="597.08" stroke="#000" stroke-width="0.9"/>
<text x="97.20" y="599.94" font-size="8.4" fill="#222" text-anchor="end">4</text>
<line x1="100.40" y1="560.42" x2="103.80" y2="560.42" stroke="#000" stroke-width="0.9"/>
<text x="97.20" y="563.28" font-size="8.4" fill="#222" text-anchor="end">6</text>
<text x="83.60" y="617.21" font-size="9.6" fill="#111" text-anchor="middle" textLength="77.10" lengthAdjust="spacingAndGlyphs" transform="rotate(-90 83.60 613.95)">T-cells CD5+ gated [%]</text>
<line x1="112.30" y1="670.40" x2="112.30" y2="673.80" stroke="#000" stroke-width="0.8"/>
<line x1="129.60" y1="670.40" x2="129.60" y2="673.80" stroke="#000" stroke-width="0.8"/>
<line x1="147.10" y1="670.40" x2="147.10" y2="673.80" stroke="#000" stroke-width="0.8"/>
<line x1="112.30" y1="677.30" x2="147.10" y2="677.30" stroke="#000" stroke-width="0.9"/>
<text x="129.60" y="686.85" font-size="7.5" fill="#111" text-anchor="middle" textLength="22.00" lengthAdjust="spacingAndGlyphs">CTLA4</text>
<line x1="164.40" y1="670.40" x2="164.40" y2="673.80" stroke="#000" stroke-width="0.8"/>
<line x1="181.70" y1="670.40" x2="181.70" y2="673.80" stroke="#000" stroke-width="0.8"/>
<line x1="199.00" y1="670.40" x2="199.00" y2="673.80" stroke="#000" stroke-width="0.8"/>
<line x1="164.40" y1="677.30" x2="199.00" y2="677.30" stroke="#000" stroke-width="0.9"/>
<text x="181.70" y="686.85" font-size="7.5" fill="#111" text-anchor="middle" textLength="19.00" lengthAdjust="spacingAndGlyphs">LAG3</text>
<line x1="216.30" y1="670.40" x2="216.30" y2="673.80" stroke="#000" stroke-width="0.8"/>
<line x1="233.70" y1="670.40" x2="233.70" y2="673.80" stroke="#000" stroke-width="0.8"/>
<line x1="250.90" y1="670.40" x2="250.90" y2="673.80" stroke="#000" stroke-width="0.8"/>
<line x1="216.30" y1="677.30" x2="250.90" y2="677.30" stroke="#000" stroke-width="0.9"/>
<text x="233.70" y="686.85" font-size="7.5" fill="#111" text-anchor="middle" textLength="19.00" lengthAdjust="spacingAndGlyphs">OX40</text>
<line x1="268.80" y1="670.40" x2="268.80" y2="673.80" stroke="#000" stroke-width="0.8"/>
<line x1="285.60" y1="670.40" x2="285.60" y2="673.80" stroke="#000" stroke-width="0.8"/>
<line x1="302.90" y1="670.40" x2="302.90" y2="673.80" stroke="#000" stroke-width="0.8"/>
<line x1="268.80" y1="677.30" x2="302.90" y2="677.30" stroke="#000" stroke-width="0.9"/>
<text x="285.60" y="686.85" font-size="7.5" fill="#111" text-anchor="middle" textLength="20.50" lengthAdjust="spacingAndGlyphs">4-1BB</text>
<circle cx="112.50" cy="578.70" r="2.4" fill="#fff" stroke="#222" stroke-width="1.05"/>
<circle cx="112.50" cy="597.30" r="2.4" fill="#fff" stroke="#222" stroke-width="1.05"/>
<circle cx="112.50" cy="648.70" r="2.4" fill="#fff" stroke="#222" stroke-width="1.05"/>
<circle cx="108.10" cy="652.50" r="2.4" fill="#fff" stroke="#222" stroke-width="1.05"/>
<circle cx="116.70" cy="653.80" r="2.4" fill="#fff" stroke="#222" stroke-width="1.05"/>
<circle cx="112.50" cy="658.30" r="2.4" fill="#fff" stroke="#222" stroke-width="1.05"/>
<line x1="107.10" y1="631.50" x2="118.10" y2="631.50" stroke="#111" stroke-width="1.15"/>
<line x1="112.60" y1="617.50" x2="112.60" y2="646.70" stroke="#111" stroke-width="1.0"/>
<line x1="110.20" y1="617.50" x2="115.00" y2="617.50" stroke="#111" stroke-width="1.0"/>
<line x1="110.20" y1="646.70" x2="115.00" y2="646.70" stroke="#111" stroke-width="1.0"/>
<circle cx="130.20" cy="615.40" r="2.4" fill="#9a9a9a" stroke="#222" stroke-width="1.05"/>
<circle cx="125.40" cy="630.00" r="2.4" fill="#9a9a9a" stroke="#222" stroke-width="1.05"/>
<circle cx="130.20" cy="633.80" r="2.4" fill="#9a9a9a" stroke="#222" stroke-width="1.05"/>
<circle cx="125.40" cy="647.30" r="2.4" fill="#9a9a9a" stroke="#222" stroke-width="1.05"/>
<circle cx="134.00" cy="649.20" r="2.4" fill="#9a9a9a" stroke="#222" stroke-width="1.05"/>
<circle cx="129.60" cy="652.50" r="2.4" fill="#9a9a9a" stroke="#222" stroke-width="1.05"/>
<line x1="124.00" y1="638.50" x2="136.00" y2="638.50" stroke="#111" stroke-width="1.15"/>
<line x1="130.00" y1="633.80" x2="130.00" y2="644.20" stroke="#111" stroke-width="1.0"/>
<line x1="127.60" y1="633.80" x2="132.40" y2="633.80" stroke="#111" stroke-width="1.0"/>
<line x1="127.60" y1="644.20" x2="132.40" y2="644.20" stroke="#111" stroke-width="1.0"/>
<circle cx="147.10" cy="608.30" r="2.65" fill="#0a0a0a" stroke="#fff" stroke-width="0.3"/>
<circle cx="147.10" cy="618.50" r="2.65" fill="#0a0a0a" stroke="#fff" stroke-width="0.3"/>
<circle cx="143.70" cy="646.70" r="2.65" fill="#0a0a0a" stroke="#fff" stroke-width="0.3"/>
<circle cx="150.40" cy="648.70" r="2.65" fill="#0a0a0a" stroke="#fff" stroke-width="0.3"/>
<circle cx="147.10" cy="651.50" r="2.65" fill="#0a0a0a" stroke="#fff" stroke-width="0.3"/>
<circle cx="147.10" cy="652.50" r="2.7" fill="#0a0a0a" stroke="#fff" stroke-width="0.35"/>
<circle cx="145.10" cy="655.50" r="2.7" fill="#0a0a0a" stroke="#fff" stroke-width="0.35"/>
<circle cx="149.10" cy="655.50" r="2.7" fill="#0a0a0a" stroke="#fff" stroke-width="0.35"/>
<circle cx="143.60" cy="658.50" r="2.7" fill="#0a0a0a" stroke="#fff" stroke-width="0.35"/>
<circle cx="147.10" cy="658.50" r="2.7" fill="#0a0a0a" stroke="#fff" stroke-width="0.35"/>
<circle cx="150.60" cy="658.50" r="2.7" fill="#0a0a0a" stroke="#fff" stroke-width="0.35"/>
<circle cx="147.10" cy="661.50" r="2.7" fill="#0a0a0a" stroke="#fff" stroke-width="0.35"/>
<circle cx="143.60" cy="664.50" r="2.7" fill="#0a0a0a" stroke="#fff" stroke-width="0.35"/>
<circle cx="147.10" cy="664.50" r="2.7" fill="#0a0a0a" stroke="#fff" stroke-width="0.35"/>
<circle cx="150.60" cy="664.50" r="2.7" fill="#0a0a0a" stroke="#fff" stroke-width="0.35"/>
<circle cx="142.60" cy="667.80" r="2.7" fill="#0a0a0a" stroke="#fff" stroke-width="0.35"/>
<circle cx="145.60" cy="667.80" r="2.7" fill="#0a0a0a" stroke="#fff" stroke-width="0.35"/>
<circle cx="148.60" cy="667.80" r="2.7" fill="#0a0a0a" stroke="#fff" stroke-width="0.35"/>
<circle cx="151.60" cy="667.80" r="2.7" fill="#0a0a0a" stroke="#fff" stroke-width="0.35"/>
<line x1="141.70" y1="657.30" x2="152.70" y2="657.30" stroke="#111" stroke-width="1.15"/>
<circle cx="164.40" cy="617.90" r="2.4" fill="#fff" stroke="#222" stroke-width="1.05"/>
<circle cx="164.40" cy="628.10" r="2.4" fill="#fff" stroke="#222" stroke-width="1.05"/>
<circle cx="160.00" cy="633.80" r="2.4" fill="#fff" stroke="#222" stroke-width="1.05"/>
<circle cx="164.40" cy="637.70" r="2.4" fill="#fff" stroke="#222" stroke-width="1.05"/>
<circle cx="164.40" cy="662.30" r="2.4" fill="#fff" stroke="#222" stroke-width="1.05"/>
<circle cx="168.80" cy="662.30" r="2.4" fill="#fff" stroke="#222" stroke-width="1.05"/>
<line x1="159.60" y1="641.00" x2="170.20" y2="641.00" stroke="#111" stroke-width="1.15"/>
<line x1="164.90" y1="633.50" x2="164.90" y2="648.70" stroke="#111" stroke-width="1.0"/>
<line x1="162.50" y1="633.50" x2="167.30" y2="633.50" stroke="#111" stroke-width="1.0"/>
<line x1="162.50" y1="648.70" x2="167.30" y2="648.70" stroke="#111" stroke-width="1.0"/>
<circle cx="181.70" cy="591.20" r="2.4" fill="#9a9a9a" stroke="#222" stroke-width="1.05"/>
<circle cx="181.70" cy="612.70" r="2.4" fill="#9a9a9a" stroke="#222" stroke-width="1.05"/>
<circle cx="176.90" cy="626.20" r="2.4" fill="#9a9a9a" stroke="#222" stroke-width="1.05"/>
<circle cx="186.20" cy="626.50" r="2.4" fill="#9a9a9a" stroke="#222" stroke-width="1.05"/>
<circle cx="181.70" cy="633.80" r="2.4" fill="#9a9a9a" stroke="#222" stroke-width="1.05"/>
<circle cx="181.70" cy="643.00" r="2.4" fill="#9a9a9a" stroke="#222" stroke-width="1.05"/>
<line x1="176.00" y1="622.70" x2="187.50" y2="622.70" stroke="#111" stroke-width="1.15"/>
<line x1="181.75" y1="616.20" x2="181.75" y2="629.60" stroke="#111" stroke-width="1.0"/>
<line x1="179.35" y1="616.20" x2="184.15" y2="616.20" stroke="#111" stroke-width="1.0"/>
<line x1="179.35" y1="629.60" x2="184.15" y2="629.60" stroke="#111" stroke-width="1.0"/>
<circle cx="195.00" cy="641.50" r="2.65" fill="#0a0a0a" stroke="#fff" stroke-width="0.3"/>
<circle cx="203.20" cy="643.80" r="2.65" fill="#0a0a0a" stroke="#fff" stroke-width="0.3"/>
<circle cx="199.60" cy="645.40" r="2.65" fill="#0a0a0a" stroke="#fff" stroke-width="0.3"/>
<circle cx="199.00" cy="650.50" r="2.7" fill="#0a0a0a" stroke="#fff" stroke-width="0.35"/>
<circle cx="196.50" cy="653.50" r="2.7" fill="#0a0a0a" stroke="#fff" stroke-width="0.35"/>
<circle cx="201.50" cy="653.50" r="2.7" fill="#0a0a0a" stroke="#fff" stroke-width="0.35"/>
<circle cx="195.00" cy="657.50" r="2.7" fill="#0a0a0a" stroke="#fff" stroke-width="0.35"/>
<circle cx="199.00" cy="657.50" r="2.7" fill="#0a0a0a" stroke="#fff" stroke-width="0.35"/>
<circle cx="203.00" cy="657.50" r="2.7" fill="#0a0a0a" stroke="#fff" stroke-width="0.35"/>
<circle cx="195.00" cy="660.50" r="2.7" fill="#0a0a0a" stroke="#fff" stroke-width="0.35"/>
<circle cx="199.00" cy="660.50" r="2.7" fill="#0a0a0a" stroke="#fff" stroke-width="0.35"/>
<circle cx="203.00" cy="660.50" r="2.7" fill="#0a0a0a" stroke="#fff" stroke-width="0.35"/>
<circle cx="197.00" cy="663.50" r="2.7" fill="#0a0a0a" stroke="#fff" stroke-width="0.35"/>
<circle cx="201.00" cy="663.50" r="2.7" fill="#0a0a0a" stroke="#fff" stroke-width="0.35"/>
<circle cx="195.00" cy="666.50" r="2.7" fill="#0a0a0a" stroke="#fff" stroke-width="0.35"/>
<circle cx="199.00" cy="666.50" r="2.7" fill="#0a0a0a" stroke="#fff" stroke-width="0.35"/>
<circle cx="203.00" cy="666.50" r="2.7" fill="#0a0a0a" stroke="#fff" stroke-width="0.35"/>
<circle cx="194.50" cy="668.00" r="2.7" fill="#0a0a0a" stroke="#fff" stroke-width="0.35"/>
<circle cx="197.50" cy="668.00" r="2.7" fill="#0a0a0a" stroke="#fff" stroke-width="0.35"/>
<circle cx="200.50" cy="668.00" r="2.7" fill="#0a0a0a" stroke="#fff" stroke-width="0.35"/>
<circle cx="203.50" cy="668.00" r="2.7" fill="#0a0a0a" stroke="#fff" stroke-width="0.35"/>
<line x1="193.50" y1="658.50" x2="204.50" y2="658.50" stroke="#111" stroke-width="1.15"/>
<circle cx="211.90" cy="615.60" r="2.4" fill="#fff" stroke="#222" stroke-width="1.05"/>
<circle cx="216.90" cy="615.60" r="2.4" fill="#fff" stroke="#222" stroke-width="1.05"/>
<circle cx="216.30" cy="626.50" r="2.4" fill="#fff" stroke="#222" stroke-width="1.05"/>
<circle cx="216.30" cy="644.40" r="2.4" fill="#fff" stroke="#222" stroke-width="1.05"/>
<circle cx="221.20" cy="652.70" r="2.4" fill="#fff" stroke="#222" stroke-width="1.05"/>
<circle cx="216.30" cy="655.40" r="2.4" fill="#fff" stroke="#222" stroke-width="1.05"/>
<line x1="211.20" y1="635.40" x2="222.10" y2="635.40" stroke="#111" stroke-width="1.15"/>
<line x1="216.65" y1="626.50" x2="216.65" y2="644.50" stroke="#111" stroke-width="1.0"/>
<line x1="214.25" y1="626.50" x2="219.05" y2="626.50" stroke="#111" stroke-width="1.0"/>
<line x1="214.25" y1="644.50" x2="219.05" y2="644.50" stroke="#111" stroke-width="1.0"/>
<circle cx="233.70" cy="582.30" r="2.4" fill="#9a9a9a" stroke="#222" stroke-width="1.05"/>
<circle cx="233.70" cy="606.50" r="2.4" fill="#9a9a9a" stroke="#222" stroke-width="1.05"/>
<circle cx="232.70" cy="615.60" r="2.4" fill="#9a9a9a" stroke="#222" stroke-width="1.05"/>
<circle cx="238.10" cy="615.60" r="2.4" fill="#9a9a9a" stroke="#222" stroke-width="1.05"/>
<circle cx="233.70" cy="626.50" r="2.4" fill="#9a9a9a" stroke="#222" stroke-width="1.05"/>
<circle cx="233.70" cy="646.90" r="2.4" fill="#9a9a9a" stroke="#222" stroke-width="1.05"/>
<line x1="227.90" y1="615.60" x2="239.40" y2="615.60" stroke="#111" stroke-width="1.15"/>
<line x1="233.65" y1="612.70" x2="233.65" y2="619.40" stroke="#111" stroke-width="1.0"/>
<line x1="231.25" y1="612.70" x2="236.05" y2="612.70" stroke="#111" stroke-width="1.0"/>
<line x1="231.25" y1="619.40" x2="236.05" y2="619.40" stroke="#111" stroke-width="1.0"/>
<circle cx="251.00" cy="647.70" r="2.65" fill="#0a0a0a" stroke="#fff" stroke-width="0.3"/>
<circle cx="250.90" cy="653.00" r="2.7" fill="#0a0a0a" stroke="#fff" stroke-width="0.35"/>
<circle cx="248.40" cy="655.50" r="2.7" fill="#0a0a0a" stroke="#fff" stroke-width="0.35"/>
<circle cx="253.40" cy="655.50" r="2.7" fill="#0a0a0a" stroke="#fff" stroke-width="0.35"/>
<circle cx="246.90" cy="658.50" r="2.7" fill="#0a0a0a" stroke="#fff" stroke-width="0.35"/>
<circle cx="250.90" cy="658.50" r="2.7" fill="#0a0a0a" stroke="#fff" stroke-width="0.35"/>
<circle cx="254.90" cy="658.50" r="2.7" fill="#0a0a0a" stroke="#fff" stroke-width="0.35"/>
<circle cx="248.90" cy="661.50" r="2.7" fill="#0a0a0a" stroke="#fff" stroke-width="0.35"/>
<circle cx="252.90" cy="661.50" r="2.7" fill="#0a0a0a" stroke="#fff" stroke-width="0.35"/>
<circle cx="246.90" cy="664.50" r="2.7" fill="#0a0a0a" stroke="#fff" stroke-width="0.35"/>
<circle cx="250.90" cy="664.50" r="2.7" fill="#0a0a0a" stroke="#fff" stroke-width="0.35"/>
<circle cx="254.90" cy="664.50" r="2.7" fill="#0a0a0a" stroke="#fff" stroke-width="0.35"/>
<circle cx="246.40" cy="667.50" r="2.7" fill="#0a0a0a" stroke="#fff" stroke-width="0.35"/>
<circle cx="249.40" cy="667.50" r="2.7" fill="#0a0a0a" stroke="#fff" stroke-width="0.35"/>
<circle cx="252.40" cy="667.50" r="2.7" fill="#0a0a0a" stroke="#fff" stroke-width="0.35"/>
<circle cx="255.40" cy="667.50" r="2.7" fill="#0a0a0a" stroke="#fff" stroke-width="0.35"/>
<line x1="245.50" y1="661.00" x2="256.50" y2="661.00" stroke="#111" stroke-width="1.15"/>
<circle cx="268.80" cy="611.70" r="2.4" fill="#fff" stroke="#222" stroke-width="1.05"/>
<circle cx="264.40" cy="648.80" r="2.4" fill="#fff" stroke="#222" stroke-width="1.05"/>
<circle cx="273.10" cy="646.90" r="2.4" fill="#fff" stroke="#222" stroke-width="1.05"/>
<circle cx="268.80" cy="652.10" r="2.4" fill="#fff" stroke="#222" stroke-width="1.05"/>
<circle cx="273.10" cy="655.40" r="2.4" fill="#fff" stroke="#222" stroke-width="1.05"/>
<circle cx="268.80" cy="663.70" r="2.4" fill="#fff" stroke="#222" stroke-width="1.05"/>
<line x1="263.50" y1="646.90" x2="275.00" y2="646.90" stroke="#111" stroke-width="1.15"/>
<line x1="269.25" y1="639.20" x2="269.25" y2="650.50" stroke="#111" stroke-width="1.0"/>
<line x1="266.85" y1="639.20" x2="271.65" y2="639.20" stroke="#111" stroke-width="1.0"/>
<line x1="266.85" y1="650.50" x2="271.65" y2="650.50" stroke="#111" stroke-width="1.0"/>
<circle cx="285.60" cy="607.90" r="2.4" fill="#9a9a9a" stroke="#222" stroke-width="1.05"/>
<circle cx="290.40" cy="606.50" r="2.4" fill="#9a9a9a" stroke="#222" stroke-width="1.05"/>
<circle cx="285.60" cy="619.40" r="2.4" fill="#9a9a9a" stroke="#222" stroke-width="1.05"/>
<circle cx="285.60" cy="633.50" r="2.4" fill="#9a9a9a" stroke="#222" stroke-width="1.05"/>
<circle cx="285.60" cy="643.10" r="2.4" fill="#9a9a9a" stroke="#222" stroke-width="1.05"/>
<circle cx="285.60" cy="654.00" r="2.4" fill="#9a9a9a" stroke="#222" stroke-width="1.05"/>
<line x1="280.40" y1="627.70" x2="291.30" y2="627.70" stroke="#111" stroke-width="1.15"/>
<line x1="285.85" y1="619.50" x2="285.85" y2="636.00" stroke="#111" stroke-width="1.0"/>
<line x1="283.45" y1="619.50" x2="288.25" y2="619.50" stroke="#111" stroke-width="1.0"/>
<line x1="283.45" y1="636.00" x2="288.25" y2="636.00" stroke="#111" stroke-width="1.0"/>
<circle cx="303.00" cy="644.80" r="2.65" fill="#0a0a0a" stroke="#fff" stroke-width="0.3"/>
<circle cx="303.00" cy="650.50" r="2.7" fill="#0a0a0a" stroke="#fff" stroke-width="0.35"/>
<circle cx="301.50" cy="653.00" r="2.7" fill="#0a0a0a" stroke="#fff" stroke-width="0.35"/>
<circle cx="304.50" cy="653.00" r="2.7" fill="#0a0a0a" stroke="#fff" stroke-width="0.35"/>
<circle cx="299.00" cy="656.50" r="2.7" fill="#0a0a0a" stroke="#fff" stroke-width="0.35"/>
<circle cx="303.00" cy="656.50" r="2.7" fill="#0a0a0a" stroke="#fff" stroke-width="0.35"/>
<circle cx="307.00" cy="656.50" r="2.7" fill="#0a0a0a" stroke="#fff" stroke-width="0.35"/>
<circle cx="299.00" cy="658.50" r="2.7" fill="#0a0a0a" stroke="#fff" stroke-width="0.35"/>
<circle cx="303.00" cy="658.50" r="2.7" fill="#0a0a0a" stroke="#fff" stroke-width="0.35"/>
<circle cx="307.00" cy="658.50" r="2.7" fill="#0a0a0a" stroke="#fff" stroke-width="0.35"/>
<circle cx="301.00" cy="661.00" r="2.7" fill="#0a0a0a" stroke="#fff" stroke-width="0.35"/>
<circle cx="305.00" cy="661.00" r="2.7" fill="#0a0a0a" stroke="#fff" stroke-width="0.35"/>
<circle cx="299.00" cy="664.50" r="2.7" fill="#0a0a0a" stroke="#fff" stroke-width="0.35"/>
<circle cx="303.00" cy="664.50" r="2.7" fill="#0a0a0a" stroke="#fff" stroke-width="0.35"/>
<circle cx="307.00" cy="664.50" r="2.7" fill="#0a0a0a" stroke="#fff" stroke-width="0.35"/>
<circle cx="299.00" cy="666.50" r="2.7" fill="#0a0a0a" stroke="#fff" stroke-width="0.35"/>
<circle cx="303.00" cy="666.50" r="2.7" fill="#0a0a0a" stroke="#fff" stroke-width="0.35"/>
<circle cx="307.00" cy="666.50" r="2.7" fill="#0a0a0a" stroke="#fff" stroke-width="0.35"/>
<circle cx="301.00" cy="668.00" r="2.7" fill="#0a0a0a" stroke="#fff" stroke-width="0.35"/>
<circle cx="305.00" cy="668.00" r="2.7" fill="#0a0a0a" stroke="#fff" stroke-width="0.35"/>
<line x1="297.50" y1="659.00" x2="308.50" y2="659.00" stroke="#111" stroke-width="1.15"/>
<text x="129.60" y="569.41" font-size="6.8" fill="#222" text-anchor="middle" textLength="22.00" lengthAdjust="spacingAndGlyphs">P=0.021</text>
<line x1="111.90" y1="572.90" x2="148.10" y2="572.90" stroke="#444" stroke-width="1.45"/>
<text x="138.80" y="599.21" font-size="6.8" fill="#222" text-anchor="middle" textLength="22.00" lengthAdjust="spacingAndGlyphs">P=0.022</text>
<line x1="129.20" y1="602.30" x2="148.80" y2="602.30" stroke="#444" stroke-width="1.45"/>
<text x="182.30" y="570.41" font-size="6.8" fill="#222" text-anchor="middle" textLength="26.00" lengthAdjust="spacingAndGlyphs">P=0.0021</text>
<line x1="164.40" y1="573.30" x2="200.40" y2="573.30" stroke="#444" stroke-width="1.45"/>
<text x="190.40" y="582.31" font-size="6.8" fill="#222" text-anchor="middle" textLength="25.00" lengthAdjust="spacingAndGlyphs">P&lt;0.0001</text>
<line x1="181.70" y1="585.60" x2="200.40" y2="585.60" stroke="#444" stroke-width="1.45"/>
<text x="234.60" y="561.51" font-size="6.8" fill="#222" text-anchor="middle" textLength="25.00" lengthAdjust="spacingAndGlyphs">P&lt;0.0001</text>
<line x1="216.30" y1="564.40" x2="251.90" y2="564.40" stroke="#444" stroke-width="1.45"/>
<text x="242.80" y="574.21" font-size="6.8" fill="#222" text-anchor="middle" textLength="25.00" lengthAdjust="spacingAndGlyphs">P&lt;0.0001</text>
<line x1="233.70" y1="577.50" x2="252.90" y2="577.50" stroke="#444" stroke-width="1.45"/>
<text x="286.20" y="570.41" font-size="6.8" fill="#222" text-anchor="middle" textLength="22.00" lengthAdjust="spacingAndGlyphs">P=0.021</text>
<line x1="268.30" y1="573.30" x2="303.80" y2="573.30" stroke="#444" stroke-width="1.45"/>
<text x="294.60" y="582.71" font-size="6.8" fill="#222" text-anchor="middle" textLength="25.00" lengthAdjust="spacingAndGlyphs">P&lt;0.0001</text>
<line x1="285.60" y1="585.60" x2="303.80" y2="585.60" stroke="#444" stroke-width="1.45"/>
<text x="374.80" y="549.11" font-size="6.8" fill="#222" text-anchor="middle" textLength="26.00" lengthAdjust="spacingAndGlyphs">P=0.0018</text>
<line x1="356.90" y1="552.30" x2="392.70" y2="552.30" stroke="#444" stroke-width="1.45"/>
<text x="383.80" y="559.81" font-size="6.8" fill="#222" text-anchor="middle" textLength="22.00" lengthAdjust="spacingAndGlyphs">P=0.029</text>
<line x1="374.10" y1="563.30" x2="392.70" y2="563.30" stroke="#444" stroke-width="1.45"/>
<text x="417.30" y="570.51" font-size="6.8" fill="#222" text-anchor="middle" textLength="25.00" lengthAdjust="spacingAndGlyphs">P&lt;0.0001</text>
<line x1="407.30" y1="573.70" x2="426.40" y2="573.70" stroke="#444" stroke-width="1.45"/>
<text x="435.80" y="582.31" font-size="6.8" fill="#222" text-anchor="middle" textLength="25.00" lengthAdjust="spacingAndGlyphs">P&lt;0.0001</text>
<line x1="426.00" y1="585.50" x2="444.50" y2="585.50" stroke="#444" stroke-width="1.45"/>
<line x1="348.60" y1="557.00" x2="348.60" y2="671.20" stroke="#2a2a2a" stroke-width="1.6"/>
<line x1="347.80" y1="670.50" x2="455.50" y2="670.50" stroke="#2a2a2a" stroke-width="1.6"/>
<line x1="345.20" y1="670.50" x2="348.60" y2="670.50" stroke="#000" stroke-width="1.0"/>
<text x="340.90" y="673.08" font-size="7.6" fill="#222" text-anchor="end" textLength="3.80" lengthAdjust="spacingAndGlyphs">0</text>
<line x1="345.20" y1="648.36" x2="348.60" y2="648.36" stroke="#000" stroke-width="1.0"/>
<text x="340.90" y="650.94" font-size="7.6" fill="#222" text-anchor="end" textLength="7.30" lengthAdjust="spacingAndGlyphs">20</text>
<line x1="345.20" y1="626.22" x2="348.60" y2="626.22" stroke="#000" stroke-width="1.0"/>
<text x="340.90" y="628.80" font-size="7.6" fill="#222" text-anchor="end" textLength="7.30" lengthAdjust="spacingAndGlyphs">40</text>
<line x1="345.20" y1="604.08" x2="348.60" y2="604.08" stroke="#000" stroke-width="1.0"/>
<text x="340.90" y="606.66" font-size="7.6" fill="#222" text-anchor="end" textLength="7.30" lengthAdjust="spacingAndGlyphs">60</text>
<line x1="345.20" y1="581.94" x2="348.60" y2="581.94" stroke="#000" stroke-width="1.0"/>
<text x="340.90" y="584.52" font-size="7.6" fill="#222" text-anchor="end" textLength="7.30" lengthAdjust="spacingAndGlyphs">80</text>
<line x1="345.20" y1="559.80" x2="348.60" y2="559.80" stroke="#000" stroke-width="1.0"/>
<text x="340.90" y="562.38" font-size="7.6" fill="#222" text-anchor="end" textLength="11.00" lengthAdjust="spacingAndGlyphs">100</text>
<line x1="357.60" y1="670.40" x2="357.60" y2="673.80" stroke="#000" stroke-width="0.8"/>
<line x1="374.40" y1="670.40" x2="374.40" y2="673.80" stroke="#000" stroke-width="0.8"/>
<line x1="391.60" y1="670.40" x2="391.60" y2="673.80" stroke="#000" stroke-width="0.8"/>
<line x1="357.60" y1="677.30" x2="391.60" y2="677.30" stroke="#000" stroke-width="0.9"/>
<text x="374.40" y="686.95" font-size="7.5" fill="#111" text-anchor="middle" textLength="20.50" lengthAdjust="spacingAndGlyphs">PD-L1</text>
<line x1="409.60" y1="670.40" x2="409.60" y2="673.80" stroke="#000" stroke-width="0.8"/>
<line x1="426.40" y1="670.40" x2="426.40" y2="673.80" stroke="#000" stroke-width="0.8"/>
<line x1="443.60" y1="670.40" x2="443.60" y2="673.80" stroke="#000" stroke-width="0.8"/>
<line x1="409.60" y1="677.30" x2="443.60" y2="677.30" stroke="#000" stroke-width="0.9"/>
<text x="426.40" y="686.95" font-size="7.5" fill="#111" text-anchor="middle" textLength="14.50" lengthAdjust="spacingAndGlyphs">PD1</text>
<circle cx="353.10" cy="568.50" r="2.4" fill="#fff" stroke="#222" stroke-width="1.05"/>
<circle cx="361.40" cy="567.60" r="2.4" fill="#fff" stroke="#222" stroke-width="1.05"/>
<circle cx="357.60" cy="573.00" r="2.4" fill="#fff" stroke="#222" stroke-width="1.05"/>
<circle cx="357.60" cy="598.20" r="2.4" fill="#fff" stroke="#222" stroke-width="1.05"/>
<circle cx="357.60" cy="620.60" r="2.4" fill="#fff" stroke="#222" stroke-width="1.05"/>
<circle cx="357.60" cy="635.10" r="2.4" fill="#fff" stroke="#222" stroke-width="1.05"/>
<line x1="352.40" y1="594.20" x2="362.50" y2="594.20" stroke="#111" stroke-width="1.15"/>
<line x1="357.45" y1="582.60" x2="357.45" y2="606.00" stroke="#111" stroke-width="1.0"/>
<line x1="355.05" y1="582.60" x2="359.85" y2="582.60" stroke="#111" stroke-width="1.0"/>
<line x1="355.05" y1="606.00" x2="359.85" y2="606.00" stroke="#111" stroke-width="1.0"/>
<circle cx="370.30" cy="584.40" r="2.4" fill="#9a9a9a" stroke="#222" stroke-width="1.05"/>
<circle cx="374.80" cy="592.20" r="2.4" fill="#9a9a9a" stroke="#222" stroke-width="1.05"/>
<circle cx="374.80" cy="609.40" r="2.4" fill="#9a9a9a" stroke="#222" stroke-width="1.05"/>
<circle cx="370.30" cy="622.80" r="2.4" fill="#9a9a9a" stroke="#222" stroke-width="1.05"/>
<circle cx="374.80" cy="628.40" r="2.4" fill="#9a9a9a" stroke="#222" stroke-width="1.05"/>
<circle cx="374.80" cy="644.10" r="2.4" fill="#9a9a9a" stroke="#222" stroke-width="1.05"/>
<line x1="369.20" y1="613.90" x2="380.00" y2="613.90" stroke="#111" stroke-width="1.15"/>
<line x1="374.60" y1="604.30" x2="374.60" y2="623.50" stroke="#111" stroke-width="1.0"/>
<line x1="372.20" y1="604.30" x2="377.00" y2="604.30" stroke="#111" stroke-width="1.0"/>
<line x1="372.20" y1="623.50" x2="377.00" y2="623.50" stroke="#111" stroke-width="1.0"/>
<circle cx="391.60" cy="567.60" r="2.65" fill="#0a0a0a" stroke="#fff" stroke-width="0.3"/>
<circle cx="388.20" cy="583.20" r="2.65" fill="#0a0a0a" stroke="#fff" stroke-width="0.3"/>
<circle cx="391.60" cy="587.70" r="2.65" fill="#0a0a0a" stroke="#fff" stroke-width="0.3"/>
<circle cx="391.60" cy="603.40" r="2.65" fill="#0a0a0a" stroke="#fff" stroke-width="0.3"/>
<circle cx="391.60" cy="632.00" r="2.65" fill="#0a0a0a" stroke="#fff" stroke-width="0.3"/>
<circle cx="388.20" cy="651.30" r="2.65" fill="#0a0a0a" stroke="#fff" stroke-width="0.3"/>
<circle cx="391.60" cy="650.40" r="2.65" fill="#0a0a0a" stroke="#fff" stroke-width="0.3"/>
<circle cx="391.60" cy="657.10" r="2.65" fill="#0a0a0a" stroke="#fff" stroke-width="0.3"/>
<circle cx="391.60" cy="663.50" r="2.65" fill="#0a0a0a" stroke="#fff" stroke-width="0.3"/>
<circle cx="389.00" cy="666.50" r="2.65" fill="#0a0a0a" stroke="#fff" stroke-width="0.3"/>
<circle cx="394.20" cy="666.50" r="2.65" fill="#0a0a0a" stroke="#fff" stroke-width="0.3"/>
<circle cx="386.50" cy="669.30" r="2.65" fill="#0a0a0a" stroke="#fff" stroke-width="0.3"/>
<circle cx="391.60" cy="669.30" r="2.65" fill="#0a0a0a" stroke="#fff" stroke-width="0.3"/>
<circle cx="396.70" cy="669.30" r="2.65" fill="#0a0a0a" stroke="#fff" stroke-width="0.3"/>
<line x1="386.00" y1="648.10" x2="397.20" y2="648.10" stroke="#111" stroke-width="1.15"/>
<line x1="391.60" y1="640.70" x2="391.60" y2="654.20" stroke="#111" stroke-width="1.0"/>
<line x1="389.20" y1="640.70" x2="394.00" y2="640.70" stroke="#111" stroke-width="1.0"/>
<line x1="389.20" y1="654.20" x2="394.00" y2="654.20" stroke="#111" stroke-width="1.0"/>
<circle cx="409.60" cy="661.80" r="2.4" fill="#fff" stroke="#222" stroke-width="1.05"/>
<circle cx="405.00" cy="667.50" r="2.4" fill="#fff" stroke="#222" stroke-width="1.05"/>
<circle cx="414.20" cy="667.50" r="2.4" fill="#fff" stroke="#222" stroke-width="1.05"/>
<circle cx="409.60" cy="668.60" r="2.4" fill="#fff" stroke="#222" stroke-width="1.05"/>
<circle cx="407.00" cy="669.00" r="2.4" fill="#fff" stroke="#222" stroke-width="1.05"/>
<circle cx="412.20" cy="669.00" r="2.4" fill="#fff" stroke="#222" stroke-width="1.05"/>
<line x1="404.00" y1="667.20" x2="415.00" y2="667.20" stroke="#111" stroke-width="1.15"/>
<circle cx="426.40" cy="640.00" r="2.4" fill="#9a9a9a" stroke="#222" stroke-width="1.05"/>
<circle cx="422.00" cy="644.50" r="2.4" fill="#9a9a9a" stroke="#222" stroke-width="1.05"/>
<circle cx="426.40" cy="645.00" r="2.4" fill="#9a9a9a" stroke="#222" stroke-width="1.05"/>
<circle cx="431.00" cy="645.30" r="2.4" fill="#9a9a9a" stroke="#222" stroke-width="1.05"/>
<circle cx="432.70" cy="648.50" r="2.4" fill="#9a9a9a" stroke="#222" stroke-width="1.05"/>
<circle cx="426.40" cy="651.80" r="2.4" fill="#9a9a9a" stroke="#222" stroke-width="1.05"/>
<line x1="421.00" y1="645.50" x2="432.00" y2="645.50" stroke="#111" stroke-width="1.15"/>
<line x1="426.50" y1="644.00" x2="426.50" y2="647.00" stroke="#111" stroke-width="1.0"/>
<line x1="424.10" y1="644.00" x2="428.90" y2="644.00" stroke="#111" stroke-width="1.0"/>
<line x1="424.10" y1="647.00" x2="428.90" y2="647.00" stroke="#111" stroke-width="1.0"/>
<circle cx="443.60" cy="648.50" r="2.65" fill="#0a0a0a" stroke="#fff" stroke-width="0.3"/>
<circle cx="443.60" cy="666.40" r="2.65" fill="#0a0a0a" stroke="#fff" stroke-width="0.3"/>
<circle cx="438.50" cy="669.50" r="2.65" fill="#0a0a0a" stroke="#fff" stroke-width="0.3"/>
<circle cx="441.00" cy="669.50" r="2.65" fill="#0a0a0a" stroke="#fff" stroke-width="0.3"/>
<circle cx="446.20" cy="669.50" r="2.65" fill="#0a0a0a" stroke="#fff" stroke-width="0.3"/>
<circle cx="448.70" cy="669.50" r="2.65" fill="#0a0a0a" stroke="#fff" stroke-width="0.3"/>
<circle cx="443.60" cy="670.00" r="2.65" fill="#0a0a0a" stroke="#fff" stroke-width="0.3"/>
<line x1="438.00" y1="668.00" x2="449.00" y2="668.00" stroke="#111" stroke-width="1.15"/>
<circle cx="105.30" cy="702.80" r="2.6" fill="#fff" stroke="#333" stroke-width="1.0"/>
<text x="112.30" y="705.18" font-size="7.0" fill="#222" textLength="106.90" lengthAdjust="spacingAndGlyphs">healthy-donor naïve T-cells (n=6)</text>
<circle cx="232.50" cy="702.80" r="2.6" fill="#9a9a9a" stroke="#333" stroke-width="1.0"/>
<text x="238.50" y="705.18" font-size="7.0" fill="#222" textLength="131.20" lengthAdjust="spacingAndGlyphs">healthy-donor pan-memory T-cells (n=6)</text>
<circle cx="383.70" cy="702.80" r="2.9" fill="#0a0a0a"/>
<text x="390.90" y="705.18" font-size="7.0" fill="#222" textLength="38.90" lengthAdjust="spacingAndGlyphs">T-PLL (n=20)</text>
<rect x="0" y="0" width="520" height="1.25" fill="#000"/><rect x="0" y="0" width="1.25" height="715" fill="#000"/><rect x="518.75" y="0" width="1.25" height="715" fill="#000"/><rect x="0" y="713.8" width="520" height="1.2" fill="#000"/>
</svg>
</body></html>
